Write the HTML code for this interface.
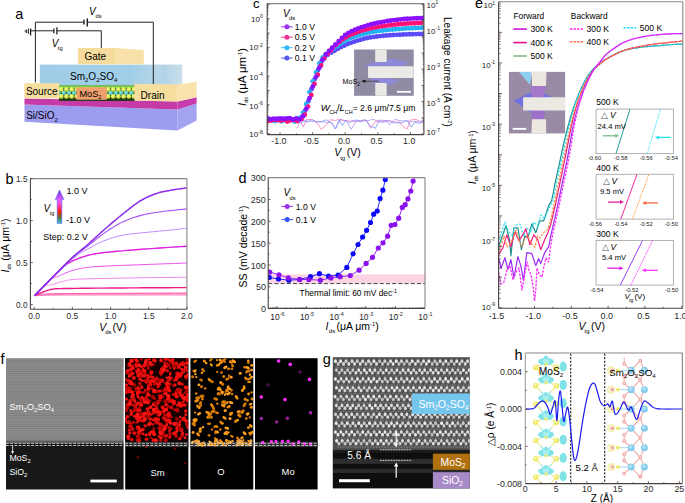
<!DOCTYPE html>
<html><head><meta charset="utf-8"><style>
html,body{margin:0;padding:0;background:#fff;}
svg{display:block;font-family:"Liberation Sans", sans-serif;}
</style></head><body>
<svg width="685" height="503" viewBox="0 0 685 503">
<rect width="685" height="503" fill="#fff"/>
<text x="15.20" y="19.20" font-size="14.5" text-anchor="start" fill="#000" >a</text>
<polyline points="35.40,82.50 35.40,22.20 83.60,22.20" fill="none" stroke="#222" stroke-width="1.0" stroke-linejoin="round" />
<line x1="84.00" y1="19.80" x2="84.00" y2="24.40" stroke="#222" stroke-width="1.5" />
<line x1="87.30" y1="18.40" x2="87.30" y2="26.60" stroke="#222" stroke-width="1.5" />
<text x="89.00" y="14.90" font-size="10" text-anchor="start" fill="#000" font-style="italic" >V</text>
<text x="95.60" y="17.80" font-size="5.8" text-anchor="start" fill="#000" >ds</text>
<polyline points="30.40,30.80 53.90,30.80" fill="none" stroke="#222" stroke-width="1.0" stroke-linejoin="round" />
<polyline points="56.90,30.80 101.30,30.80 101.30,48.30" fill="none" stroke="#222" stroke-width="1.0" stroke-linejoin="round" />
<line x1="53.90" y1="28.40" x2="53.90" y2="33.20" stroke="#222" stroke-width="1.3" />
<line x1="56.90" y1="27.30" x2="56.90" y2="34.40" stroke="#222" stroke-width="1.3" />
<line x1="30.60" y1="28.40" x2="30.60" y2="35.40" stroke="#222" stroke-width="1.3" />
<line x1="28.40" y1="28.60" x2="28.40" y2="34.00" stroke="#222" stroke-width="1.0" />
<line x1="26.60" y1="29.60" x2="26.60" y2="33.00" stroke="#222" stroke-width="1.0" /><line x1="25.20" y1="30.00" x2="25.20" y2="32.40" stroke="#222" stroke-width="0.8" />
<text x="51.80" y="46.50" font-size="10" text-anchor="start" fill="#000" font-style="italic" >V</text>
<text x="57.80" y="49.60" font-size="5.8" text-anchor="start" fill="#000" >tg</text>
<polygon points="24.50,104.60 177.60,109.50 177.60,130.40 24.50,121.80" fill="#9d9def" />
<polygon points="177.60,109.50 196.60,103.60 196.60,120.50 177.60,130.40" fill="#a3a3f2" />
<polygon points="24.50,98.40 177.60,101.60 177.60,109.50 24.50,104.60" fill="#c43aa6" />
<polygon points="177.60,101.60 196.60,97.20 196.60,103.60 177.60,109.50" fill="#c83cac" />
<defs><linearGradient id="smg" x1="0" x2="1"><stop offset="0" stop-color="#9fcde7"/><stop offset="0.75" stop-color="#a2cfe8"/><stop offset="1" stop-color="#b9d6e6"/></linearGradient><linearGradient id="smside" x1="0" x2="1"><stop offset="0" stop-color="#aed3e8"/><stop offset="1" stop-color="#cbdfea"/></linearGradient></defs>
<rect x="39.80" y="64.60" width="122.20" height="21.60" fill="url(#smg)" />
<rect x="162.00" y="64.60" width="20.30" height="21.60" fill="url(#smside)" />
<text x="70.00" y="79.50" font-size="10" text-anchor="start" fill="#000" >Sm<tspan font-size="6" dy="2.2">2</tspan><tspan font-size="10" dy="-2.2">O</tspan><tspan font-size="6" dy="2.2">2</tspan><tspan font-size="10" dy="-2.2">SO</tspan><tspan font-size="6" dy="2.2">4</tspan></text>
<polygon points="77.90,48.00 115.00,48.00 115.00,64.30 77.90,64.30" fill="#f6dc9c" />
<polygon points="115.00,48.00 143.80,50.00 143.80,64.30 115.00,64.30" fill="#f7e1a8" />
<text x="84.40" y="60.40" font-size="10" text-anchor="start" fill="#000" >Gate</text>
<rect x="59.00" y="85.60" width="76.00" height="15.40" fill="#2a3a20" />
<rect x="59.00" y="85.40" width="76.00" height="2.60" fill="#7ccc4a" />
<radialGradient id="by" cx="0.4" cy="0.35" r="0.6"><stop offset="0" stop-color="#f4ff90"/><stop offset="1" stop-color="#c8de30"/></radialGradient><radialGradient id="bt" cx="0.4" cy="0.35" r="0.6"><stop offset="0" stop-color="#90f0e0"/><stop offset="1" stop-color="#40b0a8"/></radialGradient>
<circle cx="58.60" cy="92.90" r="2.40" fill="url(#bt)" />
<circle cx="63.80" cy="92.90" r="2.40" fill="url(#bt)" />
<circle cx="69.00" cy="92.90" r="2.40" fill="url(#bt)" />
<circle cx="74.20" cy="92.90" r="2.40" fill="url(#bt)" />
<circle cx="79.40" cy="92.90" r="2.40" fill="url(#bt)" />
<circle cx="84.60" cy="92.90" r="2.40" fill="url(#bt)" />
<circle cx="89.80" cy="92.90" r="2.40" fill="url(#bt)" />
<circle cx="95.00" cy="92.90" r="2.40" fill="url(#bt)" />
<circle cx="100.20" cy="92.90" r="2.40" fill="url(#bt)" />
<circle cx="105.40" cy="92.90" r="2.40" fill="url(#bt)" />
<circle cx="110.60" cy="92.90" r="2.40" fill="url(#bt)" />
<circle cx="115.80" cy="92.90" r="2.40" fill="url(#bt)" />
<circle cx="121.00" cy="92.90" r="2.40" fill="url(#bt)" />
<circle cx="126.20" cy="92.90" r="2.40" fill="url(#bt)" />
<circle cx="131.40" cy="92.90" r="2.40" fill="url(#bt)" />
<circle cx="61.20" cy="89.30" r="2.40" fill="url(#by)" />
<circle cx="66.40" cy="89.30" r="2.40" fill="url(#by)" />
<circle cx="71.60" cy="89.30" r="2.40" fill="url(#by)" />
<circle cx="76.80" cy="89.30" r="2.40" fill="url(#by)" />
<circle cx="82.00" cy="89.30" r="2.40" fill="url(#by)" />
<circle cx="87.20" cy="89.30" r="2.40" fill="url(#by)" />
<circle cx="92.40" cy="89.30" r="2.40" fill="url(#by)" />
<circle cx="97.60" cy="89.30" r="2.40" fill="url(#by)" />
<circle cx="102.80" cy="89.30" r="2.40" fill="url(#by)" />
<circle cx="108.00" cy="89.30" r="2.40" fill="url(#by)" />
<circle cx="113.20" cy="89.30" r="2.40" fill="url(#by)" />
<circle cx="118.40" cy="89.30" r="2.40" fill="url(#by)" />
<circle cx="123.60" cy="89.30" r="2.40" fill="url(#by)" />
<circle cx="128.80" cy="89.30" r="2.40" fill="url(#by)" />
<circle cx="134.00" cy="89.30" r="2.40" fill="url(#by)" />
<circle cx="61.20" cy="96.40" r="2.40" fill="url(#by)" />
<circle cx="66.40" cy="96.40" r="2.40" fill="url(#by)" />
<circle cx="71.60" cy="96.40" r="2.40" fill="url(#by)" />
<circle cx="76.80" cy="96.40" r="2.40" fill="url(#by)" />
<circle cx="82.00" cy="96.40" r="2.40" fill="url(#by)" />
<circle cx="87.20" cy="96.40" r="2.40" fill="url(#by)" />
<circle cx="92.40" cy="96.40" r="2.40" fill="url(#by)" />
<circle cx="97.60" cy="96.40" r="2.40" fill="url(#by)" />
<circle cx="102.80" cy="96.40" r="2.40" fill="url(#by)" />
<circle cx="108.00" cy="96.40" r="2.40" fill="url(#by)" />
<circle cx="113.20" cy="96.40" r="2.40" fill="url(#by)" />
<circle cx="118.40" cy="96.40" r="2.40" fill="url(#by)" />
<circle cx="123.60" cy="96.40" r="2.40" fill="url(#by)" />
<circle cx="128.80" cy="96.40" r="2.40" fill="url(#by)" />
<circle cx="134.00" cy="96.40" r="2.40" fill="url(#by)" />
<rect x="76.40" y="87.30" width="30.40" height="12.40" fill="#efa06c" />
<text x="79.40" y="96.60" font-size="9.2" text-anchor="start" fill="#000" >MoS<tspan font-size="5.8" dy="2.2">2</tspan></text>
<rect x="24.30" y="83.20" width="34.80" height="15.20" fill="#f6de9e" />
<text x="25.90" y="94.70" font-size="10" text-anchor="start" fill="#000" >Source</text>
<polygon points="134.30,83.80 177.60,84.40 177.60,101.60 134.30,100.60" fill="#f6de9e" />
<polygon points="177.60,84.40 196.60,81.80 196.60,97.20 177.60,101.60" fill="#f8e3ad" />
<text x="140.60" y="98.80" font-size="10" text-anchor="start" fill="#000" >Drain</text>
<polyline points="87.30,22.20 153.30,22.20 153.30,84.00" fill="none" stroke="#222" stroke-width="1.0" stroke-linejoin="round" />
<text x="26.20" y="119.40" font-size="10" text-anchor="start" fill="#000" >Si/SiO<tspan font-size="6" dy="2.2">2</tspan></text>
<text x="5.40" y="183.80" font-size="14.5" text-anchor="start" fill="#000" >b</text>
<polyline points="34.60,295.60 36.05,295.59 37.82,295.57 39.89,295.55 42.23,295.53 44.80,295.51 47.57,295.48 50.51,295.46 53.58,295.44 56.75,295.42 60.00,295.40 63.20,295.39 66.32,295.37 69.45,295.36 72.70,295.35 76.16,295.34 79.92,295.33 84.09,295.32 88.76,295.31 94.03,295.31 100.00,295.30 107.18,295.30 115.77,295.29 125.36,295.29 135.55,295.29 145.95,295.29 156.15,295.30 165.74,295.30 174.33,295.30 181.52,295.30 186.90,295.30" fill="none" stroke="#ffb0d6" stroke-width="0.9" stroke-linejoin="round" />
<polyline points="34.60,295.60 36.05,295.56 37.82,295.50 39.89,295.43 42.23,295.35 44.80,295.26 47.57,295.18 50.51,295.10 53.58,295.02 56.75,294.95 60.00,294.90 63.20,294.86 66.32,294.83 69.45,294.80 72.70,294.78 76.16,294.76 79.92,294.75 84.09,294.74 88.76,294.73 94.03,294.71 100.00,294.70 107.18,294.69 115.77,294.67 125.36,294.66 135.55,294.65 145.95,294.64 156.15,294.63 165.74,294.62 174.33,294.61 181.52,294.61 186.90,294.60" fill="none" stroke="#ff9ccc" stroke-width="0.9" stroke-linejoin="round" />
<polyline points="34.60,295.60 35.70,295.52 36.98,295.42 38.45,295.30 40.11,295.17 41.99,295.02 44.09,294.88 46.43,294.74 49.02,294.61 51.87,294.49 55.00,294.40 58.32,294.33 61.76,294.27 65.37,294.21 69.22,294.17 73.34,294.14 77.80,294.11 82.65,294.08 87.92,294.05 93.69,294.03 100.00,294.00 107.38,293.97 116.09,293.94 125.73,293.92 135.91,293.90 146.26,293.88 156.39,293.86 165.90,293.84 174.41,293.82 181.54,293.81 186.90,293.80" fill="none" stroke="#ff78b8" stroke-width="1.0" stroke-linejoin="round" />
<polyline points="34.60,295.60 35.36,295.49 36.14,295.33 37.00,295.15 37.99,294.94 39.18,294.73 40.61,294.51 42.35,294.29 44.46,294.10 46.99,293.93 50.00,293.80 53.43,293.70 57.20,293.63 61.29,293.58 65.74,293.54 70.53,293.51 75.68,293.49 81.20,293.48 87.08,293.46 93.35,293.43 100.00,293.40 107.59,293.36 116.41,293.31 126.10,293.27 136.27,293.22 146.57,293.17 156.63,293.13 166.05,293.09 174.49,293.05 181.56,293.02 186.90,293.00" fill="none" stroke="#ff5aa8" stroke-width="1.0" stroke-linejoin="round" />
<polyline points="34.60,295.60 35.01,295.42 35.52,295.20 36.11,294.93 36.78,294.63 37.51,294.31 38.30,293.97 39.12,293.62 39.97,293.27 40.83,292.93 41.70,292.60 42.57,292.27 43.47,291.92 44.39,291.55 45.35,291.18 46.33,290.81 47.35,290.45 48.42,290.12 49.53,289.80 50.69,289.53 51.90,289.30 52.96,289.12 53.76,288.98 54.42,288.87 55.08,288.79 55.87,288.73 56.93,288.69 58.39,288.65 60.38,288.61 63.04,288.56 66.50,288.50 70.90,288.43 76.18,288.36 82.16,288.30 88.70,288.23 95.61,288.17 102.73,288.11 109.89,288.05 116.94,288.00 123.70,287.95 130.00,287.90 136.21,287.86 142.71,287.82 149.35,287.78 155.97,287.74 162.42,287.71 168.55,287.68 174.22,287.66 179.27,287.64 183.54,287.62 186.90,287.60" fill="none" stroke="#ee1a8a" stroke-width="1.4" stroke-linejoin="round" />
<polyline points="34.60,295.60 35.17,295.02 35.90,294.23 36.78,293.28 37.76,292.23 38.81,291.11 39.90,289.99 40.99,288.91 42.07,287.91 43.08,287.06 44.00,286.40 44.83,285.93 45.62,285.59 46.36,285.37 47.09,285.22 47.81,285.14 48.54,285.08 49.30,285.02 50.10,284.94 50.96,284.81 51.90,284.60 52.90,284.32 53.95,284.00 55.04,283.65 56.17,283.29 57.33,282.91 58.53,282.54 59.76,282.17 61.01,281.82 62.30,281.49 63.60,281.20 64.78,280.94 65.74,280.70 66.60,280.47 67.45,280.26 68.39,280.06 69.54,279.88 70.99,279.70 72.85,279.53 75.22,279.36 78.20,279.20 81.85,279.05 86.10,278.90 90.85,278.77 96.00,278.64 101.46,278.52 107.13,278.41 112.91,278.31 118.72,278.20 124.45,278.10 130.00,278.00 135.74,277.90 141.96,277.80 148.49,277.71 155.12,277.61 161.69,277.52 167.99,277.44 173.85,277.37 179.08,277.30 183.49,277.25 186.90,277.20" fill="none" stroke="#f38af0" stroke-width="1.0" stroke-linejoin="round" />
<polyline points="34.60,295.60 35.54,294.62 36.79,293.30 38.28,291.71 39.95,289.94 41.73,288.06 43.55,286.17 45.35,284.33 47.07,282.64 48.64,281.17 50.00,280.00 51.16,279.12 52.20,278.44 53.14,277.92 54.01,277.53 54.83,277.23 55.64,276.98 56.45,276.75 57.30,276.50 58.21,276.19 59.20,275.80 60.26,275.34 61.33,274.86 62.43,274.36 63.56,273.86 64.71,273.35 65.89,272.85 67.10,272.36 68.33,271.88 69.60,271.43 70.90,271.00 72.23,270.59 73.59,270.20 74.98,269.81 76.39,269.44 77.84,269.09 79.31,268.75 80.82,268.43 82.35,268.13 83.91,267.85 85.50,267.60 87.09,267.38 88.66,267.19 90.24,267.02 91.84,266.88 93.47,266.76 95.18,266.64 96.96,266.53 98.85,266.43 100.85,266.32 103.00,266.20 105.30,266.08 107.74,265.96 110.31,265.85 112.97,265.74 115.72,265.63 118.53,265.53 121.38,265.42 124.26,265.32 127.14,265.21 130.00,265.10 132.89,264.99 135.86,264.88 138.88,264.77 141.93,264.66 145.01,264.54 148.08,264.43 151.13,264.32 154.15,264.21 157.11,264.11 160.00,264.00 162.94,263.89 166.01,263.78 169.15,263.66 172.27,263.54 175.32,263.43 178.23,263.32 180.90,263.22 183.29,263.13 185.31,263.06 186.90,263.00" fill="none" stroke="#ee50ee" stroke-width="1.0" stroke-linejoin="round" />
<polyline points="34.60,295.60 36.19,293.99 38.33,291.81 40.90,289.20 43.77,286.29 46.80,283.21 49.87,280.09 52.86,277.08 55.63,274.31 58.05,271.90 60.00,270.00 61.49,268.57 62.68,267.45 63.61,266.60 64.35,265.95 64.95,265.46 65.48,265.07 65.99,264.73 66.54,264.39 67.19,264.00 68.00,263.50 68.92,262.94 69.85,262.40 70.81,261.88 71.78,261.38 72.78,260.89 73.81,260.42 74.86,259.95 75.94,259.50 77.05,259.05 78.20,258.60 79.39,258.16 80.61,257.71 81.87,257.28 83.16,256.85 84.48,256.43 85.81,256.03 87.17,255.64 88.54,255.27 89.92,254.92 91.30,254.60 92.66,254.31 93.97,254.04 95.27,253.81 96.58,253.59 97.91,253.39 99.30,253.19 100.77,253.00 102.35,252.81 104.05,252.61 105.90,252.40 107.90,252.18 110.02,251.96 112.25,251.74 114.57,251.52 116.99,251.30 119.48,251.08 122.04,250.86 124.65,250.64 127.31,250.42 130.00,250.20 132.78,249.98 135.67,249.75 138.66,249.53 141.72,249.30 144.83,249.07 147.94,248.85 151.04,248.63 154.10,248.41 157.10,248.20 160.00,248.00 162.94,247.80 166.01,247.59 169.15,247.37 172.27,247.16 175.32,246.96 178.23,246.77 180.90,246.60 183.29,246.44 185.31,246.31 186.90,246.20" fill="none" stroke="#e020e0" stroke-width="1.4" stroke-linejoin="round" />
<polyline points="34.60,295.60 36.79,293.44 39.70,290.53 43.18,287.04 47.07,283.16 51.21,279.04 55.43,274.86 59.58,270.79 63.50,267.01 67.03,263.69 70.00,261.00 72.47,258.88 74.65,257.13 76.57,255.69 78.29,254.49 79.87,253.49 81.36,252.61 82.81,251.80 84.29,251.00 85.83,250.16 87.50,249.20 89.25,248.18 91.00,247.19 92.75,246.23 94.50,245.29 96.24,244.39 97.99,243.52 99.74,242.68 101.49,241.88 103.25,241.12 105.00,240.40 106.76,239.72 108.52,239.08 110.28,238.48 112.04,237.92 113.80,237.39 115.56,236.89 117.32,236.43 119.08,235.99 120.84,235.58 122.60,235.20 124.35,234.86 126.11,234.56 127.86,234.30 129.61,234.08 131.36,233.88 133.10,233.70 134.85,233.53 136.60,233.36 138.35,233.19 140.10,233.00 141.85,232.81 143.60,232.63 145.35,232.45 147.10,232.28 148.85,232.12 150.60,231.96 152.35,231.79 154.10,231.63 155.85,231.47 157.60,231.30 159.38,231.13 161.19,230.96 163.03,230.78 164.87,230.61 166.71,230.43 168.51,230.26 170.27,230.09 171.96,229.92 173.58,229.76 175.10,229.60 176.56,229.44 178.01,229.28 179.43,229.11 180.80,228.95 182.09,228.79 183.30,228.64 184.41,228.51 185.39,228.39 186.22,228.28 186.90,228.20" fill="none" stroke="#bb88ff" stroke-width="1.0" stroke-linejoin="round" />
<polyline points="34.60,295.60 36.79,293.40 39.70,290.44 43.18,286.91 47.07,282.96 51.21,278.78 55.43,274.52 59.58,270.36 63.50,266.48 67.03,263.03 70.00,260.20 72.47,257.93 74.65,256.02 76.57,254.41 78.29,253.04 79.87,251.84 81.36,250.74 82.81,249.70 84.29,248.63 85.83,247.49 87.50,246.20 89.25,244.81 91.00,243.41 92.75,242.00 94.50,240.59 96.24,239.19 97.99,237.80 99.74,236.45 101.49,235.12 103.25,233.84 105.00,232.60 106.76,231.40 108.52,230.22 110.28,229.07 112.04,227.94 113.80,226.85 115.56,225.79 117.32,224.78 119.08,223.80 120.84,222.88 122.60,222.00 124.35,221.18 126.11,220.40 127.86,219.68 129.61,218.99 131.36,218.35 133.10,217.74 134.85,217.17 136.60,216.62 138.35,216.10 140.10,215.60 141.85,215.13 143.60,214.71 145.35,214.32 147.10,213.96 148.85,213.63 150.60,213.32 152.35,213.03 154.10,212.75 155.85,212.47 157.60,212.20 159.38,211.93 161.19,211.68 163.03,211.45 164.87,211.22 166.71,211.01 168.51,210.81 170.27,210.62 171.96,210.44 173.58,210.27 175.10,210.10 176.56,209.94 178.01,209.78 179.43,209.64 180.80,209.50 182.09,209.37 183.30,209.25 184.41,209.14 185.39,209.05 186.22,208.97 186.90,208.90" fill="none" stroke="#a050f5" stroke-width="1.1" stroke-linejoin="round" />
<polyline points="34.60,295.60 36.79,293.37 39.70,290.38 43.18,286.81 47.07,282.82 51.21,278.58 55.43,274.27 59.58,270.06 63.50,266.11 67.03,262.60 70.00,259.70 72.47,257.36 74.65,255.39 76.57,253.71 78.29,252.27 79.87,250.99 81.36,249.82 82.81,248.67 84.29,247.50 85.83,246.23 87.50,244.80 89.25,243.25 91.00,241.68 92.75,240.09 94.50,238.50 96.24,236.89 97.99,235.29 99.74,233.69 101.49,232.11 103.25,230.54 105.00,229.00 106.76,227.47 108.52,225.95 110.28,224.44 112.04,222.93 113.80,221.44 115.56,219.96 117.32,218.49 119.08,217.04 120.84,215.61 122.60,214.20 124.35,212.79 126.11,211.37 127.86,209.96 129.61,208.55 131.36,207.17 133.10,205.82 134.85,204.52 136.60,203.28 138.35,202.10 140.10,201.00 141.85,199.98 143.60,199.01 145.35,198.10 147.10,197.25 148.85,196.44 150.60,195.69 152.35,194.98 154.10,194.31 155.85,193.69 157.60,193.10 159.38,192.56 161.19,192.09 163.03,191.67 164.87,191.30 166.71,190.96 168.51,190.66 170.27,190.38 171.96,190.11 173.58,189.86 175.10,189.60 176.56,189.35 178.01,189.12 179.43,188.90 180.80,188.71 182.09,188.53 183.30,188.37 184.41,188.23 185.39,188.10 186.22,187.99 186.90,187.90" fill="none" stroke="#8a2be8" stroke-width="1.5" stroke-linejoin="round" />
<line x1="30.40" y1="178.60" x2="186.90" y2="178.60" stroke="#8a8484" stroke-width="1.1" /><line x1="186.90" y1="178.60" x2="186.90" y2="309.20" stroke="#8a8484" stroke-width="1.1" /><line x1="30.40" y1="178.60" x2="30.40" y2="309.20" stroke="#4b4040" stroke-width="1.1" /><line x1="30.40" y1="309.20" x2="186.90" y2="309.20" stroke="#4b4040" stroke-width="1.1" />
<line x1="34.20" y1="309.20" x2="34.20" y2="306.80" stroke="#4b4040" stroke-width="0.8" />
<line x1="53.29" y1="309.20" x2="53.29" y2="307.80" stroke="#4b4040" stroke-width="0.8" />
<line x1="72.38" y1="309.20" x2="72.38" y2="306.80" stroke="#4b4040" stroke-width="0.8" />
<line x1="91.46" y1="309.20" x2="91.46" y2="307.80" stroke="#4b4040" stroke-width="0.8" />
<line x1="110.55" y1="309.20" x2="110.55" y2="306.80" stroke="#4b4040" stroke-width="0.8" />
<line x1="129.64" y1="309.20" x2="129.64" y2="307.80" stroke="#4b4040" stroke-width="0.8" />
<line x1="148.72" y1="309.20" x2="148.72" y2="306.80" stroke="#4b4040" stroke-width="0.8" />
<line x1="167.81" y1="309.20" x2="167.81" y2="307.80" stroke="#4b4040" stroke-width="0.8" />
<line x1="186.90" y1="309.20" x2="186.90" y2="306.80" stroke="#4b4040" stroke-width="0.8" />
<line x1="30.40" y1="304.60" x2="32.80" y2="304.60" stroke="#4b4040" stroke-width="0.8" />
<line x1="30.40" y1="283.60" x2="31.80" y2="283.60" stroke="#4b4040" stroke-width="0.8" />
<line x1="30.40" y1="262.60" x2="32.80" y2="262.60" stroke="#4b4040" stroke-width="0.8" />
<line x1="30.40" y1="241.60" x2="31.80" y2="241.60" stroke="#4b4040" stroke-width="0.8" />
<line x1="30.40" y1="220.60" x2="32.80" y2="220.60" stroke="#4b4040" stroke-width="0.8" />
<line x1="30.40" y1="199.60" x2="31.80" y2="199.60" stroke="#4b4040" stroke-width="0.8" />
<line x1="30.40" y1="178.60" x2="32.80" y2="178.60" stroke="#4b4040" stroke-width="0.8" />
<text x="34.20" y="319.20" font-size="8.4" text-anchor="middle" fill="#2a2a2a" >0.0</text>
<text x="72.38" y="319.20" font-size="8.4" text-anchor="middle" fill="#2a2a2a" >0.5</text>
<text x="110.55" y="319.20" font-size="8.4" text-anchor="middle" fill="#2a2a2a" >1.0</text>
<text x="148.72" y="319.20" font-size="8.4" text-anchor="middle" fill="#2a2a2a" >1.5</text>
<text x="186.90" y="319.20" font-size="8.4" text-anchor="middle" fill="#2a2a2a" >2.0</text>
<text x="27.60" y="307.70" font-size="8.4" text-anchor="end" fill="#2a2a2a" >0.0</text>
<text x="27.60" y="265.70" font-size="8.4" text-anchor="end" fill="#2a2a2a" >0.5</text>
<text x="27.60" y="223.70" font-size="8.4" text-anchor="end" fill="#2a2a2a" >1.0</text>
<text x="27.60" y="181.70" font-size="8.4" text-anchor="end" fill="#2a2a2a" >1.5</text>
<text x="99.30" y="330.60" font-size="10.5" text-anchor="start" fill="#000" font-style="italic" >V</text>
<text x="105.20" y="333.80" font-size="6" text-anchor="start" fill="#000" >ds</text>
<text x="112.60" y="330.60" font-size="10.5" text-anchor="start" fill="#000" >(V)</text>
<g transform="translate(8.8,245.5) rotate(-90)"><text x="0" y="0" font-size="10.5" text-anchor="middle"><tspan font-style="italic">I</tspan><tspan font-size="5.6" dy="2">ds</tspan><tspan dy="-2"> (μA μm</tspan><tspan font-size="5.6" dy="-3.4">-1</tspan><tspan dy="3.4">)</tspan></text></g>
<defs><linearGradient id="vtg" x1="0" y1="1" x2="0" y2="0"><stop offset="0" stop-color="#30d0d0"/><stop offset="0.18" stop-color="#607030"/><stop offset="0.35" stop-color="#ff2000"/><stop offset="0.55" stop-color="#ff40c0"/><stop offset="0.7" stop-color="#e060ff"/><stop offset="1" stop-color="#6a30d8"/></linearGradient></defs>
<polygon points="57.20,223.40 57.20,199.60 55.30,199.60 59.50,190.00 63.90,199.60 61.80,199.60 61.80,223.40" fill="url(#vtg)" stroke="#5a5aff" stroke-width="0.6"/>
<text x="66.60" y="193.90" font-size="9" text-anchor="start" fill="#000" >1.0 V</text>
<text x="65.90" y="222.60" font-size="9" text-anchor="start" fill="#000" >-1.0 V</text>
<text x="43.20" y="239.50" font-size="9" text-anchor="start" fill="#000" >Step: 0.2 V</text>
<text x="43.60" y="211.50" font-size="10" text-anchor="start" fill="#000" font-style="italic" >V</text>
<text x="49.80" y="214.60" font-size="5.6" text-anchor="start" fill="#000" >tg</text>
<text x="253.00" y="8.10" font-size="13" text-anchor="start" fill="#000" >c</text>
<polyline points="297.00,128.25 300.22,121.14 303.39,127.17 306.60,119.36 312.08,119.50 316.96,122.79 321.15,129.29 325.02,126.54 330.47,119.72 335.39,120.49 338.58,119.24 343.62,120.71 348.37,120.81 353.76,121.80 358.48,121.10 363.67,120.15 367.02,120.67 370.48,128.34 375.77,121.29 379.71,121.78 384.45,120.82 390.29,120.90 393.47,121.81 399.45,122.29 403.61,127.31 407.11,128.84 410.50,119.99 416.11,119.32 420.76,122.53 423.50,121.00" fill="none" stroke="#ff66b0" stroke-width="0.7" stroke-linejoin="round" />
<polyline points="297.00,120.71 301.08,123.14 304.53,120.30 308.23,121.54 312.02,119.62 316.13,121.87 321.20,121.66 326.23,119.82 331.57,123.10 335.74,128.77 338.93,119.87 342.42,125.60 345.87,120.01 348.95,123.10 352.39,120.61 356.48,120.09 362.46,121.46 365.72,120.01 369.52,125.72 375.37,128.32 378.45,121.71 384.04,122.38 388.14,120.27 392.74,122.72 396.41,122.85 401.96,122.82 407.18,120.51 411.25,127.00 415.03,122.37 419.37,123.35 423.50,121.60" fill="none" stroke="#6688ff" stroke-width="0.7" stroke-linejoin="round" />
<polyline points="297.00,120.06 300.68,119.39 305.55,122.20 309.99,121.21 313.25,121.24 318.59,121.60 322.13,121.76 327.53,122.49 331.73,122.39 335.24,129.12 340.66,119.18 346.61,121.23 351.25,129.45 356.20,120.71 360.50,122.09 364.13,119.61 367.86,120.95 372.11,119.12 376.17,120.43 381.89,120.28 386.39,120.73 389.45,124.62 394.85,119.29 400.02,120.83 404.58,120.82 407.90,120.84 411.73,121.69 416.41,121.64 420.74,121.05 423.50,120.60" fill="none" stroke="#9a88f0" stroke-width="0.7" stroke-linejoin="round" />
<clipPath id="cpc"><rect x="267.2" y="3.6" width="156.7" height="131.0"/></clipPath><g clip-path="url(#cpc)">
<circle cx="269.40" cy="119.26" r="2.45" fill="#5a4cf8" />
<circle cx="272.66" cy="120.10" r="2.45" fill="#5a4cf8" />
<circle cx="275.93" cy="120.02" r="2.45" fill="#5a4cf8" />
<circle cx="279.19" cy="119.77" r="2.45" fill="#5a4cf8" />
<circle cx="282.44" cy="119.35" r="2.45" fill="#5a4cf8" />
<circle cx="285.71" cy="120.27" r="2.45" fill="#5a4cf8" />
<circle cx="288.97" cy="120.33" r="2.45" fill="#5a4cf8" />
<circle cx="292.23" cy="119.91" r="2.45" fill="#5a4cf8" />
<circle cx="295.49" cy="119.91" r="2.45" fill="#5a4cf8" />
<circle cx="298.75" cy="119.29" r="2.45" fill="#5a4cf8" />
<circle cx="301.70" cy="117.25" r="2.45" fill="#5a4cf8" />
<circle cx="304.97" cy="110.85" r="2.45" fill="#5a4cf8" />
<circle cx="308.23" cy="101.37" r="2.45" fill="#5a4cf8" />
<circle cx="311.49" cy="89.25" r="2.45" fill="#5a4cf8" />
<circle cx="314.75" cy="79.11" r="2.45" fill="#5a4cf8" />
<circle cx="318.00" cy="69.97" r="2.45" fill="#5a4cf8" />
<circle cx="321.27" cy="62.05" r="2.45" fill="#5a4cf8" />
<circle cx="324.53" cy="57.48" r="2.45" fill="#5a4cf8" />
<circle cx="327.79" cy="54.83" r="2.45" fill="#5a4cf8" />
<circle cx="331.35" cy="52.54" r="2.45" fill="#5a4cf8" />
<circle cx="334.61" cy="50.70" r="2.45" fill="#5a4cf8" />
<circle cx="337.87" cy="48.86" r="2.45" fill="#5a4cf8" />
<circle cx="341.13" cy="47.11" r="2.45" fill="#5a4cf8" />
<circle cx="344.39" cy="45.50" r="2.45" fill="#5a4cf8" />
<circle cx="347.65" cy="44.10" r="2.45" fill="#5a4cf8" />
<circle cx="350.91" cy="42.87" r="2.45" fill="#5a4cf8" />
<circle cx="354.17" cy="41.72" r="2.45" fill="#5a4cf8" />
<circle cx="357.43" cy="40.66" r="2.45" fill="#5a4cf8" />
<circle cx="360.69" cy="39.68" r="2.45" fill="#5a4cf8" />
<circle cx="363.95" cy="38.80" r="2.45" fill="#5a4cf8" />
<circle cx="367.21" cy="38.03" r="2.45" fill="#5a4cf8" />
<circle cx="370.47" cy="37.40" r="2.45" fill="#5a4cf8" />
<circle cx="373.73" cy="36.88" r="2.45" fill="#5a4cf8" />
<circle cx="376.99" cy="36.46" r="2.45" fill="#5a4cf8" />
<circle cx="380.25" cy="36.11" r="2.45" fill="#5a4cf8" />
<circle cx="383.51" cy="35.78" r="2.45" fill="#5a4cf8" />
<circle cx="386.77" cy="35.47" r="2.45" fill="#5a4cf8" />
<circle cx="390.03" cy="35.22" r="2.45" fill="#5a4cf8" />
<circle cx="393.29" cy="35.01" r="2.45" fill="#5a4cf8" />
<circle cx="396.55" cy="34.84" r="2.45" fill="#5a4cf8" />
<circle cx="399.81" cy="34.70" r="2.45" fill="#5a4cf8" />
<circle cx="403.07" cy="34.56" r="2.45" fill="#5a4cf8" />
<circle cx="406.33" cy="34.42" r="2.45" fill="#5a4cf8" />
<circle cx="409.59" cy="34.30" r="2.45" fill="#5a4cf8" />
<circle cx="412.85" cy="34.20" r="2.45" fill="#5a4cf8" />
<circle cx="416.11" cy="34.11" r="2.45" fill="#5a4cf8" />
<circle cx="419.37" cy="34.02" r="2.45" fill="#5a4cf8" />
<circle cx="422.63" cy="33.93" r="2.45" fill="#5a4cf8" />
<circle cx="268.59" cy="119.99" r="2.45" fill="#22b2f6" />
<circle cx="271.85" cy="120.65" r="2.45" fill="#22b2f6" />
<circle cx="275.11" cy="121.00" r="2.45" fill="#22b2f6" />
<circle cx="278.37" cy="119.89" r="2.45" fill="#22b2f6" />
<circle cx="281.63" cy="121.26" r="2.45" fill="#22b2f6" />
<circle cx="284.89" cy="120.07" r="2.45" fill="#22b2f6" />
<circle cx="288.15" cy="120.04" r="2.45" fill="#22b2f6" />
<circle cx="291.41" cy="119.68" r="2.45" fill="#22b2f6" />
<circle cx="294.67" cy="121.59" r="2.45" fill="#22b2f6" />
<circle cx="297.93" cy="120.89" r="2.45" fill="#22b2f6" />
<circle cx="299.79" cy="118.04" r="2.45" fill="#22b2f6" />
<circle cx="303.05" cy="112.85" r="2.45" fill="#22b2f6" />
<circle cx="306.31" cy="104.18" r="2.45" fill="#22b2f6" />
<circle cx="309.57" cy="92.09" r="2.45" fill="#22b2f6" />
<circle cx="312.83" cy="81.42" r="2.45" fill="#22b2f6" />
<circle cx="316.09" cy="72.38" r="2.45" fill="#22b2f6" />
<circle cx="319.35" cy="63.57" r="2.45" fill="#22b2f6" />
<circle cx="322.61" cy="57.45" r="2.45" fill="#22b2f6" />
<circle cx="325.87" cy="53.84" r="2.45" fill="#22b2f6" />
<circle cx="330.53" cy="50.92" r="2.45" fill="#22b2f6" />
<circle cx="333.79" cy="48.54" r="2.45" fill="#22b2f6" />
<circle cx="337.05" cy="46.15" r="2.45" fill="#22b2f6" />
<circle cx="340.31" cy="43.81" r="2.45" fill="#22b2f6" />
<circle cx="343.57" cy="41.68" r="2.45" fill="#22b2f6" />
<circle cx="346.83" cy="39.88" r="2.45" fill="#22b2f6" />
<circle cx="350.09" cy="38.42" r="2.45" fill="#22b2f6" />
<circle cx="353.35" cy="37.14" r="2.45" fill="#22b2f6" />
<circle cx="356.61" cy="36.01" r="2.45" fill="#22b2f6" />
<circle cx="359.87" cy="34.99" r="2.45" fill="#22b2f6" />
<circle cx="363.13" cy="34.05" r="2.45" fill="#22b2f6" />
<circle cx="366.39" cy="33.20" r="2.45" fill="#22b2f6" />
<circle cx="369.65" cy="32.47" r="2.45" fill="#22b2f6" />
<circle cx="372.91" cy="31.87" r="2.45" fill="#22b2f6" />
<circle cx="376.17" cy="31.36" r="2.45" fill="#22b2f6" />
<circle cx="379.43" cy="30.92" r="2.45" fill="#22b2f6" />
<circle cx="382.69" cy="30.52" r="2.45" fill="#22b2f6" />
<circle cx="385.95" cy="30.14" r="2.45" fill="#22b2f6" />
<circle cx="389.21" cy="29.78" r="2.45" fill="#22b2f6" />
<circle cx="392.47" cy="29.47" r="2.45" fill="#22b2f6" />
<circle cx="395.73" cy="29.20" r="2.45" fill="#22b2f6" />
<circle cx="398.99" cy="28.96" r="2.45" fill="#22b2f6" />
<circle cx="402.25" cy="28.74" r="2.45" fill="#22b2f6" />
<circle cx="405.51" cy="28.53" r="2.45" fill="#22b2f6" />
<circle cx="408.77" cy="28.35" r="2.45" fill="#22b2f6" />
<circle cx="412.03" cy="28.19" r="2.45" fill="#22b2f6" />
<circle cx="415.29" cy="28.05" r="2.45" fill="#22b2f6" />
<circle cx="418.55" cy="27.91" r="2.45" fill="#22b2f6" />
<circle cx="421.81" cy="27.78" r="2.45" fill="#22b2f6" />
<circle cx="267.77" cy="120.95" r="2.45" fill="#ff1177" />
<circle cx="271.03" cy="120.52" r="2.45" fill="#ff1177" />
<circle cx="274.29" cy="119.45" r="2.45" fill="#ff1177" />
<circle cx="277.56" cy="120.13" r="2.45" fill="#ff1177" />
<circle cx="280.81" cy="120.55" r="2.45" fill="#ff1177" />
<circle cx="284.07" cy="119.83" r="2.45" fill="#ff1177" />
<circle cx="287.33" cy="121.50" r="2.45" fill="#ff1177" />
<circle cx="290.60" cy="120.31" r="2.45" fill="#ff1177" />
<circle cx="293.86" cy="119.80" r="2.45" fill="#ff1177" />
<circle cx="297.12" cy="120.94" r="2.45" fill="#ff1177" />
<circle cx="301.48" cy="118.95" r="2.45" fill="#ff1177" />
<circle cx="304.74" cy="114.68" r="2.45" fill="#ff1177" />
<circle cx="308.00" cy="106.59" r="2.45" fill="#ff1177" />
<circle cx="311.26" cy="95.03" r="2.45" fill="#ff1177" />
<circle cx="314.52" cy="83.88" r="2.45" fill="#ff1177" />
<circle cx="317.78" cy="74.65" r="2.45" fill="#ff1177" />
<circle cx="321.04" cy="65.50" r="2.45" fill="#ff1177" />
<circle cx="324.30" cy="58.39" r="2.45" fill="#ff1177" />
<circle cx="327.56" cy="53.87" r="2.45" fill="#ff1177" />
<circle cx="330.82" cy="50.45" r="2.45" fill="#ff1177" />
<circle cx="332.98" cy="47.59" r="2.45" fill="#ff1177" />
<circle cx="336.24" cy="44.83" r="2.45" fill="#ff1177" />
<circle cx="339.50" cy="42.01" r="2.45" fill="#ff1177" />
<circle cx="342.75" cy="39.42" r="2.45" fill="#ff1177" />
<circle cx="346.02" cy="37.20" r="2.45" fill="#ff1177" />
<circle cx="349.28" cy="35.45" r="2.45" fill="#ff1177" />
<circle cx="352.54" cy="34.01" r="2.45" fill="#ff1177" />
<circle cx="355.80" cy="32.74" r="2.45" fill="#ff1177" />
<circle cx="359.06" cy="31.62" r="2.45" fill="#ff1177" />
<circle cx="362.31" cy="30.59" r="2.45" fill="#ff1177" />
<circle cx="365.58" cy="29.63" r="2.45" fill="#ff1177" />
<circle cx="368.84" cy="28.77" r="2.45" fill="#ff1177" />
<circle cx="372.10" cy="28.02" r="2.45" fill="#ff1177" />
<circle cx="375.36" cy="27.39" r="2.45" fill="#ff1177" />
<circle cx="378.62" cy="26.83" r="2.45" fill="#ff1177" />
<circle cx="381.88" cy="26.32" r="2.45" fill="#ff1177" />
<circle cx="385.14" cy="25.84" r="2.45" fill="#ff1177" />
<circle cx="388.40" cy="25.39" r="2.45" fill="#ff1177" />
<circle cx="391.66" cy="24.99" r="2.45" fill="#ff1177" />
<circle cx="394.92" cy="24.63" r="2.45" fill="#ff1177" />
<circle cx="398.18" cy="24.32" r="2.45" fill="#ff1177" />
<circle cx="401.44" cy="24.04" r="2.45" fill="#ff1177" />
<circle cx="404.70" cy="23.78" r="2.45" fill="#ff1177" />
<circle cx="407.96" cy="23.56" r="2.45" fill="#ff1177" />
<circle cx="411.22" cy="23.37" r="2.45" fill="#ff1177" />
<circle cx="414.48" cy="23.21" r="2.45" fill="#ff1177" />
<circle cx="417.74" cy="23.06" r="2.45" fill="#ff1177" />
<circle cx="421.00" cy="22.92" r="2.45" fill="#ff1177" />
<circle cx="266.96" cy="118.07" r="2.45" fill="#8a10ff" />
<circle cx="270.22" cy="119.23" r="2.45" fill="#8a10ff" />
<circle cx="273.48" cy="118.61" r="2.45" fill="#8a10ff" />
<circle cx="276.74" cy="118.79" r="2.45" fill="#8a10ff" />
<circle cx="280.00" cy="118.53" r="2.45" fill="#8a10ff" />
<circle cx="283.26" cy="118.76" r="2.45" fill="#8a10ff" />
<circle cx="286.52" cy="118.37" r="2.45" fill="#8a10ff" />
<circle cx="289.78" cy="118.18" r="2.45" fill="#8a10ff" />
<circle cx="293.04" cy="119.35" r="2.45" fill="#8a10ff" />
<circle cx="296.30" cy="118.46" r="2.45" fill="#8a10ff" />
<circle cx="299.56" cy="119.17" r="2.45" fill="#8a10ff" />
<circle cx="303.02" cy="116.13" r="2.45" fill="#8a10ff" />
<circle cx="306.28" cy="108.78" r="2.45" fill="#8a10ff" />
<circle cx="309.54" cy="98.21" r="2.45" fill="#8a10ff" />
<circle cx="312.80" cy="86.50" r="2.45" fill="#8a10ff" />
<circle cx="316.06" cy="76.87" r="2.45" fill="#8a10ff" />
<circle cx="319.32" cy="67.70" r="2.45" fill="#8a10ff" />
<circle cx="322.58" cy="59.83" r="2.45" fill="#8a10ff" />
<circle cx="325.84" cy="54.54" r="2.45" fill="#8a10ff" />
<circle cx="329.10" cy="50.86" r="2.45" fill="#8a10ff" />
<circle cx="332.16" cy="47.74" r="2.45" fill="#8a10ff" />
<circle cx="335.42" cy="44.57" r="2.45" fill="#8a10ff" />
<circle cx="338.68" cy="41.12" r="2.45" fill="#8a10ff" />
<circle cx="341.94" cy="37.87" r="2.45" fill="#8a10ff" />
<circle cx="345.20" cy="35.07" r="2.45" fill="#8a10ff" />
<circle cx="348.46" cy="32.86" r="2.45" fill="#8a10ff" />
<circle cx="351.72" cy="31.12" r="2.45" fill="#8a10ff" />
<circle cx="354.98" cy="29.66" r="2.45" fill="#8a10ff" />
<circle cx="358.24" cy="28.37" r="2.45" fill="#8a10ff" />
<circle cx="361.50" cy="27.21" r="2.45" fill="#8a10ff" />
<circle cx="364.76" cy="26.13" r="2.45" fill="#8a10ff" />
<circle cx="368.02" cy="25.10" r="2.45" fill="#8a10ff" />
<circle cx="371.28" cy="24.22" r="2.45" fill="#8a10ff" />
<circle cx="374.54" cy="23.45" r="2.45" fill="#8a10ff" />
<circle cx="377.80" cy="22.77" r="2.45" fill="#8a10ff" />
<circle cx="381.06" cy="22.16" r="2.45" fill="#8a10ff" />
<circle cx="384.32" cy="21.59" r="2.45" fill="#8a10ff" />
<circle cx="387.58" cy="21.04" r="2.45" fill="#8a10ff" />
<circle cx="390.84" cy="20.54" r="2.45" fill="#8a10ff" />
<circle cx="394.10" cy="20.10" r="2.45" fill="#8a10ff" />
<circle cx="397.36" cy="19.71" r="2.45" fill="#8a10ff" />
<circle cx="400.62" cy="19.36" r="2.45" fill="#8a10ff" />
<circle cx="403.88" cy="19.05" r="2.45" fill="#8a10ff" />
<circle cx="407.14" cy="18.79" r="2.45" fill="#8a10ff" />
<circle cx="410.40" cy="18.59" r="2.45" fill="#8a10ff" />
<circle cx="413.66" cy="18.42" r="2.45" fill="#8a10ff" />
<circle cx="416.92" cy="18.28" r="2.45" fill="#8a10ff" />
<circle cx="420.18" cy="18.15" r="2.45" fill="#8a10ff" />
<circle cx="423.44" cy="18.01" r="2.45" fill="#8a10ff" />
</g>
<line x1="267.20" y1="3.60" x2="423.90" y2="3.60" stroke="#8a8484" stroke-width="1.1" /><line x1="423.90" y1="3.60" x2="423.90" y2="134.60" stroke="#4b4040" stroke-width="1.1" /><line x1="267.20" y1="3.60" x2="267.20" y2="134.60" stroke="#4b4040" stroke-width="1.1" /><line x1="267.20" y1="134.60" x2="423.90" y2="134.60" stroke="#4b4040" stroke-width="1.1" />
<line x1="280.00" y1="134.60" x2="280.00" y2="132.20" stroke="#4b4040" stroke-width="0.8" />
<line x1="296.30" y1="134.60" x2="296.30" y2="133.20" stroke="#4b4040" stroke-width="0.8" />
<line x1="312.60" y1="134.60" x2="312.60" y2="132.20" stroke="#4b4040" stroke-width="0.8" />
<line x1="328.90" y1="134.60" x2="328.90" y2="133.20" stroke="#4b4040" stroke-width="0.8" />
<line x1="345.20" y1="134.60" x2="345.20" y2="132.20" stroke="#4b4040" stroke-width="0.8" />
<line x1="361.50" y1="134.60" x2="361.50" y2="133.20" stroke="#4b4040" stroke-width="0.8" />
<line x1="377.80" y1="134.60" x2="377.80" y2="132.20" stroke="#4b4040" stroke-width="0.8" />
<line x1="394.10" y1="134.60" x2="394.10" y2="133.20" stroke="#4b4040" stroke-width="0.8" />
<line x1="410.40" y1="134.60" x2="410.40" y2="132.20" stroke="#4b4040" stroke-width="0.8" />
<line x1="267.20" y1="133.50" x2="269.60" y2="133.50" stroke="#4b4040" stroke-width="0.8" />
<line x1="267.20" y1="129.18" x2="268.50" y2="129.18" stroke="#4b4040" stroke-width="0.6" />
<line x1="267.20" y1="126.65" x2="268.50" y2="126.65" stroke="#4b4040" stroke-width="0.6" />
<line x1="267.20" y1="124.86" x2="268.50" y2="124.86" stroke="#4b4040" stroke-width="0.6" />
<line x1="267.20" y1="123.47" x2="268.50" y2="123.47" stroke="#4b4040" stroke-width="0.6" />
<line x1="267.20" y1="122.33" x2="268.50" y2="122.33" stroke="#4b4040" stroke-width="0.6" />
<line x1="267.20" y1="121.37" x2="268.50" y2="121.37" stroke="#4b4040" stroke-width="0.6" />
<line x1="267.20" y1="120.54" x2="268.50" y2="120.54" stroke="#4b4040" stroke-width="0.6" />
<line x1="267.20" y1="119.81" x2="268.50" y2="119.81" stroke="#4b4040" stroke-width="0.6" />
<line x1="267.20" y1="119.15" x2="269.60" y2="119.15" stroke="#4b4040" stroke-width="0.8" />
<line x1="267.20" y1="114.83" x2="268.50" y2="114.83" stroke="#4b4040" stroke-width="0.6" />
<line x1="267.20" y1="112.30" x2="268.50" y2="112.30" stroke="#4b4040" stroke-width="0.6" />
<line x1="267.20" y1="110.51" x2="268.50" y2="110.51" stroke="#4b4040" stroke-width="0.6" />
<line x1="267.20" y1="109.12" x2="268.50" y2="109.12" stroke="#4b4040" stroke-width="0.6" />
<line x1="267.20" y1="107.98" x2="268.50" y2="107.98" stroke="#4b4040" stroke-width="0.6" />
<line x1="267.20" y1="107.02" x2="268.50" y2="107.02" stroke="#4b4040" stroke-width="0.6" />
<line x1="267.20" y1="106.19" x2="268.50" y2="106.19" stroke="#4b4040" stroke-width="0.6" />
<line x1="267.20" y1="105.46" x2="268.50" y2="105.46" stroke="#4b4040" stroke-width="0.6" />
<line x1="267.20" y1="104.80" x2="269.60" y2="104.80" stroke="#4b4040" stroke-width="0.8" />
<line x1="267.20" y1="100.48" x2="268.50" y2="100.48" stroke="#4b4040" stroke-width="0.6" />
<line x1="267.20" y1="97.95" x2="268.50" y2="97.95" stroke="#4b4040" stroke-width="0.6" />
<line x1="267.20" y1="96.16" x2="268.50" y2="96.16" stroke="#4b4040" stroke-width="0.6" />
<line x1="267.20" y1="94.77" x2="268.50" y2="94.77" stroke="#4b4040" stroke-width="0.6" />
<line x1="267.20" y1="93.63" x2="268.50" y2="93.63" stroke="#4b4040" stroke-width="0.6" />
<line x1="267.20" y1="92.67" x2="268.50" y2="92.67" stroke="#4b4040" stroke-width="0.6" />
<line x1="267.20" y1="91.84" x2="268.50" y2="91.84" stroke="#4b4040" stroke-width="0.6" />
<line x1="267.20" y1="91.11" x2="268.50" y2="91.11" stroke="#4b4040" stroke-width="0.6" />
<line x1="267.20" y1="90.45" x2="269.60" y2="90.45" stroke="#4b4040" stroke-width="0.8" />
<line x1="267.20" y1="86.13" x2="268.50" y2="86.13" stroke="#4b4040" stroke-width="0.6" />
<line x1="267.20" y1="83.60" x2="268.50" y2="83.60" stroke="#4b4040" stroke-width="0.6" />
<line x1="267.20" y1="81.81" x2="268.50" y2="81.81" stroke="#4b4040" stroke-width="0.6" />
<line x1="267.20" y1="80.42" x2="268.50" y2="80.42" stroke="#4b4040" stroke-width="0.6" />
<line x1="267.20" y1="79.28" x2="268.50" y2="79.28" stroke="#4b4040" stroke-width="0.6" />
<line x1="267.20" y1="78.32" x2="268.50" y2="78.32" stroke="#4b4040" stroke-width="0.6" />
<line x1="267.20" y1="77.49" x2="268.50" y2="77.49" stroke="#4b4040" stroke-width="0.6" />
<line x1="267.20" y1="76.76" x2="268.50" y2="76.76" stroke="#4b4040" stroke-width="0.6" />
<line x1="267.20" y1="76.10" x2="269.60" y2="76.10" stroke="#4b4040" stroke-width="0.8" />
<line x1="267.20" y1="71.78" x2="268.50" y2="71.78" stroke="#4b4040" stroke-width="0.6" />
<line x1="267.20" y1="69.25" x2="268.50" y2="69.25" stroke="#4b4040" stroke-width="0.6" />
<line x1="267.20" y1="67.46" x2="268.50" y2="67.46" stroke="#4b4040" stroke-width="0.6" />
<line x1="267.20" y1="66.07" x2="268.50" y2="66.07" stroke="#4b4040" stroke-width="0.6" />
<line x1="267.20" y1="64.93" x2="268.50" y2="64.93" stroke="#4b4040" stroke-width="0.6" />
<line x1="267.20" y1="63.97" x2="268.50" y2="63.97" stroke="#4b4040" stroke-width="0.6" />
<line x1="267.20" y1="63.14" x2="268.50" y2="63.14" stroke="#4b4040" stroke-width="0.6" />
<line x1="267.20" y1="62.41" x2="268.50" y2="62.41" stroke="#4b4040" stroke-width="0.6" />
<line x1="267.20" y1="61.75" x2="269.60" y2="61.75" stroke="#4b4040" stroke-width="0.8" />
<line x1="267.20" y1="57.43" x2="268.50" y2="57.43" stroke="#4b4040" stroke-width="0.6" />
<line x1="267.20" y1="54.90" x2="268.50" y2="54.90" stroke="#4b4040" stroke-width="0.6" />
<line x1="267.20" y1="53.11" x2="268.50" y2="53.11" stroke="#4b4040" stroke-width="0.6" />
<line x1="267.20" y1="51.72" x2="268.50" y2="51.72" stroke="#4b4040" stroke-width="0.6" />
<line x1="267.20" y1="50.58" x2="268.50" y2="50.58" stroke="#4b4040" stroke-width="0.6" />
<line x1="267.20" y1="49.62" x2="268.50" y2="49.62" stroke="#4b4040" stroke-width="0.6" />
<line x1="267.20" y1="48.79" x2="268.50" y2="48.79" stroke="#4b4040" stroke-width="0.6" />
<line x1="267.20" y1="48.06" x2="268.50" y2="48.06" stroke="#4b4040" stroke-width="0.6" />
<line x1="267.20" y1="47.40" x2="269.60" y2="47.40" stroke="#4b4040" stroke-width="0.8" />
<line x1="267.20" y1="43.08" x2="268.50" y2="43.08" stroke="#4b4040" stroke-width="0.6" />
<line x1="267.20" y1="40.55" x2="268.50" y2="40.55" stroke="#4b4040" stroke-width="0.6" />
<line x1="267.20" y1="38.76" x2="268.50" y2="38.76" stroke="#4b4040" stroke-width="0.6" />
<line x1="267.20" y1="37.37" x2="268.50" y2="37.37" stroke="#4b4040" stroke-width="0.6" />
<line x1="267.20" y1="36.23" x2="268.50" y2="36.23" stroke="#4b4040" stroke-width="0.6" />
<line x1="267.20" y1="35.27" x2="268.50" y2="35.27" stroke="#4b4040" stroke-width="0.6" />
<line x1="267.20" y1="34.44" x2="268.50" y2="34.44" stroke="#4b4040" stroke-width="0.6" />
<line x1="267.20" y1="33.71" x2="268.50" y2="33.71" stroke="#4b4040" stroke-width="0.6" />
<line x1="267.20" y1="33.05" x2="269.60" y2="33.05" stroke="#4b4040" stroke-width="0.8" />
<line x1="267.20" y1="28.73" x2="268.50" y2="28.73" stroke="#4b4040" stroke-width="0.6" />
<line x1="267.20" y1="26.20" x2="268.50" y2="26.20" stroke="#4b4040" stroke-width="0.6" />
<line x1="267.20" y1="24.41" x2="268.50" y2="24.41" stroke="#4b4040" stroke-width="0.6" />
<line x1="267.20" y1="23.02" x2="268.50" y2="23.02" stroke="#4b4040" stroke-width="0.6" />
<line x1="267.20" y1="21.88" x2="268.50" y2="21.88" stroke="#4b4040" stroke-width="0.6" />
<line x1="267.20" y1="20.92" x2="268.50" y2="20.92" stroke="#4b4040" stroke-width="0.6" />
<line x1="267.20" y1="20.09" x2="268.50" y2="20.09" stroke="#4b4040" stroke-width="0.6" />
<line x1="267.20" y1="19.36" x2="268.50" y2="19.36" stroke="#4b4040" stroke-width="0.6" />
<line x1="267.20" y1="18.70" x2="269.60" y2="18.70" stroke="#4b4040" stroke-width="0.8" />
<line x1="267.20" y1="14.38" x2="268.50" y2="14.38" stroke="#4b4040" stroke-width="0.6" />
<line x1="267.20" y1="11.85" x2="268.50" y2="11.85" stroke="#4b4040" stroke-width="0.6" />
<line x1="267.20" y1="10.06" x2="268.50" y2="10.06" stroke="#4b4040" stroke-width="0.6" />
<line x1="267.20" y1="8.67" x2="268.50" y2="8.67" stroke="#4b4040" stroke-width="0.6" />
<line x1="267.20" y1="7.53" x2="268.50" y2="7.53" stroke="#4b4040" stroke-width="0.6" />
<line x1="267.20" y1="6.57" x2="268.50" y2="6.57" stroke="#4b4040" stroke-width="0.6" />
<line x1="267.20" y1="5.74" x2="268.50" y2="5.74" stroke="#4b4040" stroke-width="0.6" />
<line x1="267.20" y1="5.01" x2="268.50" y2="5.01" stroke="#4b4040" stroke-width="0.6" />
<line x1="267.20" y1="4.35" x2="269.60" y2="4.35" stroke="#4b4040" stroke-width="0.8" />
<line x1="423.90" y1="134.00" x2="421.50" y2="134.00" stroke="#4b4040" stroke-width="0.8" />
<line x1="423.90" y1="129.12" x2="422.60" y2="129.12" stroke="#4b4040" stroke-width="0.6" />
<line x1="423.90" y1="126.27" x2="422.60" y2="126.27" stroke="#4b4040" stroke-width="0.6" />
<line x1="423.90" y1="124.25" x2="422.60" y2="124.25" stroke="#4b4040" stroke-width="0.6" />
<line x1="423.90" y1="122.68" x2="422.60" y2="122.68" stroke="#4b4040" stroke-width="0.6" />
<line x1="423.90" y1="121.39" x2="422.60" y2="121.39" stroke="#4b4040" stroke-width="0.6" />
<line x1="423.90" y1="120.31" x2="422.60" y2="120.31" stroke="#4b4040" stroke-width="0.6" />
<line x1="423.90" y1="119.37" x2="422.60" y2="119.37" stroke="#4b4040" stroke-width="0.6" />
<line x1="423.90" y1="118.54" x2="422.60" y2="118.54" stroke="#4b4040" stroke-width="0.6" />
<line x1="423.90" y1="117.80" x2="421.50" y2="117.80" stroke="#4b4040" stroke-width="0.8" />
<line x1="423.90" y1="112.92" x2="422.60" y2="112.92" stroke="#4b4040" stroke-width="0.6" />
<line x1="423.90" y1="110.07" x2="422.60" y2="110.07" stroke="#4b4040" stroke-width="0.6" />
<line x1="423.90" y1="108.05" x2="422.60" y2="108.05" stroke="#4b4040" stroke-width="0.6" />
<line x1="423.90" y1="106.48" x2="422.60" y2="106.48" stroke="#4b4040" stroke-width="0.6" />
<line x1="423.90" y1="105.19" x2="422.60" y2="105.19" stroke="#4b4040" stroke-width="0.6" />
<line x1="423.90" y1="104.11" x2="422.60" y2="104.11" stroke="#4b4040" stroke-width="0.6" />
<line x1="423.90" y1="103.17" x2="422.60" y2="103.17" stroke="#4b4040" stroke-width="0.6" />
<line x1="423.90" y1="102.34" x2="422.60" y2="102.34" stroke="#4b4040" stroke-width="0.6" />
<line x1="423.90" y1="101.60" x2="421.50" y2="101.60" stroke="#4b4040" stroke-width="0.8" />
<line x1="423.90" y1="96.72" x2="422.60" y2="96.72" stroke="#4b4040" stroke-width="0.6" />
<line x1="423.90" y1="93.87" x2="422.60" y2="93.87" stroke="#4b4040" stroke-width="0.6" />
<line x1="423.90" y1="91.85" x2="422.60" y2="91.85" stroke="#4b4040" stroke-width="0.6" />
<line x1="423.90" y1="90.28" x2="422.60" y2="90.28" stroke="#4b4040" stroke-width="0.6" />
<line x1="423.90" y1="88.99" x2="422.60" y2="88.99" stroke="#4b4040" stroke-width="0.6" />
<line x1="423.90" y1="87.91" x2="422.60" y2="87.91" stroke="#4b4040" stroke-width="0.6" />
<line x1="423.90" y1="86.97" x2="422.60" y2="86.97" stroke="#4b4040" stroke-width="0.6" />
<line x1="423.90" y1="86.14" x2="422.60" y2="86.14" stroke="#4b4040" stroke-width="0.6" />
<line x1="423.90" y1="85.40" x2="421.50" y2="85.40" stroke="#4b4040" stroke-width="0.8" />
<line x1="423.90" y1="80.52" x2="422.60" y2="80.52" stroke="#4b4040" stroke-width="0.6" />
<line x1="423.90" y1="77.67" x2="422.60" y2="77.67" stroke="#4b4040" stroke-width="0.6" />
<line x1="423.90" y1="75.65" x2="422.60" y2="75.65" stroke="#4b4040" stroke-width="0.6" />
<line x1="423.90" y1="74.08" x2="422.60" y2="74.08" stroke="#4b4040" stroke-width="0.6" />
<line x1="423.90" y1="72.79" x2="422.60" y2="72.79" stroke="#4b4040" stroke-width="0.6" />
<line x1="423.90" y1="71.71" x2="422.60" y2="71.71" stroke="#4b4040" stroke-width="0.6" />
<line x1="423.90" y1="70.77" x2="422.60" y2="70.77" stroke="#4b4040" stroke-width="0.6" />
<line x1="423.90" y1="69.94" x2="422.60" y2="69.94" stroke="#4b4040" stroke-width="0.6" />
<line x1="423.90" y1="69.20" x2="421.50" y2="69.20" stroke="#4b4040" stroke-width="0.8" />
<line x1="423.90" y1="64.32" x2="422.60" y2="64.32" stroke="#4b4040" stroke-width="0.6" />
<line x1="423.90" y1="61.47" x2="422.60" y2="61.47" stroke="#4b4040" stroke-width="0.6" />
<line x1="423.90" y1="59.45" x2="422.60" y2="59.45" stroke="#4b4040" stroke-width="0.6" />
<line x1="423.90" y1="57.88" x2="422.60" y2="57.88" stroke="#4b4040" stroke-width="0.6" />
<line x1="423.90" y1="56.59" x2="422.60" y2="56.59" stroke="#4b4040" stroke-width="0.6" />
<line x1="423.90" y1="55.51" x2="422.60" y2="55.51" stroke="#4b4040" stroke-width="0.6" />
<line x1="423.90" y1="54.57" x2="422.60" y2="54.57" stroke="#4b4040" stroke-width="0.6" />
<line x1="423.90" y1="53.74" x2="422.60" y2="53.74" stroke="#4b4040" stroke-width="0.6" />
<line x1="423.90" y1="53.00" x2="421.50" y2="53.00" stroke="#4b4040" stroke-width="0.8" />
<line x1="423.90" y1="48.12" x2="422.60" y2="48.12" stroke="#4b4040" stroke-width="0.6" />
<line x1="423.90" y1="45.27" x2="422.60" y2="45.27" stroke="#4b4040" stroke-width="0.6" />
<line x1="423.90" y1="43.25" x2="422.60" y2="43.25" stroke="#4b4040" stroke-width="0.6" />
<line x1="423.90" y1="41.68" x2="422.60" y2="41.68" stroke="#4b4040" stroke-width="0.6" />
<line x1="423.90" y1="40.39" x2="422.60" y2="40.39" stroke="#4b4040" stroke-width="0.6" />
<line x1="423.90" y1="39.31" x2="422.60" y2="39.31" stroke="#4b4040" stroke-width="0.6" />
<line x1="423.90" y1="38.37" x2="422.60" y2="38.37" stroke="#4b4040" stroke-width="0.6" />
<line x1="423.90" y1="37.54" x2="422.60" y2="37.54" stroke="#4b4040" stroke-width="0.6" />
<line x1="423.90" y1="36.80" x2="421.50" y2="36.80" stroke="#4b4040" stroke-width="0.8" />
<line x1="423.90" y1="31.92" x2="422.60" y2="31.92" stroke="#4b4040" stroke-width="0.6" />
<line x1="423.90" y1="29.07" x2="422.60" y2="29.07" stroke="#4b4040" stroke-width="0.6" />
<line x1="423.90" y1="27.05" x2="422.60" y2="27.05" stroke="#4b4040" stroke-width="0.6" />
<line x1="423.90" y1="25.48" x2="422.60" y2="25.48" stroke="#4b4040" stroke-width="0.6" />
<line x1="423.90" y1="24.19" x2="422.60" y2="24.19" stroke="#4b4040" stroke-width="0.6" />
<line x1="423.90" y1="23.11" x2="422.60" y2="23.11" stroke="#4b4040" stroke-width="0.6" />
<line x1="423.90" y1="22.17" x2="422.60" y2="22.17" stroke="#4b4040" stroke-width="0.6" />
<line x1="423.90" y1="21.34" x2="422.60" y2="21.34" stroke="#4b4040" stroke-width="0.6" />
<line x1="423.90" y1="20.60" x2="421.50" y2="20.60" stroke="#4b4040" stroke-width="0.8" />
<line x1="423.90" y1="15.72" x2="422.60" y2="15.72" stroke="#4b4040" stroke-width="0.6" />
<line x1="423.90" y1="12.87" x2="422.60" y2="12.87" stroke="#4b4040" stroke-width="0.6" />
<line x1="423.90" y1="10.85" x2="422.60" y2="10.85" stroke="#4b4040" stroke-width="0.6" />
<line x1="423.90" y1="9.28" x2="422.60" y2="9.28" stroke="#4b4040" stroke-width="0.6" />
<line x1="423.90" y1="7.99" x2="422.60" y2="7.99" stroke="#4b4040" stroke-width="0.6" />
<line x1="423.90" y1="6.91" x2="422.60" y2="6.91" stroke="#4b4040" stroke-width="0.6" />
<line x1="423.90" y1="5.97" x2="422.60" y2="5.97" stroke="#4b4040" stroke-width="0.6" />
<line x1="423.90" y1="5.14" x2="422.60" y2="5.14" stroke="#4b4040" stroke-width="0.6" />
<line x1="423.90" y1="4.40" x2="421.50" y2="4.40" stroke="#4b4040" stroke-width="0.8" />
<text x="278.80" y="144.20" font-size="8.8" text-anchor="middle" fill="#2a2a2a" >-1.0</text>
<text x="311.40" y="144.20" font-size="8.8" text-anchor="middle" fill="#2a2a2a" >-0.5</text>
<text x="344.00" y="144.20" font-size="8.8" text-anchor="middle" fill="#2a2a2a" >0.0</text>
<text x="376.60" y="144.20" font-size="8.8" text-anchor="middle" fill="#2a2a2a" >0.5</text>
<text x="409.20" y="144.20" font-size="8.8" text-anchor="middle" fill="#2a2a2a" >1.0</text>
<text x="262.80" y="21.50" font-size="8.0" text-anchor="end" fill="#222">10<tspan font-size="5.12" dy="-3.52">0</tspan></text>
<text x="262.80" y="50.40" font-size="8.0" text-anchor="end" fill="#222">10<tspan font-size="5.12" dy="-3.52">-2</tspan></text>
<text x="262.80" y="79.80" font-size="8.0" text-anchor="end" fill="#222">10<tspan font-size="5.12" dy="-3.52">-4</tspan></text>
<text x="262.80" y="108.80" font-size="8.0" text-anchor="end" fill="#222">10<tspan font-size="5.12" dy="-3.52">-6</tspan></text>
<text x="262.80" y="137.40" font-size="8.0" text-anchor="end" fill="#222">10<tspan font-size="5.12" dy="-3.52">-8</tspan></text>
<text x="426.60" y="7.90" font-size="8.0" text-anchor="start" fill="#222">10<tspan font-size="5.12" dy="-3.52">1</tspan></text>
<text x="426.60" y="33.70" font-size="8.0" text-anchor="start" fill="#222">10<tspan font-size="5.12" dy="-3.52">-1</tspan></text>
<text x="426.60" y="70.40" font-size="8.0" text-anchor="start" fill="#222">10<tspan font-size="5.12" dy="-3.52">-3</tspan></text>
<text x="426.60" y="105.50" font-size="8.0" text-anchor="start" fill="#222">10<tspan font-size="5.12" dy="-3.52">-5</tspan></text>
<text x="426.60" y="135.40" font-size="8.0" text-anchor="start" fill="#222">10<tspan font-size="5.12" dy="-3.52">-7</tspan></text>
<text x="334.30" y="156.40" font-size="10.5" text-anchor="start" fill="#000" font-style="italic" >V</text>
<text x="340.20" y="159.60" font-size="6" text-anchor="start" fill="#000" >tg</text>
<text x="346.80" y="156.40" font-size="10.5" text-anchor="start" fill="#000" >(V)</text>
<g transform="translate(245.8,77.0) rotate(-90)"><text x="0" y="0" font-size="11.5" text-anchor="middle"><tspan font-style="italic">I</tspan><tspan font-size="5.6" dy="2">ds</tspan><tspan dy="-2"> (μA μm</tspan><tspan font-size="5.6" dy="-3.4">-1</tspan><tspan dy="3.4">)</tspan></text></g>
<g transform="translate(444.2,71.9) rotate(90)"><text x="0" y="0" font-size="10.1" text-anchor="middle">Leakage current (A cm<tspan font-size="5.6" dy="-3.4">-2</tspan><tspan dy="3.4">)</tspan></text></g>
<text x="283.00" y="17.30" font-size="10" text-anchor="start" fill="#000" font-style="italic" >V</text>
<text x="289.00" y="20.40" font-size="5.8" text-anchor="start" fill="#000" >ds</text>
<line x1="281.00" y1="26.80" x2="292.70" y2="26.80" stroke="#9933ee" stroke-width="1" />
<circle cx="286.90" cy="26.80" r="2.50" fill="#9933ee" />
<text x="294.80" y="30.00" font-size="8.6" text-anchor="start" fill="#000" >1.0 V</text>
<line x1="281.00" y1="37.20" x2="292.70" y2="37.20" stroke="#ee3399" stroke-width="1" />
<circle cx="286.90" cy="37.20" r="2.50" fill="#ee3399" />
<text x="294.80" y="40.40" font-size="8.6" text-anchor="start" fill="#000" >0.5 V</text>
<line x1="281.00" y1="47.70" x2="292.70" y2="47.70" stroke="#33bbff" stroke-width="1" />
<circle cx="286.90" cy="47.70" r="2.50" fill="#33bbff" />
<text x="294.80" y="50.90" font-size="8.6" text-anchor="start" fill="#000" >0.2 V</text>
<line x1="281.00" y1="58.10" x2="292.70" y2="58.10" stroke="#5555ee" stroke-width="1" />
<circle cx="286.90" cy="58.10" r="2.50" fill="#5555ee" />
<text x="294.80" y="61.30" font-size="8.6" text-anchor="start" fill="#000" >0.1 V</text>
<text x="320.80" y="111.20" font-size="9.6" text-anchor="start" fill="#000" font-style="italic" >W</text><text x="329.40" y="113.80" font-size="5.4" text-anchor="start" fill="#000" >CH</text><text x="337.00" y="111.20" font-size="9.6" text-anchor="start" fill="#000" >/</text><text x="339.40" y="111.20" font-size="9.6" text-anchor="start" fill="#000" font-style="italic" >L</text><text x="344.80" y="113.80" font-size="5.4" text-anchor="start" fill="#000" >CH</text><text x="352.70" y="111.20" font-size="8.6" text-anchor="start" fill="#000" >= 2.6 μm/7.5 μm</text>
<rect x="354.10" y="49.50" width="59.60" height="46.30" fill="#918aa3" />
<polygon points="362.00,67.00 372.00,62.50 392.00,58.80 408.00,62.00 404.00,66.50 388.00,66.20 372.00,66.50" fill="#8f8ad8" />
<polygon points="372.00,78.00 386.00,78.20 400.00,80.00 392.00,84.50 378.00,84.50 368.00,81.50" fill="#8f8ad8" />
<rect x="375.20" y="49.50" width="11.50" height="12.60" fill="#e9e8e4" rx="1"/>
<rect x="375.20" y="82.90" width="11.50" height="12.90" fill="#e9e8e4" rx="1"/>
<rect x="368.00" y="66.20" width="45.70" height="11.70" fill="#eaeae6" rx="1.2"/>
<rect x="397.00" y="90.90" width="14.00" height="1.80" fill="#ffffff" />
<text x="342.60" y="84.20" font-size="7.2" text-anchor="start" fill="#000" >MoS</text><text x="357.20" y="86.40" font-size="4.6" text-anchor="start" fill="#000" >2</text>
<line x1="362.50" y1="81.20" x2="378.50" y2="81.20" stroke="#555" stroke-width="1.2" />
<polygon points="361.20,81.20 365.50,79.60 365.50,82.80" fill="#111" />
<text x="238.60" y="183.40" font-size="14.5" text-anchor="start" fill="#000" >d</text>
<rect x="268.20" y="274.40" width="156.80" height="9.00" fill="#fcd3e3" />
<line x1="268.20" y1="283.60" x2="425.00" y2="283.60" stroke="#444" stroke-width="1" stroke-dasharray="4,2.2"/>
<text x="299.60" y="296.00" font-size="8.4" text-anchor="start" fill="#000" >Thermal limit: 60 mV dec<tspan font-size="5.4" dy="-3.4">-1</tspan></text>
<clipPath id="cpd"><rect x="268.2" y="177.6" width="156.8" height="130.8"/></clipPath>
<g clip-path="url(#cpd)">
<polyline points="266.00,276.50 269.20,277.40 278.50,279.00 288.80,280.20 299.60,279.50 310.50,276.70 319.40,273.70 328.50,276.00 338.10,275.10 346.80,267.40 353.10,253.80 358.00,244.50 362.60,237.00 366.60,230.30 370.50,222.50 373.70,214.20 377.20,211.00 380.10,198.60 382.90,190.20 385.30,179.50 387.00,174.00" fill="none" stroke="#1010ff" stroke-width="0.9" stroke-linejoin="round" />
<polyline points="266.00,271.00 269.70,272.00 279.00,274.80 288.40,277.90 299.60,279.50 308.90,279.50 320.40,280.20 330.90,277.90 340.20,276.70 350.30,275.50 359.10,270.20 366.10,263.40 372.50,257.30 378.30,248.00 383.00,242.80 387.60,236.20 391.20,225.30 394.90,224.50 398.70,218.20 402.30,207.40 405.20,204.70 407.90,198.90 410.80,191.00 413.10,181.10 415.50,175.00" fill="none" stroke="#8c10f0" stroke-width="0.9" stroke-linejoin="round" />
<circle cx="269.20" cy="277.40" r="2.60" fill="#0a0af8" />
<circle cx="278.50" cy="279.00" r="2.60" fill="#0a0af8" />
<circle cx="288.80" cy="280.20" r="2.60" fill="#0a0af8" />
<circle cx="299.60" cy="279.50" r="2.60" fill="#0a0af8" />
<circle cx="310.50" cy="276.70" r="2.60" fill="#0a0af8" />
<circle cx="319.40" cy="273.70" r="2.60" fill="#0a0af8" />
<circle cx="328.50" cy="276.00" r="2.60" fill="#0a0af8" />
<circle cx="338.10" cy="275.10" r="2.60" fill="#0a0af8" />
<circle cx="346.80" cy="267.40" r="2.60" fill="#0a0af8" />
<circle cx="353.10" cy="253.80" r="2.60" fill="#0a0af8" />
<circle cx="358.00" cy="244.50" r="2.60" fill="#0a0af8" />
<circle cx="362.60" cy="237.00" r="2.60" fill="#0a0af8" />
<circle cx="366.60" cy="230.30" r="2.60" fill="#0a0af8" />
<circle cx="370.50" cy="222.50" r="2.60" fill="#0a0af8" />
<circle cx="373.70" cy="214.20" r="2.60" fill="#0a0af8" />
<circle cx="377.20" cy="211.00" r="2.60" fill="#0a0af8" />
<circle cx="380.10" cy="198.60" r="2.60" fill="#0a0af8" />
<circle cx="382.90" cy="190.20" r="2.60" fill="#0a0af8" />
<circle cx="385.30" cy="179.50" r="2.60" fill="#0a0af8" />
<circle cx="269.70" cy="272.00" r="2.60" fill="#8a12ee" />
<circle cx="279.00" cy="274.80" r="2.60" fill="#8a12ee" />
<circle cx="288.40" cy="277.90" r="2.60" fill="#8a12ee" />
<circle cx="299.60" cy="279.50" r="2.60" fill="#8a12ee" />
<circle cx="308.90" cy="279.50" r="2.60" fill="#8a12ee" />
<circle cx="320.40" cy="280.20" r="2.60" fill="#8a12ee" />
<circle cx="330.90" cy="277.90" r="2.60" fill="#8a12ee" />
<circle cx="340.20" cy="276.70" r="2.60" fill="#8a12ee" />
<circle cx="350.30" cy="275.50" r="2.60" fill="#8a12ee" />
<circle cx="359.10" cy="270.20" r="2.60" fill="#8a12ee" />
<circle cx="366.10" cy="263.40" r="2.60" fill="#8a12ee" />
<circle cx="372.50" cy="257.30" r="2.60" fill="#8a12ee" />
<circle cx="378.30" cy="248.00" r="2.60" fill="#8a12ee" />
<circle cx="383.00" cy="242.80" r="2.60" fill="#8a12ee" />
<circle cx="387.60" cy="236.20" r="2.60" fill="#8a12ee" />
<circle cx="391.20" cy="225.30" r="2.60" fill="#8a12ee" />
<circle cx="394.90" cy="224.50" r="2.60" fill="#8a12ee" />
<circle cx="398.70" cy="218.20" r="2.60" fill="#8a12ee" />
<circle cx="402.30" cy="207.40" r="2.60" fill="#8a12ee" />
<circle cx="405.20" cy="204.70" r="2.60" fill="#8a12ee" />
<circle cx="407.90" cy="198.90" r="2.60" fill="#8a12ee" />
<circle cx="410.80" cy="191.00" r="2.60" fill="#8a12ee" />
<circle cx="413.10" cy="181.10" r="2.60" fill="#8a12ee" />
</g>
<line x1="268.20" y1="177.60" x2="425.00" y2="177.60" stroke="#8a8484" stroke-width="1.1" /><line x1="425.00" y1="177.60" x2="425.00" y2="308.40" stroke="#8a8484" stroke-width="1.1" /><line x1="268.20" y1="177.60" x2="268.20" y2="308.40" stroke="#4b4040" stroke-width="1.1" /><line x1="268.20" y1="308.40" x2="425.00" y2="308.40" stroke="#4b4040" stroke-width="1.1" />
<line x1="268.20" y1="308.60" x2="270.60" y2="308.60" stroke="#4b4040" stroke-width="0.8" />
<line x1="268.20" y1="297.69" x2="269.60" y2="297.69" stroke="#4b4040" stroke-width="0.8" />
<line x1="268.20" y1="286.78" x2="270.60" y2="286.78" stroke="#4b4040" stroke-width="0.8" />
<line x1="268.20" y1="275.88" x2="269.60" y2="275.88" stroke="#4b4040" stroke-width="0.8" />
<line x1="268.20" y1="264.97" x2="270.60" y2="264.97" stroke="#4b4040" stroke-width="0.8" />
<line x1="268.20" y1="254.06" x2="269.60" y2="254.06" stroke="#4b4040" stroke-width="0.8" />
<line x1="268.20" y1="243.15" x2="270.60" y2="243.15" stroke="#4b4040" stroke-width="0.8" />
<line x1="268.20" y1="232.24" x2="269.60" y2="232.24" stroke="#4b4040" stroke-width="0.8" />
<line x1="268.20" y1="221.33" x2="270.60" y2="221.33" stroke="#4b4040" stroke-width="0.8" />
<line x1="268.20" y1="210.43" x2="269.60" y2="210.43" stroke="#4b4040" stroke-width="0.8" />
<line x1="268.20" y1="199.52" x2="270.60" y2="199.52" stroke="#4b4040" stroke-width="0.8" />
<line x1="268.20" y1="188.61" x2="269.60" y2="188.61" stroke="#4b4040" stroke-width="0.8" />
<line x1="270.43" y1="308.40" x2="270.43" y2="307.10" stroke="#4b4040" stroke-width="0.6" />
<line x1="272.41" y1="308.40" x2="272.41" y2="307.10" stroke="#4b4040" stroke-width="0.6" />
<line x1="274.13" y1="308.40" x2="274.13" y2="307.10" stroke="#4b4040" stroke-width="0.6" />
<line x1="275.65" y1="308.40" x2="275.65" y2="307.10" stroke="#4b4040" stroke-width="0.6" />
<line x1="277.00" y1="308.40" x2="277.00" y2="306.00" stroke="#4b4040" stroke-width="0.8" />
<line x1="285.91" y1="308.40" x2="285.91" y2="307.10" stroke="#4b4040" stroke-width="0.6" />
<line x1="291.12" y1="308.40" x2="291.12" y2="307.10" stroke="#4b4040" stroke-width="0.6" />
<line x1="294.82" y1="308.40" x2="294.82" y2="307.10" stroke="#4b4040" stroke-width="0.6" />
<line x1="297.69" y1="308.40" x2="297.69" y2="307.10" stroke="#4b4040" stroke-width="0.6" />
<line x1="300.03" y1="308.40" x2="300.03" y2="307.10" stroke="#4b4040" stroke-width="0.6" />
<line x1="302.01" y1="308.40" x2="302.01" y2="307.10" stroke="#4b4040" stroke-width="0.6" />
<line x1="303.73" y1="308.40" x2="303.73" y2="307.10" stroke="#4b4040" stroke-width="0.6" />
<line x1="305.25" y1="308.40" x2="305.25" y2="307.10" stroke="#4b4040" stroke-width="0.6" />
<line x1="306.60" y1="308.40" x2="306.60" y2="306.00" stroke="#4b4040" stroke-width="0.8" />
<line x1="315.51" y1="308.40" x2="315.51" y2="307.10" stroke="#4b4040" stroke-width="0.6" />
<line x1="320.72" y1="308.40" x2="320.72" y2="307.10" stroke="#4b4040" stroke-width="0.6" />
<line x1="324.42" y1="308.40" x2="324.42" y2="307.10" stroke="#4b4040" stroke-width="0.6" />
<line x1="327.29" y1="308.40" x2="327.29" y2="307.10" stroke="#4b4040" stroke-width="0.6" />
<line x1="329.63" y1="308.40" x2="329.63" y2="307.10" stroke="#4b4040" stroke-width="0.6" />
<line x1="331.61" y1="308.40" x2="331.61" y2="307.10" stroke="#4b4040" stroke-width="0.6" />
<line x1="333.33" y1="308.40" x2="333.33" y2="307.10" stroke="#4b4040" stroke-width="0.6" />
<line x1="334.85" y1="308.40" x2="334.85" y2="307.10" stroke="#4b4040" stroke-width="0.6" />
<line x1="336.20" y1="308.40" x2="336.20" y2="306.00" stroke="#4b4040" stroke-width="0.8" />
<line x1="345.11" y1="308.40" x2="345.11" y2="307.10" stroke="#4b4040" stroke-width="0.6" />
<line x1="350.32" y1="308.40" x2="350.32" y2="307.10" stroke="#4b4040" stroke-width="0.6" />
<line x1="354.02" y1="308.40" x2="354.02" y2="307.10" stroke="#4b4040" stroke-width="0.6" />
<line x1="356.89" y1="308.40" x2="356.89" y2="307.10" stroke="#4b4040" stroke-width="0.6" />
<line x1="359.23" y1="308.40" x2="359.23" y2="307.10" stroke="#4b4040" stroke-width="0.6" />
<line x1="361.21" y1="308.40" x2="361.21" y2="307.10" stroke="#4b4040" stroke-width="0.6" />
<line x1="362.93" y1="308.40" x2="362.93" y2="307.10" stroke="#4b4040" stroke-width="0.6" />
<line x1="364.45" y1="308.40" x2="364.45" y2="307.10" stroke="#4b4040" stroke-width="0.6" />
<line x1="365.80" y1="308.40" x2="365.80" y2="306.00" stroke="#4b4040" stroke-width="0.8" />
<line x1="374.71" y1="308.40" x2="374.71" y2="307.10" stroke="#4b4040" stroke-width="0.6" />
<line x1="379.92" y1="308.40" x2="379.92" y2="307.10" stroke="#4b4040" stroke-width="0.6" />
<line x1="383.62" y1="308.40" x2="383.62" y2="307.10" stroke="#4b4040" stroke-width="0.6" />
<line x1="386.49" y1="308.40" x2="386.49" y2="307.10" stroke="#4b4040" stroke-width="0.6" />
<line x1="388.83" y1="308.40" x2="388.83" y2="307.10" stroke="#4b4040" stroke-width="0.6" />
<line x1="390.81" y1="308.40" x2="390.81" y2="307.10" stroke="#4b4040" stroke-width="0.6" />
<line x1="392.53" y1="308.40" x2="392.53" y2="307.10" stroke="#4b4040" stroke-width="0.6" />
<line x1="394.05" y1="308.40" x2="394.05" y2="307.10" stroke="#4b4040" stroke-width="0.6" />
<line x1="395.40" y1="308.40" x2="395.40" y2="306.00" stroke="#4b4040" stroke-width="0.8" />
<line x1="404.31" y1="308.40" x2="404.31" y2="307.10" stroke="#4b4040" stroke-width="0.6" />
<line x1="409.52" y1="308.40" x2="409.52" y2="307.10" stroke="#4b4040" stroke-width="0.6" />
<line x1="413.22" y1="308.40" x2="413.22" y2="307.10" stroke="#4b4040" stroke-width="0.6" />
<line x1="416.09" y1="308.40" x2="416.09" y2="307.10" stroke="#4b4040" stroke-width="0.6" />
<line x1="418.43" y1="308.40" x2="418.43" y2="307.10" stroke="#4b4040" stroke-width="0.6" />
<line x1="420.41" y1="308.40" x2="420.41" y2="307.10" stroke="#4b4040" stroke-width="0.6" />
<line x1="422.13" y1="308.40" x2="422.13" y2="307.10" stroke="#4b4040" stroke-width="0.6" />
<line x1="423.65" y1="308.40" x2="423.65" y2="307.10" stroke="#4b4040" stroke-width="0.6" />
<text x="265.90" y="312.30" font-size="9.0" text-anchor="end" fill="#2a2a2a" >0</text>
<text x="265.90" y="290.48" font-size="9.0" text-anchor="end" fill="#2a2a2a" >50</text>
<text x="265.90" y="268.67" font-size="9.0" text-anchor="end" fill="#2a2a2a" >100</text>
<text x="265.90" y="246.85" font-size="9.0" text-anchor="end" fill="#2a2a2a" >150</text>
<text x="265.90" y="225.03" font-size="9.0" text-anchor="end" fill="#2a2a2a" >200</text>
<text x="265.90" y="203.22" font-size="9.0" text-anchor="end" fill="#2a2a2a" >250</text>
<text x="265.90" y="181.40" font-size="9.0" text-anchor="end" fill="#2a2a2a" >300</text>
<text x="277.40" y="319.60" font-size="8.4" text-anchor="middle" fill="#222">10<tspan font-size="5.38" dy="-3.70">-6</tspan></text>
<text x="307.00" y="319.60" font-size="8.4" text-anchor="middle" fill="#222">10<tspan font-size="5.38" dy="-3.70">-5</tspan></text>
<text x="336.60" y="319.60" font-size="8.4" text-anchor="middle" fill="#222">10<tspan font-size="5.38" dy="-3.70">-4</tspan></text>
<text x="366.20" y="319.60" font-size="8.4" text-anchor="middle" fill="#222">10<tspan font-size="5.38" dy="-3.70">-3</tspan></text>
<text x="395.80" y="319.60" font-size="8.4" text-anchor="middle" fill="#222">10<tspan font-size="5.38" dy="-3.70">-2</tspan></text>
<text x="425.40" y="319.60" font-size="8.4" text-anchor="middle" fill="#222">10<tspan font-size="5.38" dy="-3.70">-1</tspan></text>
<text x="325.40" y="330.00" font-size="10.5" text-anchor="start" fill="#000" font-style="italic" >I</text><text x="328.80" y="333.20" font-size="6" text-anchor="start" fill="#000" >ds</text><text x="336.40" y="330.00" font-size="10.5" text-anchor="start" fill="#000" >(μA μm<tspan font-size="5.8" dy="-3.6">-1</tspan><tspan font-size="10.5" dy="3.6">)</tspan></text>
<g transform="translate(246.6,246.4) rotate(-90)"><text x="0" y="0" font-size="10.5" text-anchor="middle">SS (mV decade<tspan font-size="5.6" dy="-3.4">-1</tspan><tspan dy="3.4">)</tspan></text></g>
<text x="283.60" y="196.40" font-size="10" text-anchor="start" fill="#000" font-style="italic" >V</text>
<text x="289.60" y="199.60" font-size="5.8" text-anchor="start" fill="#000" >ds</text>
<line x1="281.40" y1="206.40" x2="293.20" y2="206.40" stroke="#9933ee" stroke-width="1" />
<circle cx="287.20" cy="206.40" r="2.50" fill="#9933ee" />
<text x="295.80" y="209.60" font-size="8.6" text-anchor="start" fill="#000" >1.0 V</text>
<line x1="281.40" y1="219.60" x2="293.20" y2="219.60" stroke="#3355ff" stroke-width="1" />
<circle cx="287.20" cy="219.60" r="2.50" fill="#3355ff" />
<text x="295.80" y="222.80" font-size="8.6" text-anchor="start" fill="#000" >0.1 V</text>
<text x="475.00" y="7.90" font-size="14.5" text-anchor="start" fill="#000" >e</text>
<clipPath id="cpe"><rect x="498.6" y="1.8" width="184.2" height="306.4"/></clipPath>
<g clip-path="url(#cpe)">
<polyline points="498.60,246.70 501.00,239.70 506.00,225.80 509.50,239.70 510.90,255.60 513.90,227.80 517.90,227.80 521.40,249.70 524.80,235.80 527.80,237.80 531.80,223.80 535.80,232.80 539.70,220.90 543.70,220.90 544.11,219.65 544.67,217.91 545.33,215.84 546.06,213.58 546.82,211.26 547.55,209.05 548.23,207.08 548.80,205.50 549.27,204.39 549.67,203.66 550.03,203.17 550.37,202.78 550.69,202.35 551.03,201.75 551.39,200.85 551.80,199.50 552.25,197.67 552.73,195.48 553.23,193.00 553.74,190.34 554.26,187.59 554.78,184.84 555.29,182.18 555.80,179.70 556.30,177.37 556.81,175.08 557.31,172.83 557.82,170.61 558.32,168.40 558.82,166.20 559.31,164.01 559.80,161.80 560.27,159.61 560.72,157.44 561.16,155.29 561.59,153.14 562.04,150.98 562.50,148.80 562.98,146.58 563.50,144.30 564.05,141.96 564.63,139.55 565.23,137.10 565.84,134.63 566.47,132.15 567.11,129.69 567.76,127.27 568.40,124.90 569.04,122.58 569.69,120.28 570.35,118.00 571.01,115.75 571.69,113.52 572.37,111.32 573.08,109.15 573.80,107.00 574.54,104.87 575.31,102.74 576.10,100.64 576.89,98.56 577.70,96.53 578.50,94.55 579.31,92.64 580.10,90.80 580.89,89.03 581.68,87.32 582.47,85.67 583.26,84.07 584.04,82.53 584.83,81.06 585.62,79.65 586.40,78.30 587.17,77.03 587.93,75.84 588.69,74.72 589.44,73.66 590.21,72.64 590.98,71.67 591.78,70.73 592.60,69.80 593.45,68.91 594.33,68.06 595.22,67.26 596.13,66.49 597.05,65.75 597.97,65.03 598.89,64.31 599.80,63.60 600.65,62.92 601.41,62.29 602.14,61.69 602.89,61.09 603.71,60.49 604.65,59.85 605.77,59.16 607.10,58.40 608.69,57.53 610.51,56.55 612.50,55.50 614.61,54.42 616.78,53.37 618.98,52.37 621.13,51.46 623.20,50.70 625.20,50.07 627.20,49.55 629.20,49.10 631.20,48.72 633.20,48.39 635.20,48.08 637.20,47.79 639.20,47.50 641.21,47.22 643.22,46.98 645.23,46.77 647.24,46.58 649.26,46.41 651.27,46.24 653.29,46.07 655.30,45.90 657.34,45.72 659.42,45.54 661.51,45.36 663.60,45.19 665.66,45.02 667.66,44.87 669.58,44.73 671.40,44.60 673.19,44.49 674.99,44.39 676.76,44.30 678.46,44.22 680.02,44.15 681.42,44.09 682.59,44.04 683.50,44.00" fill="none" stroke="#1f8f8f" stroke-width="1.2" stroke-linejoin="round" />
<polyline points="498.60,240.00 502.00,231.00 505.00,222.00 508.00,231.00 512.00,235.00 516.00,225.00 520.00,224.00 523.50,236.00 527.00,228.00 530.50,233.00 534.00,222.00 537.50,226.00 541.00,215.00 544.50,219.00 544.97,217.91 545.61,216.40 546.37,214.60 547.21,212.62 548.08,210.61 548.91,208.66 549.67,206.92 550.30,205.50 550.80,204.49 551.22,203.80 551.59,203.31 551.91,202.89 552.22,202.43 552.55,201.79 552.90,200.86 553.30,199.50 553.75,197.67 554.23,195.48 554.73,193.00 555.24,190.34 555.76,187.59 556.28,184.84 556.79,182.18 557.30,179.70 557.80,177.37 558.31,175.08 558.82,172.83 559.33,170.61 559.83,168.40 560.33,166.20 560.82,164.01 561.30,161.80 561.76,159.61 562.20,157.44 562.63,155.29 563.06,153.14 563.49,150.98 563.93,148.80 564.39,146.58 564.88,144.30 565.39,141.96 565.92,139.55 566.47,137.10 567.03,134.63 567.60,132.15 568.18,129.69 568.77,127.27 569.36,124.90 569.96,122.58 570.56,120.28 571.16,118.00 571.78,115.75 572.41,113.52 573.05,111.32 573.70,109.15 574.38,107.00 575.08,104.87 575.80,102.74 576.54,100.64 577.29,98.56 578.05,96.53 578.81,94.55 579.58,92.64 580.33,90.80 581.08,89.03 581.84,87.32 582.59,85.67 583.35,84.07 584.11,82.53 584.87,81.06 585.63,79.65 586.40,78.30 587.16,77.03 587.92,75.84 588.67,74.72 589.43,73.66 590.20,72.64 590.98,71.67 591.78,70.73 592.60,69.80 593.45,68.91 594.33,68.06 595.22,67.26 596.13,66.49 597.05,65.75 597.97,65.03 598.89,64.31 599.80,63.60 600.65,62.92 601.41,62.29 602.14,61.69 602.89,61.09 603.71,60.49 604.65,59.85 605.77,59.16 607.10,58.40 608.69,57.53 610.51,56.55 612.50,55.50 614.61,54.42 616.78,53.37 618.98,52.37 621.13,51.46 623.20,50.70 625.20,50.07 627.20,49.55 629.20,49.10 631.20,48.72 633.20,48.39 635.20,48.08 637.20,47.79 639.20,47.50 641.21,47.22 643.22,46.98 645.23,46.77 647.24,46.58 649.26,46.41 651.27,46.24 653.29,46.07 655.30,45.90 657.34,45.72 659.42,45.54 661.51,45.36 663.60,45.19 665.66,45.02 667.66,44.87 669.58,44.73 671.40,44.60 673.19,44.49 674.99,44.39 676.76,44.30 678.46,44.22 680.02,44.15 681.42,44.09 682.59,44.04 683.50,44.00" fill="none" stroke="#33e0f0" stroke-width="1.2" stroke-linejoin="round" stroke-dasharray="2.4,1.3"/>
<polyline points="498.60,254.60 503.00,247.70 506.90,234.80 510.90,246.70 514.90,231.80 518.90,240.70 522.80,234.80 525.80,228.80 529.80,244.70 533.80,234.80 537.70,239.70 540.70,249.70 544.70,239.70 545.09,238.79 545.62,237.65 546.24,236.28 546.94,234.74 547.67,233.04 548.41,231.21 549.13,229.29 549.80,227.30 550.43,225.21 551.06,222.96 551.68,220.59 552.31,218.11 552.93,215.54 553.55,212.90 554.18,210.22 554.80,207.50 555.43,204.72 556.05,201.83 556.68,198.87 557.31,195.86 557.93,192.81 558.56,189.75 559.18,186.71 559.80,183.70 560.43,180.65 561.08,177.50 561.74,174.30 562.39,171.12 563.02,168.03 563.63,165.07 564.19,162.30 564.70,159.80 565.15,157.62 565.53,155.74 565.87,154.07 566.19,152.53 566.49,151.04 566.80,149.51 567.13,147.86 567.50,146.00 567.90,143.96 568.30,141.82 568.71,139.60 569.14,137.32 569.58,135.01 570.03,132.67 570.51,130.33 571.00,128.00 571.51,125.66 572.04,123.27 572.59,120.86 573.15,118.44 573.73,116.02 574.33,113.63 574.96,111.29 575.60,109.00 576.28,106.75 576.99,104.50 577.72,102.28 578.48,100.09 579.24,97.96 580.00,95.89 580.76,93.90 581.50,92.00 582.23,90.20 582.96,88.48 583.69,86.83 584.41,85.25 585.14,83.73 585.86,82.27 586.58,80.86 587.30,79.50 588.01,78.19 588.71,76.95 589.40,75.76 590.09,74.62 590.79,73.54 591.50,72.49 592.24,71.48 593.00,70.50 593.79,69.56 594.61,68.67 595.45,67.83 596.30,67.02 597.17,66.24 598.04,65.48 598.92,64.74 599.80,64.00 600.63,63.30 601.38,62.65 602.11,62.04 602.87,61.44 603.70,60.83 604.64,60.19 605.76,59.48 607.10,58.70 608.69,57.80 610.51,56.80 612.50,55.72 614.61,54.62 616.78,53.53 618.98,52.48 621.13,51.53 623.20,50.70 625.20,50.00 627.20,49.39 629.20,48.85 631.20,48.37 633.20,47.93 635.20,47.51 637.20,47.11 639.20,46.70 641.21,46.29 643.22,45.91 645.23,45.55 647.24,45.21 649.26,44.89 651.27,44.58 653.29,44.29 655.30,44.00 657.34,43.73 659.42,43.47 661.51,43.23 663.60,43.01 665.66,42.79 667.66,42.59 669.58,42.39 671.40,42.20 673.19,42.01 674.99,41.83 676.76,41.65 678.46,41.49 680.02,41.34 681.42,41.20 682.59,41.09 683.50,41.00" fill="none" stroke="#f01a80" stroke-width="1.2" stroke-linejoin="round" />
<polyline points="498.60,250.00 501.50,244.00 504.00,236.00 507.00,247.00 510.00,244.00 513.00,238.00 516.00,230.00 519.00,241.00 522.00,247.00 525.00,238.00 528.00,236.00 531.50,244.00 535.00,247.00 537.50,236.00 540.00,238.00 543.00,233.00 543.42,232.66 543.98,232.31 544.65,231.90 545.39,231.39 546.17,230.72 546.95,229.85 547.71,228.73 548.40,227.30 549.04,225.53 549.68,223.44 550.30,221.08 550.92,218.53 551.54,215.84 552.16,213.06 552.78,210.26 553.40,207.50 554.03,204.72 554.65,201.83 555.28,198.87 555.91,195.86 556.53,192.81 557.16,189.75 557.78,186.71 558.40,183.70 559.03,180.65 559.68,177.50 560.33,174.30 560.98,171.12 561.61,168.03 562.22,165.07 562.78,162.30 563.30,159.80 563.75,157.62 564.14,155.74 564.48,154.07 564.81,152.53 565.12,151.04 565.44,149.51 565.79,147.86 566.18,146.00 566.61,143.96 567.05,141.82 567.51,139.60 567.98,137.32 568.47,135.01 568.97,132.67 569.50,130.33 570.04,128.00 570.60,125.66 571.18,123.27 571.77,120.86 572.38,118.44 573.01,116.02 573.66,113.63 574.33,111.29 575.02,109.00 575.74,106.75 576.50,104.50 577.28,102.28 578.07,100.09 578.88,97.96 579.68,95.89 580.48,93.90 581.26,92.00 582.03,90.20 582.79,88.48 583.55,86.83 584.31,85.25 585.07,83.73 585.82,82.27 586.56,80.86 587.30,79.50 588.02,78.19 588.72,76.95 589.41,75.76 590.10,74.62 590.80,73.54 591.51,72.49 592.24,71.48 593.00,70.50 593.79,69.56 594.61,68.67 595.45,67.83 596.30,67.02 597.17,66.24 598.04,65.48 598.92,64.74 599.80,64.00 600.63,63.30 601.38,62.65 602.11,62.04 602.87,61.44 603.70,60.83 604.64,60.19 605.76,59.48 607.10,58.70 608.69,57.80 610.51,56.80 612.50,55.72 614.61,54.62 616.78,53.53 618.98,52.48 621.13,51.53 623.20,50.70 625.20,50.00 627.20,49.39 629.20,48.85 631.20,48.37 633.20,47.93 635.20,47.51 637.20,47.11 639.20,46.70 641.21,46.29 643.22,45.91 645.23,45.55 647.24,45.21 649.26,44.89 651.27,44.58 653.29,44.29 655.30,44.00 657.34,43.73 659.42,43.47 661.51,43.23 663.60,43.01 665.66,42.79 667.66,42.59 669.58,42.39 671.40,42.20 673.19,42.01 674.99,41.83 676.76,41.65 678.46,41.49 680.02,41.34 681.42,41.20 682.59,41.09 683.50,41.00" fill="none" stroke="#ff8a3a" stroke-width="1.2" stroke-linejoin="round" stroke-dasharray="2.4,1.3"/>
<polyline points="498.60,257.60 501.00,268.50 505.00,257.60 507.90,269.50 510.90,259.60 513.90,277.50 517.90,256.60 520.80,265.60 523.40,280.50 526.80,252.70 531.80,253.60 535.80,265.60 538.70,258.60 540.70,263.60 544.70,252.70 548.70,246.70 548.93,245.56 549.21,244.09 549.55,242.34 549.94,240.37 550.36,238.23 550.82,235.97 551.30,233.64 551.80,231.30 552.33,228.89 552.92,226.33 553.54,223.65 554.19,220.88 554.85,218.04 555.51,215.16 556.17,212.27 556.80,209.40 557.42,206.52 558.03,203.58 558.64,200.61 559.25,197.62 559.86,194.61 560.47,191.59 561.08,188.59 561.70,185.60 562.33,182.57 562.99,179.46 563.66,176.32 564.33,173.20 564.97,170.14 565.60,167.19 566.17,164.39 566.70,161.80 567.16,159.46 567.56,157.36 567.92,155.43 568.25,153.60 568.57,151.81 568.89,149.99 569.23,148.07 569.60,146.00 569.99,143.77 570.39,141.46 570.79,139.07 571.21,136.65 571.63,134.21 572.07,131.77 572.52,129.36 573.00,127.00 573.50,124.67 574.01,122.35 574.53,120.03 575.08,117.73 575.63,115.44 576.21,113.19 576.80,110.97 577.40,108.80 578.03,106.65 578.68,104.52 579.35,102.42 580.04,100.34 580.73,98.32 581.43,96.34 582.12,94.43 582.80,92.60 583.48,90.84 584.15,89.15 584.83,87.53 585.51,85.96 586.18,84.43 586.86,82.96 587.53,81.51 588.20,80.10 588.86,78.73 589.51,77.40 590.15,76.11 590.79,74.87 591.44,73.66 592.11,72.48 592.79,71.33 593.50,70.20 594.23,69.11 594.98,68.08 595.75,67.09 596.52,66.12 597.32,65.16 598.13,64.20 598.96,63.22 599.80,62.20 600.60,61.17 601.35,60.15 602.08,59.12 602.84,58.08 603.67,57.02 604.63,55.93 605.76,54.79 607.10,53.60 608.69,52.31 610.51,50.90 612.50,49.43 614.61,47.94 616.78,46.47 618.98,45.08 621.13,43.81 623.20,42.70 625.20,41.76 627.20,40.94 629.20,40.21 631.20,39.58 633.20,39.00 635.20,38.48 637.20,37.98 639.20,37.50 641.21,37.05 643.22,36.65 645.23,36.31 647.24,36.00 649.26,35.72 651.27,35.47 653.29,35.23 655.30,35.00 657.34,34.78 659.42,34.59 661.51,34.42 663.60,34.26 665.66,34.13 667.66,34.01 669.58,33.90 671.40,33.80 673.19,33.72 674.99,33.65 676.76,33.61 678.46,33.57 680.02,33.55 681.42,33.53 682.59,33.52 683.50,33.50" fill="none" stroke="#9a2af2" stroke-width="1.2" stroke-linejoin="round" />
<polyline points="498.60,272.00 501.00,284.00 504.00,282.00 507.00,270.00 510.00,266.00 513.00,280.00 516.00,272.00 519.00,268.00 522.00,290.00 524.50,276.00 527.00,262.00 529.00,270.00 531.00,275.00 533.30,288.00 534.50,301.00 535.80,290.00 537.00,268.00 539.50,275.00 542.00,277.00 544.00,266.00 546.00,258.00 548.50,262.00 551.00,244.00 551.16,243.08 551.35,241.93 551.58,240.57 551.84,239.02 552.14,237.29 552.48,235.42 552.87,233.41 553.30,231.30 553.80,229.02 554.36,226.52 554.98,223.84 555.64,221.04 556.31,218.16 556.99,215.22 557.66,212.29 558.30,209.40 558.92,206.52 559.53,203.58 560.14,200.61 560.75,197.62 561.36,194.61 561.97,191.59 562.58,188.59 563.20,185.60 563.84,182.57 564.49,179.46 565.16,176.32 565.83,173.20 566.48,170.14 567.10,167.19 567.68,164.39 568.20,161.80 568.66,159.46 569.05,157.36 569.41,155.43 569.73,153.60 570.04,151.81 570.35,149.99 570.67,148.07 571.01,146.00 571.37,143.77 571.73,141.46 572.08,139.07 572.44,136.65 572.80,134.21 573.18,131.77 573.58,129.36 574.01,127.00 574.45,124.67 574.91,122.35 575.39,120.03 575.88,117.73 576.39,115.44 576.92,113.19 577.46,110.97 578.02,108.80 578.60,106.65 579.21,104.52 579.83,102.42 580.47,100.34 581.12,98.32 581.78,96.34 582.43,94.43 583.07,92.60 583.71,90.84 584.34,89.15 584.98,87.53 585.62,85.96 586.26,84.43 586.91,82.96 587.55,81.51 588.20,80.10 588.85,78.73 589.49,77.40 590.13,76.11 590.78,74.87 591.43,73.66 592.10,72.48 592.79,71.33 593.50,70.20 594.23,69.11 594.98,68.08 595.75,67.09 596.52,66.12 597.32,65.16 598.13,64.20 598.96,63.22 599.80,62.20 600.60,61.17 601.35,60.15 602.08,59.12 602.84,58.08 603.67,57.02 604.63,55.93 605.76,54.79 607.10,53.60 608.69,52.31 610.51,50.90 612.50,49.43 614.61,47.94 616.78,46.47 618.98,45.08 621.13,43.81 623.20,42.70 625.20,41.76 627.20,40.94 629.20,40.21 631.20,39.58 633.20,39.00 635.20,38.48 637.20,37.98 639.20,37.50 641.21,37.05 643.22,36.65 645.23,36.31 647.24,36.00 649.26,35.72 651.27,35.47 653.29,35.23 655.30,35.00 657.34,34.78 659.42,34.59 661.51,34.42 663.60,34.26 665.66,34.13 667.66,34.01 669.58,33.90 671.40,33.80 673.19,33.72 674.99,33.65 676.76,33.61 678.46,33.57 680.02,33.55 681.42,33.53 682.59,33.52 683.50,33.50" fill="none" stroke="#ff2cff" stroke-width="1.3" stroke-linejoin="round" stroke-dasharray="2.4,1.3"/>
</g>
<line x1="498.60" y1="1.75" x2="682.80" y2="1.75" stroke="#8a8484" stroke-width="1.1" /><line x1="682.80" y1="1.75" x2="682.80" y2="308.20" stroke="#8a8484" stroke-width="1.1" /><line x1="498.60" y1="1.75" x2="498.60" y2="308.20" stroke="#4b4040" stroke-width="1.1" /><line x1="498.60" y1="308.20" x2="682.80" y2="308.20" stroke="#4b4040" stroke-width="1.1" />
<line x1="516.10" y1="308.20" x2="516.10" y2="306.80" stroke="#4b4040" stroke-width="0.8" />
<line x1="534.50" y1="308.20" x2="534.50" y2="305.80" stroke="#4b4040" stroke-width="0.8" />
<line x1="552.90" y1="308.20" x2="552.90" y2="306.80" stroke="#4b4040" stroke-width="0.8" />
<line x1="571.30" y1="308.20" x2="571.30" y2="305.80" stroke="#4b4040" stroke-width="0.8" />
<line x1="589.70" y1="308.20" x2="589.70" y2="306.80" stroke="#4b4040" stroke-width="0.8" />
<line x1="608.10" y1="308.20" x2="608.10" y2="305.80" stroke="#4b4040" stroke-width="0.8" />
<line x1="626.50" y1="308.20" x2="626.50" y2="306.80" stroke="#4b4040" stroke-width="0.8" />
<line x1="644.90" y1="308.20" x2="644.90" y2="305.80" stroke="#4b4040" stroke-width="0.8" />
<line x1="663.30" y1="308.20" x2="663.30" y2="306.80" stroke="#4b4040" stroke-width="0.8" />
<line x1="681.70" y1="308.20" x2="681.70" y2="305.80" stroke="#4b4040" stroke-width="0.8" />
<line x1="498.60" y1="307.75" x2="502.00" y2="307.75" stroke="#4b4040" stroke-width="0.8" />
<line x1="498.60" y1="298.54" x2="500.80" y2="298.54" stroke="#4b4040" stroke-width="0.6" />
<line x1="498.60" y1="293.15" x2="500.80" y2="293.15" stroke="#4b4040" stroke-width="0.6" />
<line x1="498.60" y1="289.33" x2="500.80" y2="289.33" stroke="#4b4040" stroke-width="0.6" />
<line x1="498.60" y1="286.36" x2="500.80" y2="286.36" stroke="#4b4040" stroke-width="0.6" />
<line x1="498.60" y1="283.94" x2="500.80" y2="283.94" stroke="#4b4040" stroke-width="0.6" />
<line x1="498.60" y1="281.89" x2="500.80" y2="281.89" stroke="#4b4040" stroke-width="0.6" />
<line x1="498.60" y1="280.12" x2="500.80" y2="280.12" stroke="#4b4040" stroke-width="0.6" />
<line x1="498.60" y1="278.55" x2="500.80" y2="278.55" stroke="#4b4040" stroke-width="0.6" />
<line x1="498.60" y1="277.15" x2="502.00" y2="277.15" stroke="#4b4040" stroke-width="0.8" />
<line x1="498.60" y1="267.94" x2="500.80" y2="267.94" stroke="#4b4040" stroke-width="0.6" />
<line x1="498.60" y1="262.55" x2="500.80" y2="262.55" stroke="#4b4040" stroke-width="0.6" />
<line x1="498.60" y1="258.73" x2="500.80" y2="258.73" stroke="#4b4040" stroke-width="0.6" />
<line x1="498.60" y1="255.76" x2="500.80" y2="255.76" stroke="#4b4040" stroke-width="0.6" />
<line x1="498.60" y1="253.34" x2="500.80" y2="253.34" stroke="#4b4040" stroke-width="0.6" />
<line x1="498.60" y1="251.29" x2="500.80" y2="251.29" stroke="#4b4040" stroke-width="0.6" />
<line x1="498.60" y1="249.52" x2="500.80" y2="249.52" stroke="#4b4040" stroke-width="0.6" />
<line x1="498.60" y1="247.95" x2="500.80" y2="247.95" stroke="#4b4040" stroke-width="0.6" />
<line x1="498.60" y1="246.55" x2="502.00" y2="246.55" stroke="#4b4040" stroke-width="0.8" />
<line x1="498.60" y1="237.34" x2="500.80" y2="237.34" stroke="#4b4040" stroke-width="0.6" />
<line x1="498.60" y1="231.95" x2="500.80" y2="231.95" stroke="#4b4040" stroke-width="0.6" />
<line x1="498.60" y1="228.13" x2="500.80" y2="228.13" stroke="#4b4040" stroke-width="0.6" />
<line x1="498.60" y1="225.16" x2="500.80" y2="225.16" stroke="#4b4040" stroke-width="0.6" />
<line x1="498.60" y1="222.74" x2="500.80" y2="222.74" stroke="#4b4040" stroke-width="0.6" />
<line x1="498.60" y1="220.69" x2="500.80" y2="220.69" stroke="#4b4040" stroke-width="0.6" />
<line x1="498.60" y1="218.92" x2="500.80" y2="218.92" stroke="#4b4040" stroke-width="0.6" />
<line x1="498.60" y1="217.35" x2="500.80" y2="217.35" stroke="#4b4040" stroke-width="0.6" />
<line x1="498.60" y1="215.95" x2="502.00" y2="215.95" stroke="#4b4040" stroke-width="0.8" />
<line x1="498.60" y1="206.74" x2="500.80" y2="206.74" stroke="#4b4040" stroke-width="0.6" />
<line x1="498.60" y1="201.35" x2="500.80" y2="201.35" stroke="#4b4040" stroke-width="0.6" />
<line x1="498.60" y1="197.53" x2="500.80" y2="197.53" stroke="#4b4040" stroke-width="0.6" />
<line x1="498.60" y1="194.56" x2="500.80" y2="194.56" stroke="#4b4040" stroke-width="0.6" />
<line x1="498.60" y1="192.14" x2="500.80" y2="192.14" stroke="#4b4040" stroke-width="0.6" />
<line x1="498.60" y1="190.09" x2="500.80" y2="190.09" stroke="#4b4040" stroke-width="0.6" />
<line x1="498.60" y1="188.32" x2="500.80" y2="188.32" stroke="#4b4040" stroke-width="0.6" />
<line x1="498.60" y1="186.75" x2="500.80" y2="186.75" stroke="#4b4040" stroke-width="0.6" />
<line x1="498.60" y1="185.35" x2="502.00" y2="185.35" stroke="#4b4040" stroke-width="0.8" />
<line x1="498.60" y1="176.14" x2="500.80" y2="176.14" stroke="#4b4040" stroke-width="0.6" />
<line x1="498.60" y1="170.75" x2="500.80" y2="170.75" stroke="#4b4040" stroke-width="0.6" />
<line x1="498.60" y1="166.93" x2="500.80" y2="166.93" stroke="#4b4040" stroke-width="0.6" />
<line x1="498.60" y1="163.96" x2="500.80" y2="163.96" stroke="#4b4040" stroke-width="0.6" />
<line x1="498.60" y1="161.54" x2="500.80" y2="161.54" stroke="#4b4040" stroke-width="0.6" />
<line x1="498.60" y1="159.49" x2="500.80" y2="159.49" stroke="#4b4040" stroke-width="0.6" />
<line x1="498.60" y1="157.72" x2="500.80" y2="157.72" stroke="#4b4040" stroke-width="0.6" />
<line x1="498.60" y1="156.15" x2="500.80" y2="156.15" stroke="#4b4040" stroke-width="0.6" />
<line x1="498.60" y1="154.75" x2="502.00" y2="154.75" stroke="#4b4040" stroke-width="0.8" />
<line x1="498.60" y1="145.54" x2="500.80" y2="145.54" stroke="#4b4040" stroke-width="0.6" />
<line x1="498.60" y1="140.15" x2="500.80" y2="140.15" stroke="#4b4040" stroke-width="0.6" />
<line x1="498.60" y1="136.33" x2="500.80" y2="136.33" stroke="#4b4040" stroke-width="0.6" />
<line x1="498.60" y1="133.36" x2="500.80" y2="133.36" stroke="#4b4040" stroke-width="0.6" />
<line x1="498.60" y1="130.94" x2="500.80" y2="130.94" stroke="#4b4040" stroke-width="0.6" />
<line x1="498.60" y1="128.89" x2="500.80" y2="128.89" stroke="#4b4040" stroke-width="0.6" />
<line x1="498.60" y1="127.12" x2="500.80" y2="127.12" stroke="#4b4040" stroke-width="0.6" />
<line x1="498.60" y1="125.55" x2="500.80" y2="125.55" stroke="#4b4040" stroke-width="0.6" />
<line x1="498.60" y1="124.15" x2="502.00" y2="124.15" stroke="#4b4040" stroke-width="0.8" />
<line x1="498.60" y1="114.94" x2="500.80" y2="114.94" stroke="#4b4040" stroke-width="0.6" />
<line x1="498.60" y1="109.55" x2="500.80" y2="109.55" stroke="#4b4040" stroke-width="0.6" />
<line x1="498.60" y1="105.73" x2="500.80" y2="105.73" stroke="#4b4040" stroke-width="0.6" />
<line x1="498.60" y1="102.76" x2="500.80" y2="102.76" stroke="#4b4040" stroke-width="0.6" />
<line x1="498.60" y1="100.34" x2="500.80" y2="100.34" stroke="#4b4040" stroke-width="0.6" />
<line x1="498.60" y1="98.29" x2="500.80" y2="98.29" stroke="#4b4040" stroke-width="0.6" />
<line x1="498.60" y1="96.52" x2="500.80" y2="96.52" stroke="#4b4040" stroke-width="0.6" />
<line x1="498.60" y1="94.95" x2="500.80" y2="94.95" stroke="#4b4040" stroke-width="0.6" />
<line x1="498.60" y1="93.55" x2="502.00" y2="93.55" stroke="#4b4040" stroke-width="0.8" />
<line x1="498.60" y1="84.34" x2="500.80" y2="84.34" stroke="#4b4040" stroke-width="0.6" />
<line x1="498.60" y1="78.95" x2="500.80" y2="78.95" stroke="#4b4040" stroke-width="0.6" />
<line x1="498.60" y1="75.13" x2="500.80" y2="75.13" stroke="#4b4040" stroke-width="0.6" />
<line x1="498.60" y1="72.16" x2="500.80" y2="72.16" stroke="#4b4040" stroke-width="0.6" />
<line x1="498.60" y1="69.74" x2="500.80" y2="69.74" stroke="#4b4040" stroke-width="0.6" />
<line x1="498.60" y1="67.69" x2="500.80" y2="67.69" stroke="#4b4040" stroke-width="0.6" />
<line x1="498.60" y1="65.92" x2="500.80" y2="65.92" stroke="#4b4040" stroke-width="0.6" />
<line x1="498.60" y1="64.35" x2="500.80" y2="64.35" stroke="#4b4040" stroke-width="0.6" />
<line x1="498.60" y1="62.95" x2="502.00" y2="62.95" stroke="#4b4040" stroke-width="0.8" />
<line x1="498.60" y1="53.74" x2="500.80" y2="53.74" stroke="#4b4040" stroke-width="0.6" />
<line x1="498.60" y1="48.35" x2="500.80" y2="48.35" stroke="#4b4040" stroke-width="0.6" />
<line x1="498.60" y1="44.53" x2="500.80" y2="44.53" stroke="#4b4040" stroke-width="0.6" />
<line x1="498.60" y1="41.56" x2="500.80" y2="41.56" stroke="#4b4040" stroke-width="0.6" />
<line x1="498.60" y1="39.14" x2="500.80" y2="39.14" stroke="#4b4040" stroke-width="0.6" />
<line x1="498.60" y1="37.09" x2="500.80" y2="37.09" stroke="#4b4040" stroke-width="0.6" />
<line x1="498.60" y1="35.32" x2="500.80" y2="35.32" stroke="#4b4040" stroke-width="0.6" />
<line x1="498.60" y1="33.75" x2="500.80" y2="33.75" stroke="#4b4040" stroke-width="0.6" />
<line x1="498.60" y1="32.35" x2="502.00" y2="32.35" stroke="#4b4040" stroke-width="0.8" />
<line x1="498.60" y1="23.14" x2="500.80" y2="23.14" stroke="#4b4040" stroke-width="0.6" />
<line x1="498.60" y1="17.75" x2="500.80" y2="17.75" stroke="#4b4040" stroke-width="0.6" />
<line x1="498.60" y1="13.93" x2="500.80" y2="13.93" stroke="#4b4040" stroke-width="0.6" />
<line x1="498.60" y1="10.96" x2="500.80" y2="10.96" stroke="#4b4040" stroke-width="0.6" />
<line x1="498.60" y1="8.54" x2="500.80" y2="8.54" stroke="#4b4040" stroke-width="0.6" />
<line x1="498.60" y1="6.49" x2="500.80" y2="6.49" stroke="#4b4040" stroke-width="0.6" />
<line x1="498.60" y1="4.72" x2="500.80" y2="4.72" stroke="#4b4040" stroke-width="0.6" />
<line x1="498.60" y1="3.15" x2="500.80" y2="3.15" stroke="#4b4040" stroke-width="0.6" />
<text x="496.40" y="319.00" font-size="9.0" text-anchor="middle" fill="#2a2a2a" >-1.5</text>
<text x="533.20" y="319.00" font-size="9.0" text-anchor="middle" fill="#2a2a2a" >-1.0</text>
<text x="570.00" y="319.00" font-size="9.0" text-anchor="middle" fill="#2a2a2a" >-0.5</text>
<text x="606.80" y="319.00" font-size="9.0" text-anchor="middle" fill="#2a2a2a" >0.0</text>
<text x="643.60" y="319.00" font-size="9.0" text-anchor="middle" fill="#2a2a2a" >0.5</text>
<text x="680.40" y="319.00" font-size="9.0" text-anchor="middle" fill="#2a2a2a" >1.0</text>
<text x="495.20" y="8.10" font-size="8.0" text-anchor="end" fill="#222">10<tspan font-size="5.12" dy="-3.52">1</tspan></text>
<text x="495.20" y="67.50" font-size="8.0" text-anchor="end" fill="#222">10<tspan font-size="5.12" dy="-3.52">-1</tspan></text>
<text x="495.20" y="129.50" font-size="8.0" text-anchor="end" fill="#222">10<tspan font-size="5.12" dy="-3.52">-3</tspan></text>
<text x="495.20" y="190.70" font-size="8.0" text-anchor="end" fill="#222">10<tspan font-size="5.12" dy="-3.52">-5</tspan></text>
<text x="495.20" y="244.40" font-size="8.0" text-anchor="end" fill="#222">10<tspan font-size="5.12" dy="-3.52">-7</tspan></text>
<text x="495.20" y="309.90" font-size="8.0" text-anchor="end" fill="#222">10<tspan font-size="5.12" dy="-3.52">-9</tspan></text>
<text x="578.60" y="330.00" font-size="10.5" text-anchor="start" fill="#000" font-style="italic" >V</text><text x="584.60" y="333.20" font-size="6" text-anchor="start" fill="#000" >tg</text><text x="591.00" y="330.00" font-size="10.5" text-anchor="start" fill="#000" >(V)</text>
<g transform="translate(476.4,157.2) rotate(-90)"><text x="0" y="0" font-size="10.5" text-anchor="middle"><tspan font-style="italic">I</tspan><tspan font-size="5.6" dy="2">ds</tspan><tspan dy="-2"> (μA μm</tspan><tspan font-size="5.6" dy="-3.4">-1</tspan><tspan dy="3.4">)</tspan></text></g>
<text x="513.40" y="18.60" font-size="8.4" text-anchor="start" fill="#000" >Forward</text>
<text x="570.80" y="18.60" font-size="8.4" text-anchor="start" fill="#000" >Backward</text>
<line x1="513.30" y1="29.10" x2="526.80" y2="29.10" stroke="#cc11dd" stroke-width="1.6" />
<text x="530.40" y="32.20" font-size="8.6" text-anchor="start" fill="#000" >300 K</text>
<line x1="513.30" y1="42.60" x2="526.80" y2="42.60" stroke="#dd1188" stroke-width="1.6" />
<text x="530.40" y="45.70" font-size="8.6" text-anchor="start" fill="#000" >400 K</text>
<line x1="513.30" y1="56.00" x2="526.80" y2="56.00" stroke="#77bb88" stroke-width="1.6" />
<text x="530.40" y="59.10" font-size="8.6" text-anchor="start" fill="#000" >500 K</text>
<line x1="569.90" y1="29.00" x2="583.20" y2="29.00" stroke="#ff22ff" stroke-width="1.4" stroke-dasharray="2.4,1.2"/>
<text x="586.60" y="32.10" font-size="8.6" text-anchor="start" fill="#000" >300 K</text>
<line x1="569.90" y1="41.80" x2="583.20" y2="41.80" stroke="#ff7744" stroke-width="1.4" stroke-dasharray="2.4,1.2"/>
<text x="586.60" y="44.90" font-size="8.6" text-anchor="start" fill="#000" >400 K</text>
<line x1="623.50" y1="27.80" x2="636.30" y2="27.80" stroke="#22ddff" stroke-width="1.4" stroke-dasharray="2.4,1.2"/>
<text x="639.80" y="30.90" font-size="8.6" text-anchor="start" fill="#000" >500 K</text>
<rect x="508.90" y="71.90" width="56.20" height="61.50" fill="#998aa5" />
<polygon points="513.40,100.70 537.70,88.90 553.00,97.90 537.70,116.70" fill="#7272e0" />
<polygon points="530.00,86.00 546.00,86.00 544.00,97.00 532.00,97.00" fill="#a478c8" />
<polygon points="531.00,110.00 545.00,110.00 544.00,119.50 532.00,119.50" fill="#9c70c8" />
<polygon points="518.90,71.90 532.10,71.90 530.00,84.70" fill="#8fd0f0" />
<polygon points="531.40,71.90 546.50,71.90 546.00,86.10 532.20,86.10" fill="#ece8e0" />
<rect x="523.10" y="97.20" width="42.00" height="13.20" fill="#ece9e2" rx="0.8"/>
<polygon points="532.00,119.20 546.10,119.20 546.10,133.40 531.40,133.40" fill="#ece8e0" />
<rect x="512.70" y="127.90" width="13.50" height="1.90" fill="#ffffff" />
<text x="596.20" y="105.00" font-size="8.6" text-anchor="start" fill="#000" >500 K</text>
<rect x="596.1" y="109.1" width="77.29999999999995" height="44.5" fill="#fff" stroke="#a8a8a8" stroke-width="0.9"/>
<line x1="616.00" y1="153.60" x2="630.00" y2="109.10" stroke="#1f9a9a" stroke-width="1.0" />
<line x1="647.30" y1="153.60" x2="660.50" y2="109.10" stroke="#33e6f6" stroke-width="1.0" stroke-dasharray="1.4,1"/>
<text x="601.20" y="118.20" font-size="8.6" text-anchor="start" fill="#555" >△</text><text x="610.00" y="118.20" font-size="8.6" text-anchor="start" fill="#000" font-style="italic" >V</text>
<text x="597.60" y="128.60" font-size="7.6" text-anchor="start" fill="#000" >24.4 mV</text>
<line x1="602.80" y1="135.80" x2="616.20" y2="135.80" stroke="#77c088" stroke-width="1.3" /><polygon points="619.20,135.80 615.20,133.80 615.20,137.80" fill="#77c088" />
<line x1="670.80" y1="137.40" x2="658.00" y2="137.40" stroke="#22e0f0" stroke-width="1.3" /><polygon points="655.00,137.40 659.00,135.40 659.00,139.40" fill="#22e0f0" />
<text x="594.50" y="160.20" font-size="5.8" text-anchor="middle" fill="#222" >-0.60</text>
<text x="620.80" y="160.20" font-size="5.8" text-anchor="middle" fill="#222" >-0.58</text>
<text x="646.20" y="160.20" font-size="5.8" text-anchor="middle" fill="#222" >-0.56</text>
<text x="671.30" y="160.20" font-size="5.8" text-anchor="middle" fill="#222" >-0.54</text>
<text x="596.20" y="170.80" font-size="8.6" text-anchor="start" fill="#000" >400 K</text>
<rect x="596.1" y="174.3" width="77.29999999999995" height="44.79999999999998" fill="#fff" stroke="#a8a8a8" stroke-width="0.9"/>
<line x1="620.80" y1="219.10" x2="637.00" y2="174.30" stroke="#f02a9a" stroke-width="1.0" />
<line x1="632.40" y1="219.10" x2="648.90" y2="174.30" stroke="#ff9a3a" stroke-width="1.0" stroke-dasharray="1.4,1"/>
<text x="602.60" y="183.60" font-size="8.6" text-anchor="start" fill="#555" >△</text><text x="611.40" y="183.60" font-size="8.6" text-anchor="start" fill="#000" font-style="italic" >V</text>
<text x="600.00" y="193.80" font-size="7.6" text-anchor="start" fill="#000" >9.5 mV</text>
<line x1="608.00" y1="202.10" x2="621.00" y2="202.10" stroke="#e0209a" stroke-width="1.3" /><polygon points="624.00,202.10 620.00,200.10 620.00,204.10" fill="#e0209a" />
<line x1="658.10" y1="202.90" x2="645.20" y2="202.90" stroke="#f06a40" stroke-width="1.3" /><polygon points="642.20,202.90 646.20,200.90 646.20,204.90" fill="#f06a40" />
<text x="595.30" y="225.80" font-size="5.8" text-anchor="middle" fill="#222" >-0.56</text>
<text x="620.80" y="225.80" font-size="5.8" text-anchor="middle" fill="#222" >-0.54</text>
<text x="646.20" y="225.80" font-size="5.8" text-anchor="middle" fill="#222" >-0.52</text>
<text x="671.30" y="225.80" font-size="5.8" text-anchor="middle" fill="#222" >-0.50</text>
<text x="596.20" y="236.80" font-size="8.6" text-anchor="start" fill="#000" >300 K</text>
<rect x="596.1" y="240.4" width="77.29999999999995" height="44.70000000000002" fill="#fff" stroke="#a8a8a8" stroke-width="0.9"/>
<line x1="620.30" y1="285.10" x2="642.60" y2="240.40" stroke="#9a44ff" stroke-width="1.0" />
<line x1="630.80" y1="285.10" x2="652.60" y2="240.40" stroke="#ff30ff" stroke-width="1.0" stroke-dasharray="1.4,1"/>
<text x="601.80" y="250.40" font-size="8.6" text-anchor="start" fill="#555" >△</text><text x="610.60" y="250.40" font-size="8.6" text-anchor="start" fill="#000" font-style="italic" >V</text>
<text x="602.00" y="259.60" font-size="7.6" text-anchor="start" fill="#000" >5.4 mV</text>
<line x1="607.30" y1="268.20" x2="620.50" y2="268.20" stroke="#e020e0" stroke-width="1.3" /><polygon points="623.50,268.20 619.50,266.20 619.50,270.20" fill="#e020e0" />
<line x1="657.80" y1="270.30" x2="644.90" y2="270.30" stroke="#ff30ff" stroke-width="1.3" /><polygon points="641.90,270.30 645.90,268.30 645.90,272.30" fill="#ff30ff" />
<text x="596.90" y="291.60" font-size="5.8" text-anchor="middle" fill="#222" >-0.54</text>
<text x="631.90" y="291.60" font-size="5.8" text-anchor="middle" fill="#222" >-0.52</text>
<text x="671.60" y="291.60" font-size="5.8" text-anchor="middle" fill="#222" >-0.50</text>
<text x="624.60" y="299.40" font-size="8.0" text-anchor="start" fill="#000" font-style="italic" >V</text><text x="629.20" y="301.80" font-size="4.8" text-anchor="start" fill="#000" >tg</text><text x="634.40" y="299.40" font-size="8.0" text-anchor="start" fill="#000" >(V)</text>
<text x="0.60" y="363.80" font-size="14.5" text-anchor="start" fill="#000" >f</text>
<defs><pattern id="temrows" x="0" y="0" width="4" height="2.2" patternUnits="userSpaceOnUse"><rect width="4" height="2.2" fill="#8a8a8a"/><rect y="1.4" width="4" height="0.8" fill="#7e7e7e"/><rect x="1" y="0.3" width="1.6" height="0.8" fill="#929292"/></pattern><filter id="bl6"><feGaussianBlur stdDeviation="0.7"/></filter><filter id="bl4"><feGaussianBlur stdDeviation="0.35"/></filter></defs>
<rect x="6.00" y="358.20" width="117.60" height="83.00" fill="url(#temrows)" />
<rect x="6.00" y="440.60" width="117.60" height="2.60" fill="#5a5a5a" />
<rect x="6.00" y="443.20" width="117.60" height="46.30" fill="#181818" />
<rect x="125.20" y="358.20" width="63.20" height="131.30" fill="#000" />
<rect x="125.20" y="441.80" width="63.20" height="5.40" fill="#2e2e2e" />
<clipPath id="cpf0"><rect x="125.2" y="358.2" width="63.2" height="131.3"/></clipPath>
<rect x="190.40" y="358.20" width="62.90" height="131.30" fill="#000" />
<rect x="190.40" y="441.80" width="62.90" height="5.40" fill="#2e2e2e" />
<clipPath id="cpf1"><rect x="190.4" y="358.2" width="62.900000000000006" height="131.3"/></clipPath>
<rect x="255.00" y="358.20" width="62.60" height="131.30" fill="#000" />
<rect x="255.00" y="441.80" width="62.60" height="5.40" fill="#2e2e2e" />
<clipPath id="cpf2"><rect x="255.0" y="358.2" width="62.60000000000002" height="131.3"/></clipPath>
<g clip-path="url(#cpf0)"><g filter="url(#bl6)">
<rect x="125.20" y="358.20" width="63.20" height="83.00" fill="#120000" />
<circle cx="153.79" cy="404.38" r="2.03" fill="#ff1818" />
<circle cx="153.76" cy="428.74" r="1.37" fill="#b00606" />
<circle cx="155.27" cy="408.85" r="1.37" fill="#ff1818" />
<circle cx="144.37" cy="365.68" r="1.93" fill="#ff0d0d" />
<circle cx="162.83" cy="390.88" r="1.61" fill="#b00606" />
<circle cx="166.28" cy="409.61" r="1.95" fill="#ff0d0d" />
<circle cx="128.96" cy="373.89" r="1.42" fill="#ff0d0d" />
<circle cx="174.38" cy="385.12" r="1.73" fill="#f00a0a" />
<circle cx="158.01" cy="411.02" r="1.65" fill="#ff0d0d" />
<circle cx="154.10" cy="381.15" r="2.10" fill="#ff0d0d" />
<circle cx="169.93" cy="384.21" r="1.41" fill="#d00808" />
<circle cx="127.08" cy="404.66" r="1.30" fill="#ff0d0d" />
<circle cx="178.70" cy="390.09" r="2.06" fill="#ff0d0d" />
<circle cx="138.69" cy="434.68" r="1.25" fill="#ff1818" />
<circle cx="187.16" cy="390.99" r="1.27" fill="#f00a0a" />
<circle cx="174.40" cy="380.46" r="1.28" fill="#d00808" />
<circle cx="126.16" cy="392.03" r="2.03" fill="#f00a0a" />
<circle cx="140.77" cy="366.54" r="1.25" fill="#ff1818" />
<circle cx="136.43" cy="404.34" r="1.60" fill="#f00a0a" />
<circle cx="187.47" cy="421.69" r="1.58" fill="#ff1818" />
<circle cx="132.56" cy="392.91" r="1.39" fill="#d00808" />
<circle cx="179.83" cy="438.63" r="1.73" fill="#ff0d0d" />
<circle cx="138.52" cy="390.73" r="1.97" fill="#b00606" />
<circle cx="131.54" cy="439.82" r="1.39" fill="#d00808" />
<circle cx="125.81" cy="408.55" r="1.95" fill="#ff1818" />
<circle cx="129.84" cy="365.63" r="1.72" fill="#f00a0a" />
<circle cx="126.18" cy="388.62" r="1.76" fill="#f00a0a" />
<circle cx="185.82" cy="398.11" r="1.72" fill="#ff1818" />
<circle cx="136.75" cy="370.92" r="2.02" fill="#b00606" />
<circle cx="140.97" cy="373.86" r="1.87" fill="#b00606" />
<circle cx="137.62" cy="436.59" r="1.99" fill="#b00606" />
<circle cx="130.16" cy="362.11" r="1.30" fill="#b00606" />
<circle cx="186.04" cy="377.87" r="1.83" fill="#d00808" />
<circle cx="151.80" cy="432.85" r="1.64" fill="#b00606" />
<circle cx="136.29" cy="417.63" r="1.26" fill="#f00a0a" />
<circle cx="155.49" cy="412.11" r="1.75" fill="#ff0d0d" />
<circle cx="142.91" cy="433.88" r="1.38" fill="#ff0d0d" />
<circle cx="129.57" cy="392.14" r="1.42" fill="#ff0d0d" />
<circle cx="136.34" cy="388.62" r="1.71" fill="#f00a0a" />
<circle cx="131.03" cy="369.62" r="1.61" fill="#d00808" />
<circle cx="166.72" cy="415.23" r="1.73" fill="#f00a0a" />
<circle cx="162.48" cy="434.40" r="1.63" fill="#d00808" />
<circle cx="169.50" cy="437.63" r="1.22" fill="#ff0d0d" />
<circle cx="155.68" cy="418.47" r="1.49" fill="#ff0d0d" />
<circle cx="129.96" cy="403.25" r="1.86" fill="#f00a0a" />
<circle cx="175.33" cy="433.69" r="1.52" fill="#ff1818" />
<circle cx="182.13" cy="430.07" r="1.58" fill="#ff0d0d" />
<circle cx="179.77" cy="405.46" r="1.76" fill="#ff1818" />
<circle cx="149.16" cy="359.23" r="1.27" fill="#ff0d0d" />
<circle cx="165.61" cy="440.15" r="1.99" fill="#d00808" />
<circle cx="149.75" cy="418.84" r="1.72" fill="#ff1818" />
<circle cx="154.44" cy="402.85" r="1.67" fill="#b00606" />
<circle cx="127.08" cy="407.81" r="1.63" fill="#f00a0a" />
<circle cx="185.71" cy="367.51" r="1.90" fill="#ff1818" />
<circle cx="141.37" cy="359.13" r="1.47" fill="#b00606" />
<circle cx="138.00" cy="372.19" r="2.02" fill="#ff1818" />
<circle cx="156.69" cy="378.12" r="1.56" fill="#d00808" />
<circle cx="137.75" cy="393.75" r="1.93" fill="#f00a0a" />
<circle cx="180.83" cy="389.91" r="1.72" fill="#d00808" />
<circle cx="138.47" cy="369.30" r="1.52" fill="#ff0d0d" />
<circle cx="170.15" cy="436.58" r="1.45" fill="#f00a0a" />
<circle cx="132.33" cy="397.09" r="2.03" fill="#ff1818" />
<circle cx="149.38" cy="401.10" r="1.80" fill="#b00606" />
<circle cx="153.80" cy="364.36" r="1.23" fill="#b00606" />
<circle cx="127.82" cy="416.66" r="1.71" fill="#d00808" />
<circle cx="166.23" cy="404.73" r="1.78" fill="#ff1818" />
<circle cx="153.95" cy="360.24" r="1.95" fill="#f00a0a" />
<circle cx="174.45" cy="423.94" r="2.09" fill="#ff0d0d" />
<circle cx="153.42" cy="410.17" r="1.79" fill="#d00808" />
<circle cx="185.77" cy="414.67" r="1.38" fill="#ff1818" />
<circle cx="141.38" cy="417.12" r="1.88" fill="#b00606" />
<circle cx="170.34" cy="372.98" r="1.45" fill="#d00808" />
<circle cx="159.31" cy="436.31" r="1.65" fill="#f00a0a" />
<circle cx="150.07" cy="423.53" r="2.02" fill="#ff0d0d" />
<circle cx="151.14" cy="431.84" r="1.55" fill="#ff1818" />
<circle cx="153.86" cy="409.81" r="2.02" fill="#ff1818" />
<circle cx="159.96" cy="412.05" r="1.65" fill="#d00808" />
<circle cx="154.51" cy="411.93" r="1.38" fill="#ff0d0d" />
<circle cx="138.68" cy="432.45" r="2.08" fill="#d00808" />
<circle cx="159.14" cy="423.44" r="1.49" fill="#ff0d0d" />
<circle cx="147.23" cy="365.03" r="1.60" fill="#b00606" />
<circle cx="151.83" cy="380.91" r="2.03" fill="#f00a0a" />
<circle cx="176.34" cy="363.48" r="1.92" fill="#f00a0a" />
<circle cx="158.89" cy="414.84" r="2.02" fill="#ff1818" />
<circle cx="134.60" cy="400.81" r="1.85" fill="#ff1818" />
<circle cx="184.97" cy="398.84" r="2.05" fill="#ff0d0d" />
<circle cx="173.10" cy="394.45" r="1.70" fill="#b00606" />
<circle cx="165.58" cy="401.33" r="1.96" fill="#b00606" />
<circle cx="141.41" cy="413.58" r="2.06" fill="#b00606" />
<circle cx="138.36" cy="428.39" r="2.07" fill="#b00606" />
<circle cx="142.45" cy="399.26" r="1.57" fill="#ff0d0d" />
<circle cx="157.00" cy="408.13" r="1.22" fill="#ff0d0d" />
<circle cx="157.81" cy="391.25" r="1.92" fill="#b00606" />
<circle cx="132.91" cy="365.89" r="1.35" fill="#b00606" />
<circle cx="154.20" cy="434.16" r="1.92" fill="#ff1818" />
<circle cx="142.21" cy="397.24" r="1.31" fill="#ff1818" />
<circle cx="182.14" cy="435.39" r="2.03" fill="#b00606" />
<circle cx="145.25" cy="373.99" r="1.76" fill="#d00808" />
<circle cx="133.38" cy="422.49" r="1.22" fill="#f00a0a" />
<circle cx="135.03" cy="359.18" r="1.46" fill="#d00808" />
<circle cx="140.65" cy="399.35" r="1.65" fill="#b00606" />
<circle cx="132.96" cy="400.31" r="1.43" fill="#f00a0a" />
<circle cx="169.53" cy="430.70" r="1.22" fill="#ff1818" />
<circle cx="177.35" cy="409.00" r="1.68" fill="#b00606" />
<circle cx="165.55" cy="401.89" r="1.97" fill="#b00606" />
<circle cx="162.28" cy="369.46" r="2.02" fill="#d00808" />
<circle cx="182.25" cy="384.26" r="1.48" fill="#f00a0a" />
<circle cx="138.99" cy="440.56" r="2.00" fill="#f00a0a" />
<circle cx="181.38" cy="369.13" r="1.28" fill="#ff1818" />
<circle cx="131.33" cy="426.85" r="1.58" fill="#f00a0a" />
<circle cx="137.88" cy="410.01" r="1.92" fill="#ff0d0d" />
<circle cx="137.90" cy="414.50" r="2.02" fill="#d00808" />
<circle cx="132.49" cy="399.92" r="1.88" fill="#b00606" />
<circle cx="188.31" cy="426.92" r="1.92" fill="#ff1818" />
<circle cx="131.91" cy="361.29" r="1.70" fill="#b00606" />
<circle cx="182.40" cy="397.91" r="1.37" fill="#ff0d0d" />
<circle cx="138.09" cy="427.52" r="2.09" fill="#ff0d0d" />
<circle cx="161.84" cy="369.29" r="1.81" fill="#ff0d0d" />
<circle cx="173.53" cy="385.16" r="1.62" fill="#b00606" />
<circle cx="147.61" cy="375.53" r="1.54" fill="#ff0d0d" />
<circle cx="178.56" cy="373.15" r="1.61" fill="#d00808" />
<circle cx="150.82" cy="374.30" r="1.35" fill="#b00606" />
<circle cx="175.28" cy="384.90" r="1.28" fill="#ff1818" />
<circle cx="161.20" cy="373.95" r="1.73" fill="#d00808" />
<circle cx="176.06" cy="379.51" r="2.02" fill="#f00a0a" />
<circle cx="176.69" cy="391.67" r="2.01" fill="#b00606" />
<circle cx="169.11" cy="421.50" r="1.89" fill="#ff1818" />
<circle cx="138.27" cy="373.45" r="1.92" fill="#d00808" />
<circle cx="154.83" cy="359.07" r="1.52" fill="#b00606" />
<circle cx="128.33" cy="380.72" r="2.07" fill="#d00808" />
<circle cx="146.55" cy="412.63" r="1.71" fill="#b00606" />
<circle cx="130.06" cy="400.66" r="1.65" fill="#f00a0a" />
<circle cx="169.52" cy="421.04" r="2.08" fill="#ff0d0d" />
<circle cx="132.45" cy="367.11" r="1.41" fill="#ff1818" />
<circle cx="150.58" cy="362.36" r="1.38" fill="#ff1818" />
<circle cx="125.88" cy="379.53" r="1.45" fill="#d00808" />
<circle cx="159.96" cy="400.10" r="2.07" fill="#b00606" />
<circle cx="178.69" cy="366.42" r="1.60" fill="#ff0d0d" />
<circle cx="159.92" cy="413.35" r="2.06" fill="#ff1818" />
<circle cx="183.99" cy="371.39" r="1.62" fill="#f00a0a" />
<circle cx="179.28" cy="402.91" r="1.74" fill="#ff1818" />
<circle cx="184.94" cy="392.91" r="1.67" fill="#b00606" />
<circle cx="144.94" cy="401.96" r="1.63" fill="#d00808" />
<circle cx="160.63" cy="381.59" r="1.84" fill="#d00808" />
<circle cx="126.90" cy="421.93" r="1.73" fill="#f00a0a" />
<circle cx="151.04" cy="414.66" r="1.25" fill="#d00808" />
<circle cx="172.50" cy="362.34" r="2.09" fill="#d00808" />
<circle cx="129.85" cy="432.91" r="1.59" fill="#ff1818" />
<circle cx="141.06" cy="420.53" r="1.24" fill="#ff0d0d" />
<circle cx="184.44" cy="417.83" r="1.62" fill="#f00a0a" />
<circle cx="163.35" cy="367.70" r="1.76" fill="#ff1818" />
<circle cx="132.66" cy="429.24" r="1.52" fill="#f00a0a" />
<circle cx="133.06" cy="394.74" r="1.80" fill="#ff1818" />
<circle cx="163.19" cy="410.97" r="1.81" fill="#d00808" />
<circle cx="174.37" cy="401.99" r="2.10" fill="#d00808" />
<circle cx="171.61" cy="377.87" r="1.30" fill="#d00808" />
<circle cx="174.77" cy="409.76" r="1.52" fill="#d00808" />
<circle cx="163.74" cy="418.02" r="1.83" fill="#f00a0a" />
<circle cx="165.21" cy="420.35" r="1.37" fill="#f00a0a" />
<circle cx="156.94" cy="412.07" r="1.38" fill="#ff0d0d" />
<circle cx="164.92" cy="358.98" r="1.43" fill="#ff0d0d" />
<circle cx="164.60" cy="366.65" r="1.69" fill="#ff0d0d" />
<circle cx="172.97" cy="433.51" r="1.34" fill="#f00a0a" />
<circle cx="165.09" cy="388.99" r="1.63" fill="#f00a0a" />
<circle cx="146.58" cy="398.99" r="1.32" fill="#ff0d0d" />
<circle cx="175.90" cy="395.10" r="1.94" fill="#f00a0a" />
<circle cx="153.28" cy="419.85" r="1.55" fill="#f00a0a" />
<circle cx="148.52" cy="412.13" r="2.09" fill="#d00808" />
<circle cx="143.58" cy="420.82" r="1.94" fill="#f00a0a" />
<circle cx="152.23" cy="388.66" r="1.29" fill="#d00808" />
<circle cx="130.16" cy="365.05" r="1.71" fill="#ff1818" />
<circle cx="176.73" cy="396.44" r="1.94" fill="#ff0d0d" />
<circle cx="130.01" cy="375.79" r="1.80" fill="#ff0d0d" />
<circle cx="169.13" cy="399.02" r="1.89" fill="#d00808" />
<circle cx="143.08" cy="369.99" r="1.52" fill="#d00808" />
<circle cx="148.36" cy="367.88" r="1.84" fill="#b00606" />
<circle cx="162.79" cy="432.65" r="1.82" fill="#d00808" />
<circle cx="152.88" cy="424.45" r="1.47" fill="#d00808" />
<circle cx="139.18" cy="438.04" r="1.86" fill="#b00606" />
<circle cx="140.89" cy="388.04" r="1.53" fill="#d00808" />
<circle cx="167.99" cy="406.45" r="1.92" fill="#b00606" />
<circle cx="148.47" cy="390.40" r="1.34" fill="#b00606" />
<circle cx="160.77" cy="372.77" r="1.88" fill="#d00808" />
<circle cx="176.51" cy="376.45" r="1.25" fill="#f00a0a" />
<circle cx="161.06" cy="437.93" r="1.79" fill="#ff1818" />
<circle cx="129.25" cy="403.31" r="1.91" fill="#ff0d0d" />
<circle cx="146.34" cy="380.78" r="1.29" fill="#d00808" />
<circle cx="130.55" cy="410.52" r="1.33" fill="#ff1818" />
<circle cx="140.71" cy="376.39" r="1.89" fill="#b00606" />
<circle cx="146.57" cy="396.07" r="1.52" fill="#d00808" />
<circle cx="167.69" cy="398.93" r="1.68" fill="#ff0d0d" />
<circle cx="169.95" cy="433.69" r="1.57" fill="#d00808" />
<circle cx="179.14" cy="424.69" r="1.95" fill="#ff1818" />
<circle cx="185.73" cy="411.02" r="1.67" fill="#ff0d0d" />
<circle cx="175.90" cy="392.98" r="1.58" fill="#f00a0a" />
<circle cx="140.73" cy="371.59" r="1.77" fill="#f00a0a" />
<circle cx="145.48" cy="390.32" r="1.68" fill="#d00808" />
<circle cx="186.49" cy="363.08" r="1.48" fill="#ff0d0d" />
<circle cx="144.38" cy="371.03" r="2.03" fill="#ff0d0d" />
<circle cx="172.80" cy="359.62" r="1.63" fill="#ff0d0d" />
<circle cx="144.95" cy="374.50" r="1.52" fill="#b00606" />
<circle cx="140.08" cy="417.37" r="1.74" fill="#f00a0a" />
<circle cx="153.13" cy="432.00" r="1.56" fill="#d00808" />
<circle cx="164.81" cy="435.91" r="1.70" fill="#d00808" />
<circle cx="155.84" cy="391.42" r="2.06" fill="#b00606" />
<circle cx="173.97" cy="365.82" r="1.98" fill="#ff1818" />
<circle cx="128.34" cy="436.37" r="1.92" fill="#ff1818" />
<circle cx="186.89" cy="423.76" r="1.90" fill="#ff0d0d" />
<circle cx="166.76" cy="377.80" r="1.21" fill="#ff1818" />
<circle cx="182.41" cy="395.33" r="1.42" fill="#ff1818" />
<circle cx="163.50" cy="371.18" r="1.34" fill="#d00808" />
<circle cx="134.35" cy="433.12" r="1.93" fill="#f00a0a" />
<circle cx="165.46" cy="440.13" r="1.44" fill="#b00606" />
<circle cx="128.55" cy="405.38" r="1.36" fill="#f00a0a" />
<circle cx="177.11" cy="428.01" r="1.94" fill="#ff0d0d" />
<circle cx="147.43" cy="408.93" r="1.68" fill="#ff1818" />
<circle cx="169.04" cy="365.04" r="1.87" fill="#b00606" />
<circle cx="179.38" cy="383.25" r="1.91" fill="#ff1818" />
<circle cx="137.40" cy="414.48" r="1.90" fill="#ff1818" />
<circle cx="138.37" cy="403.03" r="1.67" fill="#f00a0a" />
<circle cx="185.02" cy="437.72" r="1.48" fill="#ff1818" />
<circle cx="130.00" cy="383.42" r="1.62" fill="#ff0d0d" />
<circle cx="147.93" cy="414.89" r="1.30" fill="#ff1818" />
<circle cx="167.91" cy="419.80" r="1.91" fill="#ff0d0d" />
<circle cx="166.53" cy="359.22" r="1.54" fill="#ff1818" />
<circle cx="140.21" cy="404.74" r="1.61" fill="#ff0d0d" />
<circle cx="179.30" cy="427.87" r="1.85" fill="#b00606" />
<circle cx="134.81" cy="409.99" r="2.04" fill="#d00808" />
<circle cx="185.50" cy="420.48" r="1.70" fill="#ff0d0d" />
<circle cx="141.41" cy="374.70" r="1.86" fill="#d00808" />
<circle cx="144.77" cy="380.79" r="1.62" fill="#d00808" />
<circle cx="153.44" cy="389.75" r="1.29" fill="#b00606" />
<circle cx="131.17" cy="414.11" r="1.84" fill="#f00a0a" />
<circle cx="137.41" cy="361.21" r="1.62" fill="#ff0d0d" />
<circle cx="131.55" cy="360.87" r="2.09" fill="#ff1818" />
<circle cx="150.91" cy="364.20" r="2.03" fill="#ff1818" />
<circle cx="183.78" cy="369.67" r="1.38" fill="#f00a0a" />
<circle cx="177.09" cy="390.04" r="1.50" fill="#ff1818" />
<circle cx="164.58" cy="418.17" r="1.75" fill="#d00808" />
<circle cx="187.26" cy="423.35" r="1.79" fill="#b00606" />
<circle cx="158.69" cy="379.71" r="1.37" fill="#d00808" />
<circle cx="166.33" cy="366.97" r="1.54" fill="#b00606" />
<circle cx="146.23" cy="382.41" r="1.29" fill="#f00a0a" />
<circle cx="141.25" cy="402.65" r="1.47" fill="#f00a0a" />
<circle cx="147.48" cy="399.48" r="1.33" fill="#f00a0a" />
<circle cx="187.56" cy="400.77" r="1.84" fill="#f00a0a" />
<circle cx="161.06" cy="360.40" r="1.79" fill="#ff0d0d" />
<circle cx="133.81" cy="397.63" r="1.58" fill="#d00808" />
<circle cx="146.00" cy="434.85" r="1.53" fill="#ff1818" />
<circle cx="181.00" cy="395.51" r="1.86" fill="#f00a0a" />
<circle cx="182.34" cy="403.03" r="1.70" fill="#b00606" />
<circle cx="183.03" cy="372.10" r="1.87" fill="#d00808" />
<circle cx="163.22" cy="368.32" r="1.94" fill="#d00808" />
<circle cx="168.50" cy="388.20" r="1.88" fill="#d00808" />
<circle cx="177.70" cy="373.51" r="1.69" fill="#ff0d0d" />
<circle cx="153.91" cy="391.48" r="1.90" fill="#f00a0a" />
<circle cx="144.64" cy="413.58" r="1.86" fill="#ff1818" />
<circle cx="164.08" cy="411.03" r="1.89" fill="#f00a0a" />
<circle cx="137.81" cy="396.81" r="1.33" fill="#ff1818" />
<circle cx="132.68" cy="391.67" r="1.50" fill="#f00a0a" />
<circle cx="141.86" cy="405.06" r="1.50" fill="#ff0d0d" />
<circle cx="170.81" cy="423.17" r="1.56" fill="#ff1818" />
<circle cx="163.13" cy="396.97" r="1.57" fill="#b00606" />
<circle cx="182.91" cy="404.79" r="1.57" fill="#d00808" />
<circle cx="155.90" cy="440.26" r="1.95" fill="#ff1818" />
<circle cx="177.35" cy="367.88" r="1.30" fill="#b00606" />
<circle cx="146.08" cy="401.16" r="1.58" fill="#ff0d0d" />
<circle cx="145.47" cy="362.71" r="1.85" fill="#ff1818" />
<circle cx="171.46" cy="407.50" r="1.88" fill="#d00808" />
<circle cx="180.98" cy="430.56" r="1.42" fill="#ff1818" />
<circle cx="140.52" cy="430.23" r="2.08" fill="#ff1818" />
<circle cx="169.12" cy="401.61" r="1.42" fill="#d00808" />
<circle cx="166.71" cy="435.77" r="1.99" fill="#d00808" />
<circle cx="179.96" cy="392.97" r="1.92" fill="#f00a0a" />
<circle cx="166.25" cy="392.98" r="1.31" fill="#ff0d0d" />
<circle cx="131.43" cy="423.57" r="1.31" fill="#b00606" />
<circle cx="161.60" cy="395.59" r="1.47" fill="#d00808" />
<circle cx="126.71" cy="372.39" r="1.60" fill="#ff1818" />
<circle cx="176.74" cy="390.97" r="1.52" fill="#b00606" />
<circle cx="139.79" cy="383.46" r="1.61" fill="#d00808" />
<circle cx="144.66" cy="399.32" r="2.04" fill="#ff1818" />
<circle cx="180.74" cy="374.92" r="1.97" fill="#ff0d0d" />
<circle cx="137.56" cy="427.33" r="1.52" fill="#ff1818" />
<circle cx="126.21" cy="410.62" r="1.83" fill="#b00606" />
<circle cx="137.97" cy="410.37" r="1.37" fill="#ff0d0d" />
<circle cx="166.29" cy="383.45" r="1.94" fill="#d00808" />
<circle cx="180.16" cy="417.03" r="1.32" fill="#ff1818" />
<circle cx="151.44" cy="372.17" r="1.98" fill="#ff0d0d" />
<circle cx="170.11" cy="374.41" r="1.36" fill="#f00a0a" />
<circle cx="156.89" cy="382.58" r="1.45" fill="#b00606" />
<circle cx="181.10" cy="406.87" r="1.41" fill="#d00808" />
<circle cx="181.79" cy="373.10" r="1.40" fill="#f00a0a" />
<circle cx="165.64" cy="365.62" r="2.08" fill="#ff1818" />
<circle cx="183.16" cy="364.29" r="2.02" fill="#ff0d0d" />
<circle cx="163.10" cy="381.67" r="1.43" fill="#b00606" />
<circle cx="130.71" cy="381.73" r="1.88" fill="#f00a0a" />
<circle cx="136.53" cy="418.77" r="1.23" fill="#f00a0a" />
<circle cx="187.62" cy="360.97" r="1.62" fill="#b00606" />
<circle cx="149.51" cy="434.86" r="1.65" fill="#f00a0a" />
<circle cx="129.25" cy="422.28" r="2.02" fill="#d00808" />
<circle cx="166.80" cy="422.80" r="1.67" fill="#b00606" />
<circle cx="177.47" cy="410.57" r="2.09" fill="#b00606" />
<circle cx="136.19" cy="422.52" r="1.35" fill="#b00606" />
<circle cx="152.73" cy="413.35" r="1.69" fill="#d00808" />
<circle cx="174.91" cy="423.47" r="1.41" fill="#ff1818" />
<circle cx="159.59" cy="428.54" r="1.74" fill="#d00808" />
<circle cx="127.43" cy="407.44" r="1.84" fill="#b00606" />
<circle cx="153.54" cy="430.85" r="1.49" fill="#b00606" />
<circle cx="126.32" cy="399.13" r="1.59" fill="#ff1818" />
<circle cx="170.90" cy="428.88" r="1.23" fill="#ff0d0d" />
<circle cx="182.54" cy="405.13" r="1.69" fill="#f00a0a" />
<circle cx="164.59" cy="362.65" r="1.58" fill="#d00808" />
<circle cx="177.00" cy="419.12" r="1.90" fill="#b00606" />
<circle cx="156.70" cy="411.83" r="1.66" fill="#ff1818" />
<circle cx="141.31" cy="371.38" r="1.82" fill="#b00606" />
<circle cx="174.92" cy="363.24" r="1.57" fill="#d00808" />
<circle cx="169.35" cy="416.26" r="2.06" fill="#f00a0a" />
<circle cx="156.14" cy="421.00" r="2.09" fill="#f00a0a" />
<circle cx="172.26" cy="401.24" r="2.09" fill="#ff0d0d" />
<circle cx="140.41" cy="431.63" r="1.33" fill="#ff1818" />
<circle cx="160.34" cy="397.13" r="2.04" fill="#ff0d0d" />
<circle cx="168.17" cy="417.35" r="2.08" fill="#b00606" />
<circle cx="139.73" cy="379.09" r="1.70" fill="#f00a0a" />
<circle cx="151.64" cy="365.30" r="1.40" fill="#d00808" />
<circle cx="146.50" cy="439.15" r="1.75" fill="#ff0d0d" />
<circle cx="135.34" cy="406.48" r="2.10" fill="#d00808" />
<circle cx="161.06" cy="433.44" r="2.00" fill="#f00a0a" />
<circle cx="154.44" cy="390.62" r="1.96" fill="#ff1818" />
<circle cx="149.14" cy="362.26" r="1.58" fill="#f00a0a" />
<circle cx="136.80" cy="403.54" r="1.35" fill="#f00a0a" />
<circle cx="150.49" cy="407.20" r="1.88" fill="#ff1818" />
<circle cx="153.46" cy="440.15" r="1.81" fill="#ff1818" />
<circle cx="138.13" cy="389.79" r="1.27" fill="#d00808" />
<circle cx="148.13" cy="380.85" r="1.22" fill="#f00a0a" />
<circle cx="172.07" cy="400.45" r="1.71" fill="#f00a0a" />
<circle cx="142.18" cy="387.99" r="1.34" fill="#d00808" />
<circle cx="133.86" cy="378.07" r="1.96" fill="#ff0d0d" />
<circle cx="126.49" cy="384.77" r="1.55" fill="#ff0d0d" />
<circle cx="179.21" cy="389.66" r="1.43" fill="#b00606" />
<circle cx="167.49" cy="383.13" r="1.75" fill="#ff1818" />
<circle cx="127.78" cy="370.65" r="1.74" fill="#ff0d0d" />
<circle cx="138.38" cy="392.08" r="1.63" fill="#f00a0a" />
<circle cx="157.87" cy="403.42" r="1.48" fill="#ff1818" />
<circle cx="167.30" cy="370.34" r="1.38" fill="#d00808" />
<circle cx="159.01" cy="395.27" r="1.32" fill="#b00606" />
<circle cx="179.93" cy="376.85" r="1.46" fill="#d00808" />
<circle cx="163.83" cy="369.78" r="1.96" fill="#ff1818" />
<circle cx="160.97" cy="424.92" r="2.08" fill="#d00808" />
<circle cx="166.94" cy="363.72" r="1.97" fill="#b00606" />
<circle cx="168.76" cy="413.19" r="2.06" fill="#d00808" />
<circle cx="140.03" cy="410.38" r="1.28" fill="#ff1818" />
<circle cx="132.77" cy="398.87" r="1.64" fill="#d00808" />
<circle cx="143.18" cy="416.23" r="1.40" fill="#ff1818" />
<circle cx="137.96" cy="421.58" r="1.52" fill="#f00a0a" />
<circle cx="158.09" cy="419.48" r="2.02" fill="#f00a0a" />
<circle cx="155.43" cy="379.40" r="1.97" fill="#d00808" />
<circle cx="169.45" cy="360.10" r="1.55" fill="#d00808" />
<circle cx="182.69" cy="433.47" r="1.44" fill="#ff1818" />
<circle cx="156.52" cy="406.54" r="1.62" fill="#d00808" />
<circle cx="181.20" cy="364.16" r="1.23" fill="#d00808" />
<circle cx="181.56" cy="404.87" r="1.44" fill="#f00a0a" />
<circle cx="165.79" cy="389.91" r="1.51" fill="#d00808" />
<circle cx="127.16" cy="416.55" r="1.39" fill="#ff0d0d" />
<circle cx="164.85" cy="409.42" r="1.57" fill="#ff1818" />
<circle cx="129.22" cy="363.84" r="1.62" fill="#ff1818" />
<circle cx="149.33" cy="433.24" r="1.23" fill="#f00a0a" />
<circle cx="168.39" cy="380.71" r="1.65" fill="#ff1818" />
<circle cx="186.95" cy="370.56" r="1.37" fill="#f00a0a" />
<circle cx="141.52" cy="376.35" r="1.67" fill="#b00606" />
<circle cx="187.12" cy="358.49" r="1.69" fill="#b00606" />
<circle cx="130.20" cy="426.14" r="2.00" fill="#d00808" />
<circle cx="141.89" cy="366.77" r="1.22" fill="#f00a0a" />
<circle cx="169.15" cy="414.84" r="2.07" fill="#f00a0a" />
<circle cx="135.28" cy="409.48" r="1.64" fill="#b00606" />
<circle cx="143.76" cy="392.42" r="1.53" fill="#b00606" />
<circle cx="156.70" cy="411.52" r="1.53" fill="#f00a0a" />
<circle cx="183.18" cy="419.05" r="1.99" fill="#ff0d0d" />
<circle cx="176.89" cy="431.26" r="1.48" fill="#ff1818" />
<circle cx="157.58" cy="414.24" r="1.24" fill="#b00606" />
<circle cx="179.95" cy="429.96" r="1.25" fill="#d00808" />
<circle cx="150.31" cy="419.21" r="1.82" fill="#d00808" />
<circle cx="170.45" cy="378.97" r="1.84" fill="#d00808" />
<circle cx="136.80" cy="428.82" r="1.38" fill="#b00606" />
<circle cx="177.56" cy="405.02" r="1.58" fill="#f00a0a" />
<circle cx="164.57" cy="426.76" r="1.92" fill="#f00a0a" />
<circle cx="137.89" cy="409.45" r="1.46" fill="#f00a0a" />
<circle cx="186.74" cy="397.13" r="1.82" fill="#f00a0a" />
<circle cx="142.14" cy="380.57" r="1.43" fill="#ff1818" />
<circle cx="149.64" cy="414.24" r="1.32" fill="#f00a0a" />
<circle cx="170.28" cy="367.97" r="1.24" fill="#d00808" />
<circle cx="147.73" cy="402.62" r="1.92" fill="#ff1818" />
<circle cx="146.06" cy="360.39" r="1.69" fill="#ff1818" />
<circle cx="136.02" cy="363.76" r="1.59" fill="#d00808" />
<circle cx="139.34" cy="417.75" r="1.57" fill="#f00a0a" />
<circle cx="187.20" cy="390.32" r="1.82" fill="#b00606" />
<circle cx="143.07" cy="429.70" r="1.60" fill="#ff0d0d" />
<circle cx="160.35" cy="432.18" r="1.99" fill="#ff1818" />
<circle cx="132.81" cy="384.90" r="1.22" fill="#b00606" />
<circle cx="161.15" cy="380.79" r="1.56" fill="#d00808" />
<circle cx="139.58" cy="397.98" r="1.53" fill="#d00808" />
<circle cx="160.52" cy="370.71" r="1.21" fill="#d00808" />
<circle cx="167.56" cy="358.53" r="1.50" fill="#f00a0a" />
<circle cx="188.22" cy="374.88" r="1.98" fill="#ff1818" />
<circle cx="127.23" cy="387.19" r="1.70" fill="#b00606" />
<circle cx="128.84" cy="403.62" r="1.79" fill="#b00606" />
<circle cx="141.15" cy="373.76" r="1.46" fill="#f00a0a" />
<circle cx="188.04" cy="394.76" r="1.95" fill="#ff0d0d" />
<circle cx="136.31" cy="360.41" r="1.35" fill="#ff0d0d" />
<circle cx="167.85" cy="380.56" r="1.22" fill="#b00606" />
<circle cx="144.79" cy="400.63" r="1.21" fill="#f00a0a" />
<circle cx="129.23" cy="388.27" r="1.89" fill="#d00808" />
<circle cx="176.40" cy="423.56" r="1.86" fill="#ff1818" />
<circle cx="144.66" cy="402.04" r="1.80" fill="#ff0d0d" />
<circle cx="184.36" cy="397.97" r="1.96" fill="#ff1818" />
<circle cx="141.03" cy="433.25" r="1.22" fill="#b00606" />
<circle cx="134.10" cy="384.90" r="1.85" fill="#b00606" />
<circle cx="166.72" cy="425.09" r="1.53" fill="#ff1818" />
<circle cx="147.58" cy="381.24" r="2.01" fill="#d00808" />
<circle cx="162.75" cy="380.03" r="1.39" fill="#f00a0a" />
<circle cx="138.56" cy="419.51" r="1.69" fill="#f00a0a" />
<circle cx="136.40" cy="366.93" r="1.33" fill="#d00808" />
<circle cx="136.72" cy="360.01" r="1.56" fill="#ff0d0d" />
<circle cx="150.69" cy="384.72" r="1.68" fill="#f00a0a" />
<circle cx="126.52" cy="372.60" r="1.26" fill="#b00606" />
<circle cx="132.05" cy="439.67" r="1.59" fill="#f00a0a" />
<circle cx="156.76" cy="422.58" r="2.00" fill="#d00808" />
<circle cx="129.62" cy="390.38" r="2.03" fill="#f00a0a" />
<circle cx="174.35" cy="401.52" r="1.21" fill="#ff1818" />
<circle cx="182.78" cy="362.76" r="1.75" fill="#d00808" />
<circle cx="181.30" cy="428.85" r="1.77" fill="#b00606" />
<circle cx="186.46" cy="434.50" r="1.31" fill="#ff1818" />
<circle cx="152.77" cy="396.75" r="1.95" fill="#b00606" />
<circle cx="139.74" cy="407.75" r="1.72" fill="#b00606" />
<circle cx="183.34" cy="401.78" r="1.61" fill="#d00808" />
<circle cx="162.70" cy="407.25" r="2.04" fill="#f00a0a" />
<circle cx="159.14" cy="385.27" r="1.43" fill="#b00606" />
<circle cx="144.98" cy="418.98" r="2.09" fill="#ff1818" />
<circle cx="128.52" cy="438.07" r="1.88" fill="#ff1818" />
<circle cx="132.22" cy="373.62" r="2.03" fill="#f00a0a" />
<circle cx="177.61" cy="424.01" r="1.66" fill="#d00808" />
<circle cx="129.30" cy="429.98" r="1.84" fill="#d00808" />
<circle cx="157.92" cy="386.97" r="1.39" fill="#ff0d0d" />
<circle cx="179.90" cy="374.37" r="1.45" fill="#f00a0a" />
<circle cx="129.85" cy="403.99" r="1.91" fill="#ff1818" />
<circle cx="180.61" cy="364.15" r="1.65" fill="#ff0d0d" />
<circle cx="173.91" cy="403.52" r="2.02" fill="#f00a0a" />
<circle cx="176.50" cy="372.93" r="1.50" fill="#d00808" />
<circle cx="185.57" cy="376.32" r="1.46" fill="#ff1818" />
<circle cx="136.68" cy="390.26" r="1.96" fill="#b00606" />
<circle cx="154.63" cy="398.56" r="1.28" fill="#f00a0a" />
<circle cx="158.84" cy="384.30" r="2.06" fill="#f00a0a" />
<circle cx="160.59" cy="440.24" r="1.54" fill="#d00808" />
<circle cx="169.43" cy="427.88" r="2.05" fill="#b00606" />
<circle cx="138.38" cy="375.49" r="1.89" fill="#f00a0a" />
<circle cx="169.05" cy="396.68" r="1.32" fill="#ff0d0d" />
<circle cx="141.54" cy="386.58" r="1.76" fill="#d00808" />
<circle cx="137.60" cy="440.27" r="1.82" fill="#d00808" />
<circle cx="180.21" cy="421.71" r="1.38" fill="#ff0d0d" />
<circle cx="165.09" cy="393.24" r="1.94" fill="#ff1818" />
<circle cx="142.85" cy="369.24" r="1.31" fill="#ff0d0d" />
<circle cx="147.09" cy="416.25" r="1.41" fill="#b00606" />
<circle cx="132.63" cy="368.36" r="1.99" fill="#ff0d0d" />
<circle cx="167.97" cy="395.73" r="2.04" fill="#ff1818" />
<circle cx="137.76" cy="392.36" r="1.40" fill="#ff0d0d" />
<circle cx="148.40" cy="385.70" r="1.73" fill="#d00808" />
<circle cx="143.71" cy="415.53" r="1.80" fill="#f00a0a" />
<circle cx="126.16" cy="389.12" r="1.73" fill="#d00808" />
<circle cx="149.73" cy="381.16" r="1.29" fill="#b00606" />
<circle cx="131.80" cy="412.44" r="1.61" fill="#f00a0a" />
<circle cx="130.79" cy="388.20" r="1.54" fill="#b00606" />
<circle cx="167.49" cy="386.57" r="2.01" fill="#ff0d0d" />
<circle cx="167.42" cy="371.05" r="1.27" fill="#f00a0a" />
<circle cx="154.58" cy="384.27" r="1.80" fill="#b00606" />
<circle cx="129.05" cy="376.54" r="1.22" fill="#ff1818" />
<circle cx="152.59" cy="377.17" r="1.69" fill="#ff0d0d" />
<circle cx="188.25" cy="363.69" r="1.62" fill="#ff1818" />
<circle cx="175.14" cy="435.09" r="1.67" fill="#b00606" />
<circle cx="138.44" cy="388.72" r="1.33" fill="#ff1818" />
<circle cx="131.26" cy="423.76" r="1.20" fill="#b00606" />
<circle cx="174.90" cy="432.96" r="1.80" fill="#ff1818" />
<circle cx="174.24" cy="368.07" r="1.62" fill="#ff0d0d" />
<circle cx="148.64" cy="388.41" r="1.95" fill="#ff0d0d" />
<circle cx="132.08" cy="392.27" r="1.70" fill="#ff0d0d" />
<circle cx="174.26" cy="365.98" r="2.10" fill="#b00606" />
<circle cx="133.07" cy="405.05" r="1.32" fill="#ff0d0d" />
<circle cx="157.41" cy="383.65" r="1.52" fill="#f00a0a" />
<circle cx="140.80" cy="392.35" r="1.25" fill="#f00a0a" />
<circle cx="162.42" cy="372.24" r="1.29" fill="#f00a0a" />
<circle cx="178.97" cy="366.81" r="1.97" fill="#f00a0a" />
<circle cx="134.30" cy="404.76" r="1.36" fill="#b00606" />
<circle cx="163.89" cy="429.47" r="2.07" fill="#ff1818" />
<circle cx="177.17" cy="377.08" r="1.92" fill="#ff0d0d" />
<circle cx="171.62" cy="416.99" r="1.34" fill="#b00606" />
<circle cx="164.30" cy="391.61" r="1.64" fill="#b00606" />
<circle cx="165.84" cy="428.13" r="1.24" fill="#ff1818" />
<circle cx="144.13" cy="375.91" r="1.68" fill="#ff1818" />
<circle cx="145.98" cy="398.54" r="1.79" fill="#b00606" />
<circle cx="185.02" cy="405.05" r="1.65" fill="#ff0d0d" />
<circle cx="150.13" cy="382.90" r="1.87" fill="#d00808" />
<circle cx="139.11" cy="365.17" r="1.91" fill="#ff1818" />
<circle cx="147.86" cy="393.72" r="1.61" fill="#ff0d0d" />
<circle cx="144.87" cy="402.01" r="1.35" fill="#ff1818" />
<circle cx="159.80" cy="391.18" r="1.40" fill="#ff0d0d" />
<circle cx="170.27" cy="360.87" r="1.52" fill="#f00a0a" />
<circle cx="158.06" cy="401.67" r="1.86" fill="#d00808" />
<circle cx="150.90" cy="437.92" r="1.21" fill="#b00606" />
<circle cx="147.78" cy="378.52" r="2.07" fill="#d00808" />
<circle cx="178.29" cy="375.51" r="1.89" fill="#ff0d0d" />
<circle cx="145.12" cy="399.25" r="1.66" fill="#d00808" />
<circle cx="128.55" cy="365.86" r="1.43" fill="#d00808" />
<circle cx="176.25" cy="436.06" r="1.78" fill="#d00808" />
<circle cx="150.62" cy="381.78" r="1.81" fill="#ff0d0d" />
<circle cx="150.27" cy="376.79" r="1.43" fill="#ff0d0d" />
<circle cx="145.26" cy="425.80" r="1.91" fill="#d00808" />
<circle cx="128.79" cy="421.20" r="1.24" fill="#b00606" />
<circle cx="130.50" cy="369.63" r="1.51" fill="#ff0d0d" />
<circle cx="164.19" cy="414.54" r="1.39" fill="#b00606" />
<circle cx="125.55" cy="419.00" r="1.58" fill="#ff0d0d" />
<circle cx="136.10" cy="365.09" r="1.82" fill="#f00a0a" />
<circle cx="149.08" cy="395.13" r="1.59" fill="#ff0d0d" />
<circle cx="153.32" cy="432.23" r="1.85" fill="#ff0d0d" />
<circle cx="185.66" cy="387.56" r="1.95" fill="#ff0d0d" />
<circle cx="169.63" cy="390.97" r="1.82" fill="#b00606" />
<circle cx="132.40" cy="429.81" r="1.29" fill="#d00808" />
<circle cx="159.10" cy="427.44" r="1.31" fill="#d00808" />
<circle cx="155.06" cy="360.79" r="1.59" fill="#ff1818" />
<circle cx="137.86" cy="416.19" r="1.64" fill="#ff1818" />
<circle cx="168.78" cy="390.21" r="1.90" fill="#ff0d0d" />
<circle cx="159.93" cy="428.73" r="1.90" fill="#d00808" />
<circle cx="137.97" cy="386.77" r="1.35" fill="#d00808" />
<circle cx="149.03" cy="424.44" r="1.82" fill="#ff1818" />
<circle cx="161.49" cy="427.69" r="1.52" fill="#b00606" />
<circle cx="134.54" cy="416.27" r="1.56" fill="#ff0d0d" />
<circle cx="169.28" cy="377.47" r="1.44" fill="#ff1818" />
<circle cx="161.54" cy="379.41" r="1.26" fill="#d00808" />
<circle cx="149.06" cy="417.31" r="1.59" fill="#b00606" />
<circle cx="129.32" cy="373.03" r="1.57" fill="#b00606" />
<circle cx="154.01" cy="398.36" r="1.41" fill="#b00606" />
<circle cx="131.67" cy="383.49" r="1.96" fill="#ff0d0d" />
<circle cx="187.98" cy="387.24" r="1.34" fill="#ff1818" />
<circle cx="146.25" cy="447.19" r="0.90" fill="#aa0808" />
<circle cx="185.29" cy="463.31" r="0.90" fill="#aa0808" />
<circle cx="176.12" cy="445.77" r="0.90" fill="#aa0808" />
<circle cx="174.75" cy="448.95" r="0.90" fill="#aa0808" />
<circle cx="137.79" cy="457.27" r="0.90" fill="#aa0808" />
</g></g>
<g clip-path="url(#cpf1)"><g filter="url(#bl4)">
<circle cx="228.54" cy="368.86" r="1.48" fill="#e08008" />
<circle cx="247.67" cy="414.34" r="1.28" fill="#ffa020" />
<ellipse cx="242.0" cy="437.8" rx="1.96" ry="1.16" fill="#ffa020" transform="rotate(-30 242.0 437.8)"/>
<ellipse cx="209.2" cy="379.4" rx="1.98" ry="1.17" fill="#d07800" transform="rotate(35 209.2 379.4)"/>
<circle cx="248.85" cy="371.37" r="1.29" fill="#e08008" />
<ellipse cx="224.5" cy="417.9" rx="2.32" ry="1.37" fill="#ffa020" transform="rotate(34 224.5 417.9)"/>
<ellipse cx="231.1" cy="402.6" rx="2.28" ry="1.34" fill="#ffa020" transform="rotate(17 231.1 402.6)"/>
<circle cx="207.89" cy="417.33" r="1.54" fill="#f09010" />
<ellipse cx="198.1" cy="434.4" rx="2.43" ry="1.43" fill="#f09010" transform="rotate(52 198.1 434.4)"/>
<circle cx="249.93" cy="374.82" r="1.28" fill="#ffa020" />
<circle cx="195.14" cy="412.51" r="1.13" fill="#f09010" />
<circle cx="200.11" cy="431.36" r="1.59" fill="#f09010" />
<circle cx="232.78" cy="366.09" r="1.45" fill="#d07800" />
<ellipse cx="245.0" cy="367.3" rx="1.99" ry="1.17" fill="#e08008" transform="rotate(7 245.0 367.3)"/>
<ellipse cx="250.6" cy="404.1" rx="1.98" ry="1.17" fill="#ffa020" transform="rotate(-27 250.6 404.1)"/>
<circle cx="200.60" cy="402.50" r="1.54" fill="#e08008" />
<circle cx="248.34" cy="360.81" r="1.34" fill="#ffa020" />
<ellipse cx="196.7" cy="400.7" rx="2.69" ry="1.58" fill="#f09010" transform="rotate(-24 196.7 400.7)"/>
<circle cx="251.53" cy="392.34" r="1.17" fill="#e08008" />
<ellipse cx="223.1" cy="405.6" rx="2.51" ry="1.48" fill="#f09010" transform="rotate(35 223.1 405.6)"/>
<ellipse cx="250.8" cy="425.9" rx="2.22" ry="1.30" fill="#ffa020" transform="rotate(48 250.8 425.9)"/>
<circle cx="206.13" cy="363.03" r="1.28" fill="#ffa020" />
<ellipse cx="212.8" cy="411.3" rx="2.66" ry="1.57" fill="#d07800" transform="rotate(-30 212.8 411.3)"/>
<circle cx="220.57" cy="421.89" r="1.27" fill="#e08008" />
<ellipse cx="228.6" cy="406.8" rx="2.36" ry="1.39" fill="#f09010" transform="rotate(-24 228.6 406.8)"/>
<circle cx="211.47" cy="417.32" r="1.44" fill="#e08008" />
<ellipse cx="196.2" cy="420.3" rx="2.08" ry="1.22" fill="#e08008" transform="rotate(-43 196.2 420.3)"/>
<circle cx="232.19" cy="364.79" r="1.14" fill="#d07800" />
<ellipse cx="216.9" cy="412.8" rx="2.07" ry="1.22" fill="#e08008" transform="rotate(11 216.9 412.8)"/>
<ellipse cx="236.6" cy="397.3" rx="2.57" ry="1.51" fill="#f09010" transform="rotate(55 236.6 397.3)"/>
<circle cx="217.27" cy="371.88" r="1.13" fill="#e08008" />
<ellipse cx="249.9" cy="433.7" rx="2.16" ry="1.27" fill="#e08008" transform="rotate(53 249.9 433.7)"/>
<ellipse cx="203.1" cy="370.1" rx="2.45" ry="1.44" fill="#d07800" transform="rotate(51 203.1 370.1)"/>
<circle cx="200.32" cy="428.86" r="1.59" fill="#ffa020" />
<circle cx="198.90" cy="384.90" r="1.39" fill="#ffa020" />
<circle cx="224.31" cy="404.62" r="1.48" fill="#ffa020" />
<circle cx="196.36" cy="377.04" r="1.14" fill="#ffa020" />
<circle cx="248.29" cy="413.37" r="1.19" fill="#ffa020" />
<ellipse cx="197.8" cy="397.9" rx="2.63" ry="1.55" fill="#d07800" transform="rotate(-1 197.8 397.9)"/>
<circle cx="193.78" cy="370.99" r="1.33" fill="#f09010" />
<ellipse cx="227.0" cy="402.7" rx="2.11" ry="1.24" fill="#f09010" transform="rotate(-35 227.0 402.7)"/>
<circle cx="192.59" cy="376.78" r="1.50" fill="#d07800" />
<ellipse cx="195.2" cy="361.2" rx="2.16" ry="1.27" fill="#e08008" transform="rotate(-29 195.2 361.2)"/>
<ellipse cx="229.1" cy="388.7" rx="2.27" ry="1.34" fill="#ffa020" transform="rotate(10 229.1 388.7)"/>
<ellipse cx="228.7" cy="393.6" rx="2.37" ry="1.39" fill="#ffa020" transform="rotate(-32 228.7 393.6)"/>
<circle cx="248.39" cy="427.44" r="1.54" fill="#e08008" />
<ellipse cx="225.6" cy="432.8" rx="2.52" ry="1.48" fill="#ffa020" transform="rotate(-41 225.6 432.8)"/>
<ellipse cx="249.1" cy="381.9" rx="1.95" ry="1.15" fill="#f09010" transform="rotate(-0 249.1 381.9)"/>
<circle cx="247.58" cy="400.34" r="1.29" fill="#f09010" />
<ellipse cx="215.8" cy="399.0" rx="2.59" ry="1.52" fill="#d07800" transform="rotate(17 215.8 399.0)"/>
<ellipse cx="195.2" cy="370.6" rx="1.89" ry="1.11" fill="#d07800" transform="rotate(-54 195.2 370.6)"/>
<circle cx="226.92" cy="391.09" r="1.12" fill="#e08008" />
<circle cx="222.09" cy="393.30" r="1.38" fill="#f09010" />
<circle cx="220.77" cy="382.45" r="1.52" fill="#ffa020" />
<circle cx="230.78" cy="414.37" r="1.32" fill="#ffa020" />
<circle cx="247.25" cy="414.01" r="1.50" fill="#ffa020" />
<circle cx="240.20" cy="373.30" r="1.51" fill="#ffa020" />
<circle cx="194.09" cy="423.90" r="1.58" fill="#ffa020" />
<circle cx="230.63" cy="413.23" r="1.30" fill="#f09010" />
<ellipse cx="201.1" cy="380.0" rx="2.11" ry="1.24" fill="#d07800" transform="rotate(23 201.1 380.0)"/>
<circle cx="237.57" cy="438.00" r="1.41" fill="#e08008" />
<circle cx="232.15" cy="394.09" r="1.30" fill="#d07800" />
<ellipse cx="244.6" cy="404.7" rx="2.67" ry="1.57" fill="#d07800" transform="rotate(-55 244.6 404.7)"/>
<circle cx="245.21" cy="399.19" r="1.59" fill="#e08008" />
<circle cx="238.61" cy="414.76" r="1.36" fill="#ffa020" />
<ellipse cx="233.5" cy="361.4" rx="2.10" ry="1.23" fill="#f09010" transform="rotate(49 233.5 361.4)"/>
<circle cx="209.09" cy="435.36" r="1.41" fill="#d07800" />
<ellipse cx="211.7" cy="381.5" rx="2.31" ry="1.36" fill="#d07800" transform="rotate(25 211.7 381.5)"/>
<ellipse cx="194.5" cy="419.7" rx="2.32" ry="1.36" fill="#ffa020" transform="rotate(-31 194.5 419.7)"/>
<ellipse cx="211.3" cy="364.8" rx="1.91" ry="1.13" fill="#ffa020" transform="rotate(43 211.3 364.8)"/>
<circle cx="223.77" cy="376.44" r="1.56" fill="#d07800" />
<circle cx="196.21" cy="393.55" r="1.34" fill="#d07800" />
<circle cx="225.20" cy="410.49" r="1.57" fill="#ffa020" />
<circle cx="216.96" cy="360.18" r="1.14" fill="#e08008" />
<circle cx="194.87" cy="371.23" r="1.38" fill="#ffa020" />
<circle cx="227.01" cy="433.99" r="1.23" fill="#f09010" />
<ellipse cx="219.2" cy="393.8" rx="1.96" ry="1.15" fill="#d07800" transform="rotate(49 219.2 393.8)"/>
<circle cx="224.92" cy="359.37" r="1.33" fill="#d07800" />
<circle cx="252.01" cy="399.06" r="1.49" fill="#e08008" />
<ellipse cx="231.0" cy="413.7" rx="2.39" ry="1.41" fill="#f09010" transform="rotate(-31 231.0 413.7)"/>
<circle cx="226.13" cy="391.41" r="1.29" fill="#d07800" />
<circle cx="229.10" cy="375.84" r="1.22" fill="#d07800" />
<ellipse cx="244.6" cy="433.3" rx="2.41" ry="1.42" fill="#ffa020" transform="rotate(44 244.6 433.3)"/>
<ellipse cx="222.4" cy="392.0" rx="2.21" ry="1.30" fill="#e08008" transform="rotate(25 222.4 392.0)"/>
<circle cx="218.71" cy="388.46" r="1.32" fill="#d07800" />
<circle cx="204.26" cy="361.07" r="1.54" fill="#f09010" />
<circle cx="220.24" cy="429.56" r="1.33" fill="#d07800" />
<circle cx="222.13" cy="423.25" r="1.57" fill="#f09010" />
<circle cx="209.44" cy="417.12" r="1.57" fill="#d07800" />
<circle cx="231.19" cy="377.28" r="1.49" fill="#ffa020" />
<ellipse cx="215.2" cy="426.4" rx="2.16" ry="1.27" fill="#d07800" transform="rotate(-33 215.2 426.4)"/>
<ellipse cx="215.7" cy="438.7" rx="2.04" ry="1.20" fill="#d07800" transform="rotate(39 215.7 438.7)"/>
<circle cx="242.39" cy="390.50" r="1.40" fill="#ffa020" />
<circle cx="226.66" cy="379.33" r="1.45" fill="#d07800" />
<circle cx="251.51" cy="370.12" r="1.49" fill="#ffa020" />
<circle cx="222.40" cy="360.92" r="1.48" fill="#ffa020" />
<circle cx="221.56" cy="372.56" r="1.41" fill="#d07800" />
<ellipse cx="209.0" cy="423.7" rx="2.23" ry="1.31" fill="#e08008" transform="rotate(-4 209.0 423.7)"/>
<ellipse cx="225.3" cy="394.4" rx="1.89" ry="1.11" fill="#ffa020" transform="rotate(-51 225.3 394.4)"/>
<ellipse cx="209.7" cy="414.6" rx="2.46" ry="1.45" fill="#e08008" transform="rotate(-17 209.7 414.6)"/>
<ellipse cx="224.1" cy="361.1" rx="2.19" ry="1.29" fill="#d07800" transform="rotate(45 224.1 361.1)"/>
<circle cx="248.25" cy="379.18" r="1.19" fill="#f09010" />
<circle cx="230.19" cy="361.34" r="1.20" fill="#f09010" />
<ellipse cx="233.7" cy="361.4" rx="2.57" ry="1.51" fill="#ffa020" transform="rotate(24 233.7 361.4)"/>
<circle cx="211.93" cy="429.47" r="1.21" fill="#d07800" />
<circle cx="193.08" cy="432.59" r="1.49" fill="#ffa020" />
<ellipse cx="251.5" cy="377.1" rx="2.06" ry="1.21" fill="#ffa020" transform="rotate(-19 251.5 377.1)"/>
<circle cx="218.20" cy="393.69" r="1.51" fill="#e08008" />
<circle cx="228.22" cy="387.05" r="1.48" fill="#ffa020" />
<circle cx="205.19" cy="388.34" r="1.21" fill="#f09010" />
<ellipse cx="236.8" cy="420.5" rx="2.45" ry="1.44" fill="#f09010" transform="rotate(-18 236.8 420.5)"/>
<circle cx="251.37" cy="407.21" r="1.53" fill="#f09010" />
<ellipse cx="216.8" cy="431.9" rx="2.39" ry="1.41" fill="#ffa020" transform="rotate(21 216.8 431.9)"/>
<ellipse cx="194.7" cy="421.6" rx="2.06" ry="1.21" fill="#f09010" transform="rotate(-30 194.7 421.6)"/>
<circle cx="209.19" cy="380.08" r="1.11" fill="#ffa020" />
<circle cx="201.90" cy="373.05" r="1.18" fill="#f09010" />
<circle cx="222.57" cy="384.15" r="1.54" fill="#d07800" />
<circle cx="221.88" cy="392.25" r="1.30" fill="#ffa020" />
<ellipse cx="223.6" cy="401.8" rx="2.54" ry="1.49" fill="#e08008" transform="rotate(-13 223.6 401.8)"/>
<ellipse cx="230.9" cy="362.3" rx="2.26" ry="1.33" fill="#e08008" transform="rotate(7 230.9 362.3)"/>
<ellipse cx="219.6" cy="388.9" rx="2.67" ry="1.57" fill="#f09010" transform="rotate(46 219.6 388.9)"/>
<ellipse cx="251.8" cy="432.6" rx="2.58" ry="1.52" fill="#f09010" transform="rotate(-20 251.8 432.6)"/>
<circle cx="217.38" cy="403.69" r="1.12" fill="#ffa020" />
<circle cx="251.71" cy="365.24" r="1.60" fill="#f09010" />
<circle cx="240.03" cy="416.39" r="1.48" fill="#d07800" />
<circle cx="248.61" cy="394.04" r="1.48" fill="#f09010" />
<ellipse cx="201.9" cy="396.3" rx="2.64" ry="1.55" fill="#d07800" transform="rotate(5 201.9 396.3)"/>
<ellipse cx="211.9" cy="405.4" rx="2.41" ry="1.42" fill="#f09010" transform="rotate(51 211.9 405.4)"/>
<circle cx="228.18" cy="378.62" r="1.26" fill="#e08008" />
<ellipse cx="225.4" cy="367.3" rx="2.41" ry="1.42" fill="#ffa020" transform="rotate(-33 225.4 367.3)"/>
<circle cx="201.48" cy="386.71" r="1.46" fill="#e08008" />
<circle cx="230.03" cy="418.42" r="1.54" fill="#ffa020" />
<circle cx="246.29" cy="418.56" r="1.26" fill="#f09010" />
<circle cx="248.36" cy="362.70" r="1.38" fill="#d07800" />
<circle cx="231.38" cy="390.21" r="1.42" fill="#d07800" />
<circle cx="250.37" cy="378.39" r="1.24" fill="#e08008" />
<circle cx="195.41" cy="374.12" r="1.22" fill="#ffa020" />
<circle cx="231.92" cy="368.81" r="1.42" fill="#d07800" />
<ellipse cx="210.9" cy="359.8" rx="2.22" ry="1.31" fill="#d07800" transform="rotate(-46 210.9 359.8)"/>
<ellipse cx="213.3" cy="407.9" rx="2.34" ry="1.38" fill="#d07800" transform="rotate(50 213.3 407.9)"/>
<circle cx="202.38" cy="399.22" r="1.35" fill="#e08008" />
<ellipse cx="220.9" cy="362.6" rx="2.33" ry="1.37" fill="#f09010" transform="rotate(-33 220.9 362.6)"/>
<circle cx="217.94" cy="389.26" r="1.18" fill="#ffa020" />
<circle cx="194.54" cy="425.22" r="1.17" fill="#e08008" />
<ellipse cx="246.0" cy="378.5" rx="2.42" ry="1.42" fill="#e08008" transform="rotate(42 246.0 378.5)"/>
<ellipse cx="228.0" cy="432.5" rx="1.90" ry="1.12" fill="#f09010" transform="rotate(-6 228.0 432.5)"/>
<ellipse cx="218.0" cy="365.1" rx="2.31" ry="1.36" fill="#f09010" transform="rotate(-15 218.0 365.1)"/>
<ellipse cx="200.5" cy="404.7" rx="2.30" ry="1.35" fill="#d07800" transform="rotate(59 200.5 404.7)"/>
<circle cx="193.11" cy="423.72" r="1.57" fill="#d07800" />
<ellipse cx="227.2" cy="390.6" rx="2.33" ry="1.37" fill="#e08008" transform="rotate(46 227.2 390.6)"/>
<ellipse cx="247.7" cy="367.8" rx="2.43" ry="1.43" fill="#ffa020" transform="rotate(30 247.7 367.8)"/>
<circle cx="239.16" cy="415.16" r="1.56" fill="#e08008" />
<circle cx="244.09" cy="386.54" r="1.23" fill="#f09010" />
<circle cx="244.13" cy="388.17" r="1.40" fill="#ffa020" />
<ellipse cx="242.5" cy="411.7" rx="2.69" ry="1.58" fill="#e08008" transform="rotate(-49 242.5 411.7)"/>
<ellipse cx="238.7" cy="411.6" rx="2.24" ry="1.32" fill="#ffa020" transform="rotate(-13 238.7 411.6)"/>
<ellipse cx="207.7" cy="412.6" rx="2.60" ry="1.53" fill="#f09010" transform="rotate(23 207.7 412.6)"/>
<circle cx="202.96" cy="427.13" r="1.20" fill="#ffa020" />
<circle cx="198.41" cy="414.21" r="1.41" fill="#ffa020" />
<circle cx="222.28" cy="361.36" r="1.32" fill="#e08008" />
<ellipse cx="202.2" cy="396.2" rx="2.27" ry="1.34" fill="#d07800" transform="rotate(-31 202.2 396.2)"/>
<circle cx="235.46" cy="421.71" r="1.37" fill="#e08008" />
<circle cx="231.32" cy="435.88" r="1.16" fill="#e08008" />
<circle cx="217.09" cy="426.77" r="1.37" fill="#e08008" />
<circle cx="232.48" cy="436.64" r="1.13" fill="#f09010" />
<circle cx="199.87" cy="413.31" r="1.23" fill="#ffa020" />
<circle cx="243.54" cy="388.97" r="1.16" fill="#f09010" />
<circle cx="197.54" cy="406.10" r="1.53" fill="#e08008" />
<circle cx="199.20" cy="407.47" r="1.51" fill="#ffa020" />
<circle cx="214.11" cy="411.18" r="1.29" fill="#d07800" />
<ellipse cx="226.8" cy="428.2" rx="2.45" ry="1.44" fill="#ffa020" transform="rotate(16 226.8 428.2)"/>
<circle cx="219.93" cy="360.06" r="1.34" fill="#ffa020" />
<ellipse cx="246.8" cy="371.7" rx="2.10" ry="1.23" fill="#e08008" transform="rotate(-48 246.8 371.7)"/>
<circle cx="249.80" cy="417.51" r="1.14" fill="#d07800" />
<circle cx="215.43" cy="432.85" r="1.34" fill="#d07800" />
<circle cx="243.46" cy="440.18" r="1.07" fill="#e8a040" />
<circle cx="215.74" cy="440.18" r="1.41" fill="#ff9a10" />
<circle cx="218.44" cy="443.11" r="1.06" fill="#ff9a10" />
<circle cx="237.90" cy="442.37" r="1.18" fill="#f0b050" />
<circle cx="214.77" cy="445.17" r="1.44" fill="#ff9a10" />
<circle cx="245.35" cy="442.60" r="1.08" fill="#ff9a10" />
<circle cx="198.30" cy="444.96" r="1.44" fill="#e8a040" />
<circle cx="232.51" cy="440.98" r="1.27" fill="#e8a040" />
<circle cx="251.15" cy="441.39" r="1.03" fill="#e8a040" />
<circle cx="200.16" cy="444.38" r="1.07" fill="#ff9a10" />
<circle cx="250.83" cy="441.69" r="1.24" fill="#ff9a10" />
<circle cx="241.86" cy="445.17" r="1.11" fill="#f0b050" />
<circle cx="209.74" cy="445.20" r="1.13" fill="#e8a040" />
<circle cx="249.73" cy="442.22" r="1.09" fill="#f0b050" />
<circle cx="229.04" cy="441.62" r="1.43" fill="#ff9a10" />
<circle cx="241.13" cy="441.13" r="1.51" fill="#e8a040" />
<circle cx="249.26" cy="444.89" r="1.15" fill="#e8a040" />
<circle cx="222.88" cy="444.95" r="1.36" fill="#f0b050" />
<circle cx="237.64" cy="441.72" r="1.25" fill="#e8a040" />
<circle cx="248.46" cy="441.04" r="1.04" fill="#e8a040" />
<circle cx="197.22" cy="440.72" r="1.50" fill="#f0b050" />
<circle cx="242.94" cy="442.62" r="1.12" fill="#ff9a10" />
<circle cx="202.12" cy="445.55" r="1.36" fill="#ff9a10" />
<circle cx="196.87" cy="442.73" r="1.31" fill="#e8a040" />
<circle cx="239.71" cy="444.39" r="1.26" fill="#ff9a10" />
<circle cx="230.88" cy="441.95" r="1.25" fill="#f0b050" />
<circle cx="198.91" cy="441.20" r="1.28" fill="#e8a040" />
<circle cx="242.97" cy="444.50" r="1.41" fill="#f0b050" />
<circle cx="214.91" cy="443.56" r="1.15" fill="#f0b050" />
<circle cx="226.04" cy="445.52" r="1.10" fill="#f0b050" />
<circle cx="227.43" cy="443.52" r="1.42" fill="#e8a040" />
<circle cx="223.73" cy="443.48" r="1.32" fill="#f0b050" />
<circle cx="205.16" cy="444.97" r="1.21" fill="#f0b050" />
<circle cx="248.80" cy="444.50" r="1.56" fill="#f0b050" />
<circle cx="210.00" cy="442.58" r="1.13" fill="#e8a040" />
<circle cx="240.28" cy="441.66" r="1.11" fill="#ff9a10" />
<circle cx="216.94" cy="440.20" r="1.45" fill="#e8a040" />
<circle cx="192.32" cy="442.42" r="1.36" fill="#f0b050" />
<circle cx="210.80" cy="442.80" r="1.26" fill="#f0b050" />
<circle cx="250.61" cy="441.86" r="1.55" fill="#e8a040" />
<circle cx="226.38" cy="440.46" r="1.48" fill="#ff9a10" />
<circle cx="202.13" cy="443.64" r="1.30" fill="#ff9a10" />
<circle cx="216.40" cy="440.64" r="1.60" fill="#e8a040" />
<circle cx="209.43" cy="441.47" r="1.05" fill="#f0b050" />
<circle cx="230.73" cy="442.54" r="1.47" fill="#e8a040" />
<circle cx="198.68" cy="442.81" r="1.52" fill="#e8a040" />
<circle cx="236.77" cy="445.07" r="1.36" fill="#f0b050" />
<circle cx="197.03" cy="440.57" r="1.03" fill="#ff9a10" />
<circle cx="250.00" cy="444.37" r="1.07" fill="#ff9a10" />
<circle cx="219.74" cy="443.09" r="1.17" fill="#e8a040" />
<circle cx="211.60" cy="444.77" r="1.48" fill="#ff9a10" />
<circle cx="221.39" cy="441.97" r="1.54" fill="#ff9a10" />
<circle cx="195.62" cy="441.30" r="1.46" fill="#e8a040" />
<circle cx="237.60" cy="440.79" r="1.20" fill="#e8a040" />
<circle cx="203.78" cy="442.47" r="1.15" fill="#e8a040" />
<circle cx="219.77" cy="442.99" r="1.36" fill="#e8a040" />
<circle cx="223.85" cy="443.19" r="1.00" fill="#ff9a10" />
<circle cx="242.28" cy="441.98" r="1.10" fill="#e8a040" />
<circle cx="250.90" cy="440.77" r="1.45" fill="#f0b050" />
<circle cx="248.48" cy="440.95" r="1.07" fill="#ff9a10" />
<circle cx="217.44" cy="445.17" r="1.05" fill="#ff9a10" />
<circle cx="220.25" cy="440.46" r="1.21" fill="#ff9a10" />
<circle cx="208.74" cy="444.78" r="1.32" fill="#f0b050" />
<circle cx="218.02" cy="442.44" r="1.28" fill="#f0b050" />
<circle cx="239.74" cy="442.73" r="1.57" fill="#f0b050" />
<circle cx="250.57" cy="443.89" r="1.09" fill="#e8a040" />
<circle cx="214.97" cy="441.86" r="1.02" fill="#ff9a10" />
<circle cx="245.90" cy="443.71" r="1.13" fill="#f0b050" />
<circle cx="193.24" cy="441.60" r="1.22" fill="#f0b050" />
<circle cx="239.23" cy="440.05" r="1.41" fill="#e8a040" />
</g></g>
<g clip-path="url(#cpf2)"><g filter="url(#bl4)">
<circle cx="278.60" cy="361.00" r="1.80" fill="#ff33ff" />
<circle cx="290.20" cy="364.40" r="1.80" fill="#ff33ff" />
<circle cx="309.50" cy="379.40" r="1.80" fill="#ff33ff" />
<circle cx="261.30" cy="397.00" r="1.80" fill="#ff33ff" />
<circle cx="285.00" cy="399.60" r="1.80" fill="#ff33ff" />
<circle cx="310.60" cy="412.80" r="1.80" fill="#aa22aa" />
<circle cx="261.30" cy="418.60" r="1.80" fill="#992299" />
<circle cx="287.30" cy="418.30" r="1.80" fill="#992299" />
<circle cx="276.60" cy="422.00" r="1.80" fill="#882288" />
<circle cx="300.00" cy="372.00" r="1.80" fill="#551155" />
<circle cx="268.00" cy="385.00" r="1.80" fill="#441144" />
<circle cx="262.80" cy="442.54" r="1.70" fill="#ff33ff" />
<circle cx="271.40" cy="441.82" r="1.70" fill="#ff33ff" />
<circle cx="282.40" cy="441.57" r="1.70" fill="#ff33ff" />
<circle cx="288.10" cy="441.25" r="1.70" fill="#ff33ff" />
<circle cx="293.00" cy="443.88" r="1.70" fill="#ff33ff" />
<circle cx="298.80" cy="442.01" r="1.70" fill="#ff33ff" />
<circle cx="304.60" cy="443.73" r="1.70" fill="#ff33ff" />
<circle cx="310.50" cy="443.97" r="1.70" fill="#ff33ff" />
<circle cx="276.00" cy="441.49" r="1.70" fill="#ff33ff" />
</g></g>
<line x1="6.00" y1="443.30" x2="123.60" y2="443.30" stroke="#dcdcdc" stroke-width="0.8" stroke-dasharray="2.8,1.4"/>
<line x1="6.00" y1="445.50" x2="123.60" y2="445.50" stroke="#e8e8e8" stroke-width="0.8" stroke-dasharray="2.8,1.4"/>
<line x1="125.20" y1="443.30" x2="188.40" y2="443.30" stroke="#dcdcdc" stroke-width="0.8" stroke-dasharray="2.8,1.4"/>
<line x1="125.20" y1="445.50" x2="188.40" y2="445.50" stroke="#e8e8e8" stroke-width="0.8" stroke-dasharray="2.8,1.4"/>
<line x1="190.40" y1="443.30" x2="253.30" y2="443.30" stroke="#dcdcdc" stroke-width="0.8" stroke-dasharray="2.8,1.4"/>
<line x1="190.40" y1="445.50" x2="253.30" y2="445.50" stroke="#e8e8e8" stroke-width="0.8" stroke-dasharray="2.8,1.4"/>
<line x1="255.00" y1="443.30" x2="317.60" y2="443.30" stroke="#dcdcdc" stroke-width="0.8" stroke-dasharray="2.8,1.4"/>
<line x1="255.00" y1="445.50" x2="317.60" y2="445.50" stroke="#e8e8e8" stroke-width="0.8" stroke-dasharray="2.8,1.4"/>
<text x="9.40" y="409.80" font-size="9.4" text-anchor="start" fill="#ffffff" >Sm<tspan font-size="5.8" dy="2.2">2</tspan><tspan font-size="9.4" dy="-2.2">O</tspan><tspan font-size="5.8" dy="2.2">2</tspan><tspan font-size="9.4" dy="-2.2">SO</tspan><tspan font-size="5.8" dy="2.2">4</tspan></text>
<line x1="12.60" y1="445.60" x2="12.60" y2="452.00" stroke="#ffffff" stroke-width="0.8" /><polygon points="12.60,454.00 11.00,451.20 14.20,451.20" fill="#ffffff" />
<text x="9.40" y="460.60" font-size="8.8" text-anchor="start" fill="#ffffff" >MoS<tspan font-size="5.8" dy="2.2">2</tspan></text>
<text x="9.40" y="475.00" font-size="8.8" text-anchor="start" fill="#ffffff" >SiO<tspan font-size="5.8" dy="2.2">2</tspan></text>
<rect x="90.40" y="479.60" width="26.40" height="2.80" fill="#ffffff" />
<text x="157.60" y="475.60" font-size="9.4" text-anchor="middle" fill="#ffffff" >Sm</text>
<text x="221.00" y="475.00" font-size="9.4" text-anchor="middle" fill="#ffffff" >O</text>
<text x="288.10" y="475.00" font-size="9.4" text-anchor="middle" fill="#ffffff" >Mo</text>
<text x="322.80" y="364.20" font-size="14.5" text-anchor="start" fill="#000" >g</text>
<defs><filter id="blg"><feGaussianBlur stdDeviation="0.75"/></filter><clipPath id="cpg"><rect x="332.8" y="357.2" width="137.0" height="131.2"/></clipPath></defs>
<rect x="332.80" y="357.20" width="137.00" height="92.60" fill="#505050" />
<rect x="332.80" y="449.80" width="137.00" height="38.60" fill="#0e0e0e" />
<g clip-path="url(#cpg)">
<g filter="url(#blg)">
<ellipse cx="335.45" cy="361.20" rx="1.5" ry="1.85" fill="rgb(234,234,234)"/>
<ellipse cx="338.24" cy="363.90" rx="1.5" ry="1.85" fill="rgb(201,201,201)"/>
<circle cx="336.70" cy="367.00" r="1.00" fill="#747474" />
<circle cx="339.40" cy="367.70" r="1.00" fill="#727272" />
<ellipse cx="340.54" cy="361.20" rx="1.5" ry="1.85" fill="rgb(236,236,236)"/>
<ellipse cx="343.56" cy="363.90" rx="1.5" ry="1.85" fill="rgb(218,218,218)"/>
<circle cx="342.22" cy="367.00" r="1.00" fill="#747474" />
<circle cx="344.92" cy="367.70" r="1.00" fill="#727272" />
<ellipse cx="346.07" cy="361.20" rx="1.5" ry="1.85" fill="rgb(210,210,210)"/>
<ellipse cx="348.89" cy="363.90" rx="1.5" ry="1.85" fill="rgb(226,226,226)"/>
<circle cx="347.74" cy="367.00" r="1.00" fill="#747474" />
<circle cx="350.44" cy="367.70" r="1.00" fill="#727272" />
<ellipse cx="352.08" cy="361.20" rx="1.5" ry="1.85" fill="rgb(218,218,218)"/>
<ellipse cx="354.55" cy="363.90" rx="1.5" ry="1.85" fill="rgb(215,215,215)"/>
<circle cx="353.26" cy="367.00" r="1.00" fill="#747474" />
<circle cx="355.96" cy="367.70" r="1.00" fill="#727272" />
<ellipse cx="357.23" cy="361.20" rx="1.5" ry="1.85" fill="rgb(201,201,201)"/>
<ellipse cx="360.28" cy="363.90" rx="1.5" ry="1.85" fill="rgb(221,221,221)"/>
<circle cx="358.78" cy="367.00" r="1.00" fill="#747474" />
<circle cx="361.48" cy="367.70" r="1.00" fill="#727272" />
<ellipse cx="362.71" cy="361.20" rx="1.5" ry="1.85" fill="rgb(221,221,221)"/>
<ellipse cx="365.88" cy="363.90" rx="1.5" ry="1.85" fill="rgb(202,202,202)"/>
<circle cx="364.30" cy="367.00" r="1.00" fill="#747474" />
<circle cx="367.00" cy="367.70" r="1.00" fill="#727272" />
<ellipse cx="368.58" cy="361.20" rx="1.5" ry="1.85" fill="rgb(219,219,219)"/>
<ellipse cx="370.92" cy="363.90" rx="1.5" ry="1.85" fill="rgb(195,195,195)"/>
<circle cx="369.82" cy="367.00" r="1.00" fill="#747474" />
<circle cx="372.52" cy="367.70" r="1.00" fill="#727272" />
<ellipse cx="373.91" cy="361.20" rx="1.5" ry="1.85" fill="rgb(234,234,234)"/>
<ellipse cx="376.48" cy="363.90" rx="1.5" ry="1.85" fill="rgb(224,224,224)"/>
<circle cx="375.34" cy="367.00" r="1.00" fill="#747474" />
<circle cx="378.04" cy="367.70" r="1.00" fill="#727272" />
<ellipse cx="379.62" cy="361.20" rx="1.5" ry="1.85" fill="rgb(195,195,195)"/>
<ellipse cx="382.50" cy="363.90" rx="1.5" ry="1.85" fill="rgb(198,198,198)"/>
<circle cx="380.86" cy="367.00" r="1.00" fill="#747474" />
<circle cx="383.56" cy="367.70" r="1.00" fill="#727272" />
<ellipse cx="384.85" cy="361.20" rx="1.5" ry="1.85" fill="rgb(205,205,205)"/>
<ellipse cx="388.02" cy="363.90" rx="1.5" ry="1.85" fill="rgb(195,195,195)"/>
<circle cx="386.38" cy="367.00" r="1.00" fill="#747474" />
<circle cx="389.08" cy="367.70" r="1.00" fill="#727272" />
<ellipse cx="390.58" cy="361.20" rx="1.5" ry="1.85" fill="rgb(229,229,229)"/>
<ellipse cx="393.07" cy="363.90" rx="1.5" ry="1.85" fill="rgb(228,228,228)"/>
<circle cx="391.90" cy="367.00" r="1.00" fill="#747474" />
<circle cx="394.60" cy="367.70" r="1.00" fill="#727272" />
<ellipse cx="396.30" cy="361.20" rx="1.5" ry="1.85" fill="rgb(239,239,239)"/>
<ellipse cx="399.02" cy="363.90" rx="1.5" ry="1.85" fill="rgb(197,197,197)"/>
<circle cx="397.42" cy="367.00" r="1.00" fill="#747474" />
<circle cx="400.12" cy="367.70" r="1.00" fill="#727272" />
<ellipse cx="401.46" cy="361.20" rx="1.5" ry="1.85" fill="rgb(214,214,214)"/>
<ellipse cx="404.10" cy="363.90" rx="1.5" ry="1.85" fill="rgb(186,186,186)"/>
<circle cx="402.94" cy="367.00" r="1.00" fill="#747474" />
<circle cx="405.64" cy="367.70" r="1.00" fill="#727272" />
<ellipse cx="406.80" cy="361.20" rx="1.5" ry="1.85" fill="rgb(204,204,204)"/>
<ellipse cx="409.70" cy="363.90" rx="1.5" ry="1.85" fill="rgb(201,201,201)"/>
<circle cx="408.46" cy="367.00" r="1.00" fill="#747474" />
<circle cx="411.16" cy="367.70" r="1.00" fill="#727272" />
<ellipse cx="412.28" cy="361.20" rx="1.5" ry="1.85" fill="rgb(233,233,233)"/>
<ellipse cx="415.45" cy="363.90" rx="1.5" ry="1.85" fill="rgb(222,222,222)"/>
<circle cx="413.98" cy="367.00" r="1.00" fill="#747474" />
<circle cx="416.68" cy="367.70" r="1.00" fill="#727272" />
<ellipse cx="417.99" cy="361.20" rx="1.5" ry="1.85" fill="rgb(216,216,216)"/>
<ellipse cx="421.05" cy="363.90" rx="1.5" ry="1.85" fill="rgb(189,189,189)"/>
<circle cx="419.50" cy="367.00" r="1.00" fill="#747474" />
<circle cx="422.20" cy="367.70" r="1.00" fill="#727272" />
<ellipse cx="423.51" cy="361.20" rx="1.5" ry="1.85" fill="rgb(225,225,225)"/>
<ellipse cx="426.37" cy="363.90" rx="1.5" ry="1.85" fill="rgb(229,229,229)"/>
<circle cx="425.02" cy="367.00" r="1.00" fill="#747474" />
<circle cx="427.72" cy="367.70" r="1.00" fill="#727272" />
<ellipse cx="428.87" cy="361.20" rx="1.5" ry="1.85" fill="rgb(240,240,240)"/>
<ellipse cx="432.19" cy="363.90" rx="1.5" ry="1.85" fill="rgb(196,196,196)"/>
<circle cx="430.54" cy="367.00" r="1.00" fill="#747474" />
<circle cx="433.24" cy="367.70" r="1.00" fill="#727272" />
<ellipse cx="434.87" cy="361.20" rx="1.5" ry="1.85" fill="rgb(196,196,196)"/>
<ellipse cx="437.13" cy="363.90" rx="1.5" ry="1.85" fill="rgb(207,207,207)"/>
<circle cx="436.06" cy="367.00" r="1.00" fill="#747474" />
<circle cx="438.76" cy="367.70" r="1.00" fill="#727272" />
<ellipse cx="440.11" cy="361.20" rx="1.5" ry="1.85" fill="rgb(221,221,221)"/>
<ellipse cx="443.14" cy="363.90" rx="1.5" ry="1.85" fill="rgb(208,208,208)"/>
<circle cx="441.58" cy="367.00" r="1.00" fill="#747474" />
<circle cx="444.28" cy="367.70" r="1.00" fill="#727272" />
<ellipse cx="445.82" cy="361.20" rx="1.5" ry="1.85" fill="rgb(223,223,223)"/>
<ellipse cx="448.53" cy="363.90" rx="1.5" ry="1.85" fill="rgb(187,187,187)"/>
<circle cx="447.10" cy="367.00" r="1.00" fill="#747474" />
<circle cx="449.80" cy="367.70" r="1.00" fill="#727272" />
<ellipse cx="451.37" cy="361.20" rx="1.5" ry="1.85" fill="rgb(207,207,207)"/>
<ellipse cx="454.24" cy="363.90" rx="1.5" ry="1.85" fill="rgb(192,192,192)"/>
<circle cx="452.62" cy="367.00" r="1.00" fill="#747474" />
<circle cx="455.32" cy="367.70" r="1.00" fill="#727272" />
<ellipse cx="456.75" cy="361.20" rx="1.5" ry="1.85" fill="rgb(224,224,224)"/>
<ellipse cx="459.74" cy="363.90" rx="1.5" ry="1.85" fill="rgb(207,207,207)"/>
<circle cx="458.14" cy="367.00" r="1.00" fill="#747474" />
<circle cx="460.84" cy="367.70" r="1.00" fill="#727272" />
<ellipse cx="462.02" cy="361.20" rx="1.5" ry="1.85" fill="rgb(211,211,211)"/>
<ellipse cx="465.17" cy="363.90" rx="1.5" ry="1.85" fill="rgb(214,214,214)"/>
<circle cx="463.66" cy="367.00" r="1.00" fill="#747474" />
<circle cx="466.36" cy="367.70" r="1.00" fill="#727272" />
<ellipse cx="467.50" cy="361.20" rx="1.5" ry="1.85" fill="rgb(218,218,218)"/>
<ellipse cx="470.81" cy="363.90" rx="1.5" ry="1.85" fill="rgb(203,203,203)"/>
<circle cx="469.18" cy="367.00" r="1.00" fill="#747474" />
<circle cx="471.88" cy="367.70" r="1.00" fill="#727272" />
<ellipse cx="336.40" cy="370.05" rx="1.5" ry="1.85" fill="rgb(200,200,200)"/>
<ellipse cx="339.33" cy="372.75" rx="1.5" ry="1.85" fill="rgb(198,198,198)"/>
<circle cx="337.90" cy="375.85" r="1.00" fill="#747474" />
<circle cx="340.60" cy="376.55" r="1.00" fill="#727272" />
<ellipse cx="341.89" cy="370.05" rx="1.5" ry="1.85" fill="rgb(204,204,204)"/>
<ellipse cx="344.90" cy="372.75" rx="1.5" ry="1.85" fill="rgb(206,206,206)"/>
<circle cx="343.42" cy="375.85" r="1.00" fill="#747474" />
<circle cx="346.12" cy="376.55" r="1.00" fill="#727272" />
<ellipse cx="347.65" cy="370.05" rx="1.5" ry="1.85" fill="rgb(200,200,200)"/>
<ellipse cx="350.18" cy="372.75" rx="1.5" ry="1.85" fill="rgb(204,204,204)"/>
<circle cx="348.94" cy="375.85" r="1.00" fill="#747474" />
<circle cx="351.64" cy="376.55" r="1.00" fill="#727272" />
<ellipse cx="352.85" cy="370.05" rx="1.5" ry="1.85" fill="rgb(200,200,200)"/>
<ellipse cx="355.93" cy="372.75" rx="1.5" ry="1.85" fill="rgb(225,225,225)"/>
<circle cx="354.46" cy="375.85" r="1.00" fill="#747474" />
<circle cx="357.16" cy="376.55" r="1.00" fill="#727272" />
<ellipse cx="358.71" cy="370.05" rx="1.5" ry="1.85" fill="rgb(225,225,225)"/>
<ellipse cx="361.09" cy="372.75" rx="1.5" ry="1.85" fill="rgb(195,195,195)"/>
<circle cx="359.98" cy="375.85" r="1.00" fill="#747474" />
<circle cx="362.68" cy="376.55" r="1.00" fill="#727272" />
<ellipse cx="364.35" cy="370.05" rx="1.5" ry="1.85" fill="rgb(233,233,233)"/>
<ellipse cx="366.58" cy="372.75" rx="1.5" ry="1.85" fill="rgb(219,219,219)"/>
<circle cx="365.50" cy="375.85" r="1.00" fill="#747474" />
<circle cx="368.20" cy="376.55" r="1.00" fill="#727272" />
<ellipse cx="369.82" cy="370.05" rx="1.5" ry="1.85" fill="rgb(233,233,233)"/>
<ellipse cx="372.35" cy="372.75" rx="1.5" ry="1.85" fill="rgb(207,207,207)"/>
<circle cx="371.02" cy="375.85" r="1.00" fill="#747474" />
<circle cx="373.72" cy="376.55" r="1.00" fill="#727272" />
<ellipse cx="374.87" cy="370.05" rx="1.5" ry="1.85" fill="rgb(221,221,221)"/>
<ellipse cx="378.15" cy="372.75" rx="1.5" ry="1.85" fill="rgb(194,194,194)"/>
<circle cx="376.54" cy="375.85" r="1.00" fill="#747474" />
<circle cx="379.24" cy="376.55" r="1.00" fill="#727272" />
<ellipse cx="380.56" cy="370.05" rx="1.5" ry="1.85" fill="rgb(197,197,197)"/>
<ellipse cx="383.24" cy="372.75" rx="1.5" ry="1.85" fill="rgb(216,216,216)"/>
<circle cx="382.06" cy="375.85" r="1.00" fill="#747474" />
<circle cx="384.76" cy="376.55" r="1.00" fill="#727272" />
<ellipse cx="386.26" cy="370.05" rx="1.5" ry="1.85" fill="rgb(231,231,231)"/>
<ellipse cx="389.11" cy="372.75" rx="1.5" ry="1.85" fill="rgb(193,193,193)"/>
<circle cx="387.58" cy="375.85" r="1.00" fill="#747474" />
<circle cx="390.28" cy="376.55" r="1.00" fill="#727272" />
<ellipse cx="391.66" cy="370.05" rx="1.5" ry="1.85" fill="rgb(201,201,201)"/>
<ellipse cx="394.25" cy="372.75" rx="1.5" ry="1.85" fill="rgb(195,195,195)"/>
<circle cx="393.10" cy="375.85" r="1.00" fill="#747474" />
<circle cx="395.80" cy="376.55" r="1.00" fill="#727272" />
<ellipse cx="397.00" cy="370.05" rx="1.5" ry="1.85" fill="rgb(221,221,221)"/>
<ellipse cx="400.23" cy="372.75" rx="1.5" ry="1.85" fill="rgb(203,203,203)"/>
<circle cx="398.62" cy="375.85" r="1.00" fill="#747474" />
<circle cx="401.32" cy="376.55" r="1.00" fill="#727272" />
<ellipse cx="403.03" cy="370.05" rx="1.5" ry="1.85" fill="rgb(234,234,234)"/>
<ellipse cx="405.47" cy="372.75" rx="1.5" ry="1.85" fill="rgb(195,195,195)"/>
<circle cx="404.14" cy="375.85" r="1.00" fill="#747474" />
<circle cx="406.84" cy="376.55" r="1.00" fill="#727272" />
<ellipse cx="408.40" cy="370.05" rx="1.5" ry="1.85" fill="rgb(226,226,226)"/>
<ellipse cx="411.01" cy="372.75" rx="1.5" ry="1.85" fill="rgb(229,229,229)"/>
<circle cx="409.66" cy="375.85" r="1.00" fill="#747474" />
<circle cx="412.36" cy="376.55" r="1.00" fill="#727272" />
<ellipse cx="413.72" cy="370.05" rx="1.5" ry="1.85" fill="rgb(213,213,213)"/>
<ellipse cx="416.33" cy="372.75" rx="1.5" ry="1.85" fill="rgb(215,215,215)"/>
<circle cx="415.18" cy="375.85" r="1.00" fill="#747474" />
<circle cx="417.88" cy="376.55" r="1.00" fill="#727272" />
<ellipse cx="419.58" cy="370.05" rx="1.5" ry="1.85" fill="rgb(219,219,219)"/>
<ellipse cx="422.14" cy="372.75" rx="1.5" ry="1.85" fill="rgb(219,219,219)"/>
<circle cx="420.70" cy="375.85" r="1.00" fill="#747474" />
<circle cx="423.40" cy="376.55" r="1.00" fill="#727272" />
<ellipse cx="424.63" cy="370.05" rx="1.5" ry="1.85" fill="rgb(226,226,226)"/>
<ellipse cx="427.58" cy="372.75" rx="1.5" ry="1.85" fill="rgb(206,206,206)"/>
<circle cx="426.22" cy="375.85" r="1.00" fill="#747474" />
<circle cx="428.92" cy="376.55" r="1.00" fill="#727272" />
<ellipse cx="430.56" cy="370.05" rx="1.5" ry="1.85" fill="rgb(227,227,227)"/>
<ellipse cx="433.02" cy="372.75" rx="1.5" ry="1.85" fill="rgb(220,220,220)"/>
<circle cx="431.74" cy="375.85" r="1.00" fill="#747474" />
<circle cx="434.44" cy="376.55" r="1.00" fill="#727272" />
<ellipse cx="435.91" cy="370.05" rx="1.5" ry="1.85" fill="rgb(217,217,217)"/>
<ellipse cx="438.34" cy="372.75" rx="1.5" ry="1.85" fill="rgb(229,229,229)"/>
<circle cx="437.26" cy="375.85" r="1.00" fill="#747474" />
<circle cx="439.96" cy="376.55" r="1.00" fill="#727272" />
<ellipse cx="441.42" cy="370.05" rx="1.5" ry="1.85" fill="rgb(214,214,214)"/>
<ellipse cx="444.24" cy="372.75" rx="1.5" ry="1.85" fill="rgb(208,208,208)"/>
<circle cx="442.78" cy="375.85" r="1.00" fill="#747474" />
<circle cx="445.48" cy="376.55" r="1.00" fill="#727272" />
<ellipse cx="447.06" cy="370.05" rx="1.5" ry="1.85" fill="rgb(226,226,226)"/>
<ellipse cx="449.77" cy="372.75" rx="1.5" ry="1.85" fill="rgb(201,201,201)"/>
<circle cx="448.30" cy="375.85" r="1.00" fill="#747474" />
<circle cx="451.00" cy="376.55" r="1.00" fill="#727272" />
<ellipse cx="452.51" cy="370.05" rx="1.5" ry="1.85" fill="rgb(213,213,213)"/>
<ellipse cx="455.23" cy="372.75" rx="1.5" ry="1.85" fill="rgb(206,206,206)"/>
<circle cx="453.82" cy="375.85" r="1.00" fill="#747474" />
<circle cx="456.52" cy="376.55" r="1.00" fill="#727272" />
<ellipse cx="457.97" cy="370.05" rx="1.5" ry="1.85" fill="rgb(195,195,195)"/>
<ellipse cx="460.55" cy="372.75" rx="1.5" ry="1.85" fill="rgb(215,215,215)"/>
<circle cx="459.34" cy="375.85" r="1.00" fill="#747474" />
<circle cx="462.04" cy="376.55" r="1.00" fill="#727272" />
<ellipse cx="463.44" cy="370.05" rx="1.5" ry="1.85" fill="rgb(237,237,237)"/>
<ellipse cx="466.41" cy="372.75" rx="1.5" ry="1.85" fill="rgb(202,202,202)"/>
<circle cx="464.86" cy="375.85" r="1.00" fill="#747474" />
<circle cx="467.56" cy="376.55" r="1.00" fill="#727272" />
<ellipse cx="469.16" cy="370.05" rx="1.5" ry="1.85" fill="rgb(236,236,236)"/>
<ellipse cx="471.65" cy="372.75" rx="1.5" ry="1.85" fill="rgb(228,228,228)"/>
<circle cx="470.38" cy="375.85" r="1.00" fill="#747474" />
<circle cx="473.08" cy="376.55" r="1.00" fill="#727272" />
<ellipse cx="335.44" cy="378.90" rx="1.5" ry="1.85" fill="rgb(236,236,236)"/>
<ellipse cx="338.26" cy="381.60" rx="1.5" ry="1.85" fill="rgb(207,207,207)"/>
<circle cx="336.70" cy="384.70" r="1.00" fill="#747474" />
<circle cx="339.40" cy="385.40" r="1.00" fill="#727272" />
<ellipse cx="341.04" cy="378.90" rx="1.5" ry="1.85" fill="rgb(217,217,217)"/>
<ellipse cx="343.69" cy="381.60" rx="1.5" ry="1.85" fill="rgb(196,196,196)"/>
<circle cx="342.22" cy="384.70" r="1.00" fill="#747474" />
<circle cx="344.92" cy="385.40" r="1.00" fill="#727272" />
<ellipse cx="346.35" cy="378.90" rx="1.5" ry="1.85" fill="rgb(218,218,218)"/>
<ellipse cx="349.12" cy="381.60" rx="1.5" ry="1.85" fill="rgb(206,206,206)"/>
<circle cx="347.74" cy="384.70" r="1.00" fill="#747474" />
<circle cx="350.44" cy="385.40" r="1.00" fill="#727272" />
<ellipse cx="352.06" cy="378.90" rx="1.5" ry="1.85" fill="rgb(205,205,205)"/>
<ellipse cx="354.88" cy="381.60" rx="1.5" ry="1.85" fill="rgb(197,197,197)"/>
<circle cx="353.26" cy="384.70" r="1.00" fill="#747474" />
<circle cx="355.96" cy="385.40" r="1.00" fill="#727272" />
<ellipse cx="357.49" cy="378.90" rx="1.5" ry="1.85" fill="rgb(225,225,225)"/>
<ellipse cx="360.27" cy="381.60" rx="1.5" ry="1.85" fill="rgb(203,203,203)"/>
<circle cx="358.78" cy="384.70" r="1.00" fill="#747474" />
<circle cx="361.48" cy="385.40" r="1.00" fill="#727272" />
<ellipse cx="362.97" cy="378.90" rx="1.5" ry="1.85" fill="rgb(221,221,221)"/>
<ellipse cx="365.92" cy="381.60" rx="1.5" ry="1.85" fill="rgb(195,195,195)"/>
<circle cx="364.30" cy="384.70" r="1.00" fill="#747474" />
<circle cx="367.00" cy="385.40" r="1.00" fill="#727272" />
<ellipse cx="368.68" cy="378.90" rx="1.5" ry="1.85" fill="rgb(228,228,228)"/>
<ellipse cx="371.06" cy="381.60" rx="1.5" ry="1.85" fill="rgb(227,227,227)"/>
<circle cx="369.82" cy="384.70" r="1.00" fill="#747474" />
<circle cx="372.52" cy="385.40" r="1.00" fill="#727272" />
<ellipse cx="373.80" cy="378.90" rx="1.5" ry="1.85" fill="rgb(230,230,230)"/>
<ellipse cx="377.00" cy="381.60" rx="1.5" ry="1.85" fill="rgb(225,225,225)"/>
<circle cx="375.34" cy="384.70" r="1.00" fill="#747474" />
<circle cx="378.04" cy="385.40" r="1.00" fill="#727272" />
<ellipse cx="379.51" cy="378.90" rx="1.5" ry="1.85" fill="rgb(207,207,207)"/>
<ellipse cx="382.29" cy="381.60" rx="1.5" ry="1.85" fill="rgb(195,195,195)"/>
<circle cx="380.86" cy="384.70" r="1.00" fill="#747474" />
<circle cx="383.56" cy="385.40" r="1.00" fill="#727272" />
<ellipse cx="385.14" cy="378.90" rx="1.5" ry="1.85" fill="rgb(206,206,206)"/>
<ellipse cx="387.55" cy="381.60" rx="1.5" ry="1.85" fill="rgb(199,199,199)"/>
<circle cx="386.38" cy="384.70" r="1.00" fill="#747474" />
<circle cx="389.08" cy="385.40" r="1.00" fill="#727272" />
<ellipse cx="390.79" cy="378.90" rx="1.5" ry="1.85" fill="rgb(240,240,240)"/>
<ellipse cx="393.55" cy="381.60" rx="1.5" ry="1.85" fill="rgb(187,187,187)"/>
<circle cx="391.90" cy="384.70" r="1.00" fill="#747474" />
<circle cx="394.60" cy="385.40" r="1.00" fill="#727272" />
<ellipse cx="396.26" cy="378.90" rx="1.5" ry="1.85" fill="rgb(205,205,205)"/>
<ellipse cx="398.55" cy="381.60" rx="1.5" ry="1.85" fill="rgb(188,188,188)"/>
<circle cx="397.42" cy="384.70" r="1.00" fill="#747474" />
<circle cx="400.12" cy="385.40" r="1.00" fill="#727272" />
<ellipse cx="401.36" cy="378.90" rx="1.5" ry="1.85" fill="rgb(206,206,206)"/>
<ellipse cx="404.02" cy="381.60" rx="1.5" ry="1.85" fill="rgb(215,215,215)"/>
<circle cx="402.94" cy="384.70" r="1.00" fill="#747474" />
<circle cx="405.64" cy="385.40" r="1.00" fill="#727272" />
<ellipse cx="406.99" cy="378.90" rx="1.5" ry="1.85" fill="rgb(224,224,224)"/>
<ellipse cx="409.89" cy="381.60" rx="1.5" ry="1.85" fill="rgb(207,207,207)"/>
<circle cx="408.46" cy="384.70" r="1.00" fill="#747474" />
<circle cx="411.16" cy="385.40" r="1.00" fill="#727272" />
<ellipse cx="412.42" cy="378.90" rx="1.5" ry="1.85" fill="rgb(232,232,232)"/>
<ellipse cx="415.58" cy="381.60" rx="1.5" ry="1.85" fill="rgb(198,198,198)"/>
<circle cx="413.98" cy="384.70" r="1.00" fill="#747474" />
<circle cx="416.68" cy="385.40" r="1.00" fill="#727272" />
<ellipse cx="418.04" cy="378.90" rx="1.5" ry="1.85" fill="rgb(195,195,195)"/>
<ellipse cx="420.73" cy="381.60" rx="1.5" ry="1.85" fill="rgb(207,207,207)"/>
<circle cx="419.50" cy="384.70" r="1.00" fill="#747474" />
<circle cx="422.20" cy="385.40" r="1.00" fill="#727272" />
<ellipse cx="423.73" cy="378.90" rx="1.5" ry="1.85" fill="rgb(221,221,221)"/>
<ellipse cx="426.41" cy="381.60" rx="1.5" ry="1.85" fill="rgb(192,192,192)"/>
<circle cx="425.02" cy="384.70" r="1.00" fill="#747474" />
<circle cx="427.72" cy="385.40" r="1.00" fill="#727272" />
<ellipse cx="429.21" cy="378.90" rx="1.5" ry="1.85" fill="rgb(197,197,197)"/>
<ellipse cx="431.66" cy="381.60" rx="1.5" ry="1.85" fill="rgb(220,220,220)"/>
<circle cx="430.54" cy="384.70" r="1.00" fill="#747474" />
<circle cx="433.24" cy="385.40" r="1.00" fill="#727272" />
<ellipse cx="434.56" cy="378.90" rx="1.5" ry="1.85" fill="rgb(229,229,229)"/>
<ellipse cx="437.47" cy="381.60" rx="1.5" ry="1.85" fill="rgb(217,217,217)"/>
<circle cx="436.06" cy="384.70" r="1.00" fill="#747474" />
<circle cx="438.76" cy="385.40" r="1.00" fill="#727272" />
<ellipse cx="440.13" cy="378.90" rx="1.5" ry="1.85" fill="rgb(217,217,217)"/>
<ellipse cx="443.13" cy="381.60" rx="1.5" ry="1.85" fill="rgb(193,193,193)"/>
<circle cx="441.58" cy="384.70" r="1.00" fill="#747474" />
<circle cx="444.28" cy="385.40" r="1.00" fill="#727272" />
<ellipse cx="445.62" cy="378.90" rx="1.5" ry="1.85" fill="rgb(236,236,236)"/>
<ellipse cx="448.25" cy="381.60" rx="1.5" ry="1.85" fill="rgb(219,219,219)"/>
<circle cx="447.10" cy="384.70" r="1.00" fill="#747474" />
<circle cx="449.80" cy="385.40" r="1.00" fill="#727272" />
<ellipse cx="451.26" cy="378.90" rx="1.5" ry="1.85" fill="rgb(233,233,233)"/>
<ellipse cx="454.25" cy="381.60" rx="1.5" ry="1.85" fill="rgb(209,209,209)"/>
<circle cx="452.62" cy="384.70" r="1.00" fill="#747474" />
<circle cx="455.32" cy="385.40" r="1.00" fill="#727272" />
<ellipse cx="456.49" cy="378.90" rx="1.5" ry="1.85" fill="rgb(203,203,203)"/>
<ellipse cx="459.69" cy="381.60" rx="1.5" ry="1.85" fill="rgb(223,223,223)"/>
<circle cx="458.14" cy="384.70" r="1.00" fill="#747474" />
<circle cx="460.84" cy="385.40" r="1.00" fill="#727272" />
<ellipse cx="462.19" cy="378.90" rx="1.5" ry="1.85" fill="rgb(237,237,237)"/>
<ellipse cx="464.92" cy="381.60" rx="1.5" ry="1.85" fill="rgb(185,185,185)"/>
<circle cx="463.66" cy="384.70" r="1.00" fill="#747474" />
<circle cx="466.36" cy="385.40" r="1.00" fill="#727272" />
<ellipse cx="467.56" cy="378.90" rx="1.5" ry="1.85" fill="rgb(234,234,234)"/>
<ellipse cx="470.62" cy="381.60" rx="1.5" ry="1.85" fill="rgb(219,219,219)"/>
<circle cx="469.18" cy="384.70" r="1.00" fill="#747474" />
<circle cx="471.88" cy="385.40" r="1.00" fill="#727272" />
<ellipse cx="336.46" cy="387.75" rx="1.5" ry="1.85" fill="rgb(231,231,231)"/>
<ellipse cx="339.55" cy="390.45" rx="1.5" ry="1.85" fill="rgb(209,209,209)"/>
<circle cx="337.90" cy="393.55" r="1.00" fill="#747474" />
<circle cx="340.60" cy="394.25" r="1.00" fill="#727272" />
<ellipse cx="342.01" cy="387.75" rx="1.5" ry="1.85" fill="rgb(226,226,226)"/>
<ellipse cx="344.90" cy="390.45" rx="1.5" ry="1.85" fill="rgb(203,203,203)"/>
<circle cx="343.42" cy="393.55" r="1.00" fill="#747474" />
<circle cx="346.12" cy="394.25" r="1.00" fill="#727272" />
<ellipse cx="347.60" cy="387.75" rx="1.5" ry="1.85" fill="rgb(219,219,219)"/>
<ellipse cx="350.16" cy="390.45" rx="1.5" ry="1.85" fill="rgb(195,195,195)"/>
<circle cx="348.94" cy="393.55" r="1.00" fill="#747474" />
<circle cx="351.64" cy="394.25" r="1.00" fill="#727272" />
<ellipse cx="352.91" cy="387.75" rx="1.5" ry="1.85" fill="rgb(214,214,214)"/>
<ellipse cx="355.53" cy="390.45" rx="1.5" ry="1.85" fill="rgb(216,216,216)"/>
<circle cx="354.46" cy="393.55" r="1.00" fill="#747474" />
<circle cx="357.16" cy="394.25" r="1.00" fill="#727272" />
<ellipse cx="358.84" cy="387.75" rx="1.5" ry="1.85" fill="rgb(214,214,214)"/>
<ellipse cx="361.13" cy="390.45" rx="1.5" ry="1.85" fill="rgb(216,216,216)"/>
<circle cx="359.98" cy="393.55" r="1.00" fill="#747474" />
<circle cx="362.68" cy="394.25" r="1.00" fill="#727272" />
<ellipse cx="364.20" cy="387.75" rx="1.5" ry="1.85" fill="rgb(196,196,196)"/>
<ellipse cx="367.14" cy="390.45" rx="1.5" ry="1.85" fill="rgb(192,192,192)"/>
<circle cx="365.50" cy="393.55" r="1.00" fill="#747474" />
<circle cx="368.20" cy="394.25" r="1.00" fill="#727272" />
<ellipse cx="369.34" cy="387.75" rx="1.5" ry="1.85" fill="rgb(210,210,210)"/>
<ellipse cx="372.16" cy="390.45" rx="1.5" ry="1.85" fill="rgb(203,203,203)"/>
<circle cx="371.02" cy="393.55" r="1.00" fill="#747474" />
<circle cx="373.72" cy="394.25" r="1.00" fill="#727272" />
<ellipse cx="375.13" cy="387.75" rx="1.5" ry="1.85" fill="rgb(220,220,220)"/>
<ellipse cx="377.94" cy="390.45" rx="1.5" ry="1.85" fill="rgb(185,185,185)"/>
<circle cx="376.54" cy="393.55" r="1.00" fill="#747474" />
<circle cx="379.24" cy="394.25" r="1.00" fill="#727272" />
<ellipse cx="380.83" cy="387.75" rx="1.5" ry="1.85" fill="rgb(210,210,210)"/>
<ellipse cx="383.27" cy="390.45" rx="1.5" ry="1.85" fill="rgb(215,215,215)"/>
<circle cx="382.06" cy="393.55" r="1.00" fill="#747474" />
<circle cx="384.76" cy="394.25" r="1.00" fill="#727272" />
<ellipse cx="386.31" cy="387.75" rx="1.5" ry="1.85" fill="rgb(212,212,212)"/>
<ellipse cx="388.81" cy="390.45" rx="1.5" ry="1.85" fill="rgb(194,194,194)"/>
<circle cx="387.58" cy="393.55" r="1.00" fill="#747474" />
<circle cx="390.28" cy="394.25" r="1.00" fill="#727272" />
<ellipse cx="392.00" cy="387.75" rx="1.5" ry="1.85" fill="rgb(226,226,226)"/>
<ellipse cx="394.47" cy="390.45" rx="1.5" ry="1.85" fill="rgb(223,223,223)"/>
<circle cx="393.10" cy="393.55" r="1.00" fill="#747474" />
<circle cx="395.80" cy="394.25" r="1.00" fill="#727272" />
<ellipse cx="396.93" cy="387.75" rx="1.5" ry="1.85" fill="rgb(233,233,233)"/>
<ellipse cx="399.76" cy="390.45" rx="1.5" ry="1.85" fill="rgb(192,192,192)"/>
<circle cx="398.62" cy="393.55" r="1.00" fill="#747474" />
<circle cx="401.32" cy="394.25" r="1.00" fill="#727272" />
<ellipse cx="402.86" cy="387.75" rx="1.5" ry="1.85" fill="rgb(213,213,213)"/>
<ellipse cx="405.57" cy="390.45" rx="1.5" ry="1.85" fill="rgb(219,219,219)"/>
<circle cx="404.14" cy="393.55" r="1.00" fill="#747474" />
<circle cx="406.84" cy="394.25" r="1.00" fill="#727272" />
<ellipse cx="408.24" cy="387.75" rx="1.5" ry="1.85" fill="rgb(228,228,228)"/>
<ellipse cx="410.94" cy="390.45" rx="1.5" ry="1.85" fill="rgb(186,186,186)"/>
<circle cx="409.66" cy="393.55" r="1.00" fill="#747474" />
<circle cx="412.36" cy="394.25" r="1.00" fill="#727272" />
<ellipse cx="413.50" cy="387.75" rx="1.5" ry="1.85" fill="rgb(232,232,232)"/>
<ellipse cx="416.39" cy="390.45" rx="1.5" ry="1.85" fill="rgb(193,193,193)"/>
<circle cx="415.18" cy="393.55" r="1.00" fill="#747474" />
<circle cx="417.88" cy="394.25" r="1.00" fill="#727272" />
<ellipse cx="419.55" cy="387.75" rx="1.5" ry="1.85" fill="rgb(224,224,224)"/>
<ellipse cx="422.29" cy="390.45" rx="1.5" ry="1.85" fill="rgb(228,228,228)"/>
<circle cx="420.70" cy="393.55" r="1.00" fill="#747474" />
<circle cx="423.40" cy="394.25" r="1.00" fill="#727272" />
<ellipse cx="424.53" cy="387.75" rx="1.5" ry="1.85" fill="rgb(229,229,229)"/>
<ellipse cx="427.75" cy="390.45" rx="1.5" ry="1.85" fill="rgb(197,197,197)"/>
<circle cx="426.22" cy="393.55" r="1.00" fill="#747474" />
<circle cx="428.92" cy="394.25" r="1.00" fill="#727272" />
<ellipse cx="430.39" cy="387.75" rx="1.5" ry="1.85" fill="rgb(222,222,222)"/>
<ellipse cx="433.22" cy="390.45" rx="1.5" ry="1.85" fill="rgb(223,223,223)"/>
<circle cx="431.74" cy="393.55" r="1.00" fill="#747474" />
<circle cx="434.44" cy="394.25" r="1.00" fill="#727272" />
<ellipse cx="435.85" cy="387.75" rx="1.5" ry="1.85" fill="rgb(235,235,235)"/>
<ellipse cx="438.87" cy="390.45" rx="1.5" ry="1.85" fill="rgb(226,226,226)"/>
<circle cx="437.26" cy="393.55" r="1.00" fill="#747474" />
<circle cx="439.96" cy="394.25" r="1.00" fill="#727272" />
<ellipse cx="441.32" cy="387.75" rx="1.5" ry="1.85" fill="rgb(219,219,219)"/>
<ellipse cx="444.35" cy="390.45" rx="1.5" ry="1.85" fill="rgb(215,215,215)"/>
<circle cx="442.78" cy="393.55" r="1.00" fill="#747474" />
<circle cx="445.48" cy="394.25" r="1.00" fill="#727272" />
<ellipse cx="446.88" cy="387.75" rx="1.5" ry="1.85" fill="rgb(207,207,207)"/>
<ellipse cx="449.81" cy="390.45" rx="1.5" ry="1.85" fill="rgb(203,203,203)"/>
<circle cx="448.30" cy="393.55" r="1.00" fill="#747474" />
<circle cx="451.00" cy="394.25" r="1.00" fill="#727272" />
<ellipse cx="452.54" cy="387.75" rx="1.5" ry="1.85" fill="rgb(214,214,214)"/>
<ellipse cx="455.14" cy="390.45" rx="1.5" ry="1.85" fill="rgb(185,185,185)"/>
<circle cx="453.82" cy="393.55" r="1.00" fill="#747474" />
<circle cx="456.52" cy="394.25" r="1.00" fill="#727272" />
<ellipse cx="458.11" cy="387.75" rx="1.5" ry="1.85" fill="rgb(213,213,213)"/>
<ellipse cx="460.95" cy="390.45" rx="1.5" ry="1.85" fill="rgb(226,226,226)"/>
<circle cx="459.34" cy="393.55" r="1.00" fill="#747474" />
<circle cx="462.04" cy="394.25" r="1.00" fill="#727272" />
<ellipse cx="463.45" cy="387.75" rx="1.5" ry="1.85" fill="rgb(204,204,204)"/>
<ellipse cx="466.25" cy="390.45" rx="1.5" ry="1.85" fill="rgb(195,195,195)"/>
<circle cx="464.86" cy="393.55" r="1.00" fill="#747474" />
<circle cx="467.56" cy="394.25" r="1.00" fill="#727272" />
<ellipse cx="469.00" cy="387.75" rx="1.5" ry="1.85" fill="rgb(226,226,226)"/>
<ellipse cx="471.70" cy="390.45" rx="1.5" ry="1.85" fill="rgb(206,206,206)"/>
<circle cx="470.38" cy="393.55" r="1.00" fill="#747474" />
<circle cx="473.08" cy="394.25" r="1.00" fill="#727272" />
<ellipse cx="335.04" cy="396.60" rx="1.5" ry="1.85" fill="rgb(229,229,229)"/>
<ellipse cx="337.90" cy="399.30" rx="1.5" ry="1.85" fill="rgb(188,188,188)"/>
<circle cx="336.70" cy="402.40" r="1.00" fill="#747474" />
<circle cx="339.40" cy="403.10" r="1.00" fill="#727272" />
<ellipse cx="340.92" cy="396.60" rx="1.5" ry="1.85" fill="rgb(200,200,200)"/>
<ellipse cx="343.30" cy="399.30" rx="1.5" ry="1.85" fill="rgb(189,189,189)"/>
<circle cx="342.22" cy="402.40" r="1.00" fill="#747474" />
<circle cx="344.92" cy="403.10" r="1.00" fill="#727272" />
<ellipse cx="346.64" cy="396.60" rx="1.5" ry="1.85" fill="rgb(222,222,222)"/>
<ellipse cx="349.22" cy="399.30" rx="1.5" ry="1.85" fill="rgb(189,189,189)"/>
<circle cx="347.74" cy="402.40" r="1.00" fill="#747474" />
<circle cx="350.44" cy="403.10" r="1.00" fill="#727272" />
<ellipse cx="352.07" cy="396.60" rx="1.5" ry="1.85" fill="rgb(198,198,198)"/>
<ellipse cx="354.45" cy="399.30" rx="1.5" ry="1.85" fill="rgb(192,192,192)"/>
<circle cx="353.26" cy="402.40" r="1.00" fill="#747474" />
<circle cx="355.96" cy="403.10" r="1.00" fill="#727272" />
<ellipse cx="357.51" cy="396.60" rx="1.5" ry="1.85" fill="rgb(236,236,236)"/>
<ellipse cx="359.92" cy="399.30" rx="1.5" ry="1.85" fill="rgb(192,192,192)"/>
<circle cx="358.78" cy="402.40" r="1.00" fill="#747474" />
<circle cx="361.48" cy="403.10" r="1.00" fill="#727272" />
<ellipse cx="363.15" cy="396.60" rx="1.5" ry="1.85" fill="rgb(213,213,213)"/>
<ellipse cx="365.45" cy="399.30" rx="1.5" ry="1.85" fill="rgb(230,230,230)"/>
<circle cx="364.30" cy="402.40" r="1.00" fill="#747474" />
<circle cx="367.00" cy="403.10" r="1.00" fill="#727272" />
<ellipse cx="368.37" cy="396.60" rx="1.5" ry="1.85" fill="rgb(234,234,234)"/>
<ellipse cx="370.98" cy="399.30" rx="1.5" ry="1.85" fill="rgb(196,196,196)"/>
<circle cx="369.82" cy="402.40" r="1.00" fill="#747474" />
<circle cx="372.52" cy="403.10" r="1.00" fill="#727272" />
<ellipse cx="373.67" cy="396.60" rx="1.5" ry="1.85" fill="rgb(234,234,234)"/>
<ellipse cx="376.46" cy="399.30" rx="1.5" ry="1.85" fill="rgb(198,198,198)"/>
<circle cx="375.34" cy="402.40" r="1.00" fill="#747474" />
<circle cx="378.04" cy="403.10" r="1.00" fill="#727272" />
<ellipse cx="379.33" cy="396.60" rx="1.5" ry="1.85" fill="rgb(219,219,219)"/>
<ellipse cx="382.26" cy="399.30" rx="1.5" ry="1.85" fill="rgb(189,189,189)"/>
<circle cx="380.86" cy="402.40" r="1.00" fill="#747474" />
<circle cx="383.56" cy="403.10" r="1.00" fill="#727272" />
<ellipse cx="385.21" cy="396.60" rx="1.5" ry="1.85" fill="rgb(202,202,202)"/>
<ellipse cx="387.52" cy="399.30" rx="1.5" ry="1.85" fill="rgb(210,210,210)"/>
<circle cx="386.38" cy="402.40" r="1.00" fill="#747474" />
<circle cx="389.08" cy="403.10" r="1.00" fill="#727272" />
<ellipse cx="390.39" cy="396.60" rx="1.5" ry="1.85" fill="rgb(222,222,222)"/>
<ellipse cx="393.32" cy="399.30" rx="1.5" ry="1.85" fill="rgb(190,190,190)"/>
<circle cx="391.90" cy="402.40" r="1.00" fill="#747474" />
<circle cx="394.60" cy="403.10" r="1.00" fill="#727272" />
<ellipse cx="396.28" cy="396.60" rx="1.5" ry="1.85" fill="rgb(226,226,226)"/>
<ellipse cx="398.70" cy="399.30" rx="1.5" ry="1.85" fill="rgb(207,207,207)"/>
<circle cx="397.42" cy="402.40" r="1.00" fill="#747474" />
<circle cx="400.12" cy="403.10" r="1.00" fill="#727272" />
<ellipse cx="401.66" cy="396.60" rx="1.5" ry="1.85" fill="rgb(198,198,198)"/>
<ellipse cx="404.09" cy="399.30" rx="1.5" ry="1.85" fill="rgb(193,193,193)"/>
<circle cx="402.94" cy="402.40" r="1.00" fill="#747474" />
<circle cx="405.64" cy="403.10" r="1.00" fill="#727272" />
<ellipse cx="407.06" cy="396.60" rx="1.5" ry="1.85" fill="rgb(235,235,235)"/>
<ellipse cx="410.07" cy="399.30" rx="1.5" ry="1.85" fill="rgb(228,228,228)"/>
<circle cx="408.46" cy="402.40" r="1.00" fill="#747474" />
<circle cx="411.16" cy="403.10" r="1.00" fill="#727272" />
<ellipse cx="412.65" cy="396.60" rx="1.5" ry="1.85" fill="rgb(230,230,230)"/>
<ellipse cx="415.20" cy="399.30" rx="1.5" ry="1.85" fill="rgb(220,220,220)"/>
<circle cx="413.98" cy="402.40" r="1.00" fill="#747474" />
<circle cx="416.68" cy="403.10" r="1.00" fill="#727272" />
<ellipse cx="417.95" cy="396.60" rx="1.5" ry="1.85" fill="rgb(230,230,230)"/>
<ellipse cx="421.01" cy="399.30" rx="1.5" ry="1.85" fill="rgb(200,200,200)"/>
<circle cx="419.50" cy="402.40" r="1.00" fill="#747474" />
<circle cx="422.20" cy="403.10" r="1.00" fill="#727272" />
<ellipse cx="423.80" cy="396.60" rx="1.5" ry="1.85" fill="rgb(228,228,228)"/>
<ellipse cx="426.60" cy="399.30" rx="1.5" ry="1.85" fill="rgb(193,193,193)"/>
<circle cx="425.02" cy="402.40" r="1.00" fill="#747474" />
<circle cx="427.72" cy="403.10" r="1.00" fill="#727272" />
<ellipse cx="428.95" cy="396.60" rx="1.5" ry="1.85" fill="rgb(224,224,224)"/>
<ellipse cx="432.03" cy="399.30" rx="1.5" ry="1.85" fill="rgb(209,209,209)"/>
<circle cx="430.54" cy="402.40" r="1.00" fill="#747474" />
<circle cx="433.24" cy="403.10" r="1.00" fill="#727272" />
<ellipse cx="434.41" cy="396.60" rx="1.5" ry="1.85" fill="rgb(236,236,236)"/>
<ellipse cx="437.52" cy="399.30" rx="1.5" ry="1.85" fill="rgb(206,206,206)"/>
<circle cx="436.06" cy="402.40" r="1.00" fill="#747474" />
<circle cx="438.76" cy="403.10" r="1.00" fill="#727272" />
<ellipse cx="440.18" cy="396.60" rx="1.5" ry="1.85" fill="rgb(200,200,200)"/>
<ellipse cx="442.91" cy="399.30" rx="1.5" ry="1.85" fill="rgb(192,192,192)"/>
<circle cx="441.58" cy="402.40" r="1.00" fill="#747474" />
<circle cx="444.28" cy="403.10" r="1.00" fill="#727272" />
<ellipse cx="445.69" cy="396.60" rx="1.5" ry="1.85" fill="rgb(219,219,219)"/>
<ellipse cx="448.35" cy="399.30" rx="1.5" ry="1.85" fill="rgb(214,214,214)"/>
<circle cx="447.10" cy="402.40" r="1.00" fill="#747474" />
<circle cx="449.80" cy="403.10" r="1.00" fill="#727272" />
<ellipse cx="451.25" cy="396.60" rx="1.5" ry="1.85" fill="rgb(228,228,228)"/>
<ellipse cx="453.91" cy="399.30" rx="1.5" ry="1.85" fill="rgb(186,186,186)"/>
<circle cx="452.62" cy="402.40" r="1.00" fill="#747474" />
<circle cx="455.32" cy="403.10" r="1.00" fill="#727272" />
<ellipse cx="456.85" cy="396.60" rx="1.5" ry="1.85" fill="rgb(204,204,204)"/>
<ellipse cx="459.33" cy="399.30" rx="1.5" ry="1.85" fill="rgb(212,212,212)"/>
<circle cx="458.14" cy="402.40" r="1.00" fill="#747474" />
<circle cx="460.84" cy="403.10" r="1.00" fill="#727272" />
<ellipse cx="462.54" cy="396.60" rx="1.5" ry="1.85" fill="rgb(202,202,202)"/>
<ellipse cx="465.12" cy="399.30" rx="1.5" ry="1.85" fill="rgb(190,190,190)"/>
<circle cx="463.66" cy="402.40" r="1.00" fill="#747474" />
<circle cx="466.36" cy="403.10" r="1.00" fill="#727272" />
<ellipse cx="467.90" cy="396.60" rx="1.5" ry="1.85" fill="rgb(208,208,208)"/>
<ellipse cx="470.47" cy="399.30" rx="1.5" ry="1.85" fill="rgb(193,193,193)"/>
<circle cx="469.18" cy="402.40" r="1.00" fill="#747474" />
<circle cx="471.88" cy="403.10" r="1.00" fill="#727272" />
<ellipse cx="336.40" cy="405.45" rx="1.5" ry="1.85" fill="rgb(210,210,210)"/>
<ellipse cx="339.33" cy="408.15" rx="1.5" ry="1.85" fill="rgb(203,203,203)"/>
<circle cx="337.90" cy="411.25" r="1.00" fill="#747474" />
<circle cx="340.60" cy="411.95" r="1.00" fill="#727272" />
<ellipse cx="341.95" cy="405.45" rx="1.5" ry="1.85" fill="rgb(217,217,217)"/>
<ellipse cx="344.91" cy="408.15" rx="1.5" ry="1.85" fill="rgb(209,209,209)"/>
<circle cx="343.42" cy="411.25" r="1.00" fill="#747474" />
<circle cx="346.12" cy="411.95" r="1.00" fill="#727272" />
<ellipse cx="347.42" cy="405.45" rx="1.5" ry="1.85" fill="rgb(217,217,217)"/>
<ellipse cx="350.38" cy="408.15" rx="1.5" ry="1.85" fill="rgb(226,226,226)"/>
<circle cx="348.94" cy="411.25" r="1.00" fill="#747474" />
<circle cx="351.64" cy="411.95" r="1.00" fill="#727272" />
<ellipse cx="352.78" cy="405.45" rx="1.5" ry="1.85" fill="rgb(218,218,218)"/>
<ellipse cx="356.12" cy="408.15" rx="1.5" ry="1.85" fill="rgb(218,218,218)"/>
<circle cx="354.46" cy="411.25" r="1.00" fill="#747474" />
<circle cx="357.16" cy="411.95" r="1.00" fill="#727272" />
<ellipse cx="358.52" cy="405.45" rx="1.5" ry="1.85" fill="rgb(208,208,208)"/>
<ellipse cx="361.10" cy="408.15" rx="1.5" ry="1.85" fill="rgb(196,196,196)"/>
<circle cx="359.98" cy="411.25" r="1.00" fill="#747474" />
<circle cx="362.68" cy="411.95" r="1.00" fill="#727272" />
<ellipse cx="363.92" cy="405.45" rx="1.5" ry="1.85" fill="rgb(197,197,197)"/>
<ellipse cx="366.58" cy="408.15" rx="1.5" ry="1.85" fill="rgb(196,196,196)"/>
<circle cx="365.50" cy="411.25" r="1.00" fill="#747474" />
<circle cx="368.20" cy="411.95" r="1.00" fill="#727272" />
<ellipse cx="369.78" cy="405.45" rx="1.5" ry="1.85" fill="rgb(225,225,225)"/>
<ellipse cx="372.08" cy="408.15" rx="1.5" ry="1.85" fill="rgb(227,227,227)"/>
<circle cx="371.02" cy="411.25" r="1.00" fill="#747474" />
<circle cx="373.72" cy="411.95" r="1.00" fill="#727272" />
<ellipse cx="375.37" cy="405.45" rx="1.5" ry="1.85" fill="rgb(225,225,225)"/>
<ellipse cx="377.97" cy="408.15" rx="1.5" ry="1.85" fill="rgb(204,204,204)"/>
<circle cx="376.54" cy="411.25" r="1.00" fill="#747474" />
<circle cx="379.24" cy="411.95" r="1.00" fill="#727272" />
<ellipse cx="380.64" cy="405.45" rx="1.5" ry="1.85" fill="rgb(222,222,222)"/>
<ellipse cx="383.18" cy="408.15" rx="1.5" ry="1.85" fill="rgb(205,205,205)"/>
<circle cx="382.06" cy="411.25" r="1.00" fill="#747474" />
<circle cx="384.76" cy="411.95" r="1.00" fill="#727272" />
<ellipse cx="385.98" cy="405.45" rx="1.5" ry="1.85" fill="rgb(204,204,204)"/>
<ellipse cx="388.86" cy="408.15" rx="1.5" ry="1.85" fill="rgb(226,226,226)"/>
<circle cx="387.58" cy="411.25" r="1.00" fill="#747474" />
<circle cx="390.28" cy="411.95" r="1.00" fill="#727272" />
<ellipse cx="391.49" cy="405.45" rx="1.5" ry="1.85" fill="rgb(219,219,219)"/>
<ellipse cx="394.31" cy="408.15" rx="1.5" ry="1.85" fill="rgb(215,215,215)"/>
<circle cx="393.10" cy="411.25" r="1.00" fill="#747474" />
<circle cx="395.80" cy="411.95" r="1.00" fill="#727272" />
<ellipse cx="397.37" cy="405.45" rx="1.5" ry="1.85" fill="rgb(212,212,212)"/>
<ellipse cx="400.08" cy="408.15" rx="1.5" ry="1.85" fill="rgb(195,195,195)"/>
<circle cx="398.62" cy="411.25" r="1.00" fill="#747474" />
<circle cx="401.32" cy="411.95" r="1.00" fill="#727272" />
<ellipse cx="402.98" cy="405.45" rx="1.5" ry="1.85" fill="rgb(197,197,197)"/>
<ellipse cx="405.41" cy="408.15" rx="1.5" ry="1.85" fill="rgb(215,215,215)"/>
<circle cx="404.14" cy="411.25" r="1.00" fill="#747474" />
<circle cx="406.84" cy="411.95" r="1.00" fill="#727272" />
<ellipse cx="408.52" cy="405.45" rx="1.5" ry="1.85" fill="rgb(218,218,218)"/>
<ellipse cx="411.13" cy="408.15" rx="1.5" ry="1.85" fill="rgb(205,205,205)"/>
<circle cx="409.66" cy="411.25" r="1.00" fill="#747474" />
<circle cx="412.36" cy="411.95" r="1.00" fill="#727272" />
<ellipse cx="413.76" cy="405.45" rx="1.5" ry="1.85" fill="rgb(238,238,238)"/>
<ellipse cx="416.81" cy="408.15" rx="1.5" ry="1.85" fill="rgb(214,214,214)"/>
<circle cx="415.18" cy="411.25" r="1.00" fill="#747474" />
<circle cx="417.88" cy="411.95" r="1.00" fill="#727272" />
<ellipse cx="419.19" cy="405.45" rx="1.5" ry="1.85" fill="rgb(202,202,202)"/>
<ellipse cx="422.03" cy="408.15" rx="1.5" ry="1.85" fill="rgb(227,227,227)"/>
<circle cx="420.70" cy="411.25" r="1.00" fill="#747474" />
<circle cx="423.40" cy="411.95" r="1.00" fill="#727272" />
<ellipse cx="424.54" cy="405.45" rx="1.5" ry="1.85" fill="rgb(210,210,210)"/>
<ellipse cx="427.71" cy="408.15" rx="1.5" ry="1.85" fill="rgb(195,195,195)"/>
<circle cx="426.22" cy="411.25" r="1.00" fill="#747474" />
<circle cx="428.92" cy="411.95" r="1.00" fill="#727272" />
<ellipse cx="430.43" cy="405.45" rx="1.5" ry="1.85" fill="rgb(231,231,231)"/>
<ellipse cx="433.17" cy="408.15" rx="1.5" ry="1.85" fill="rgb(199,199,199)"/>
<circle cx="431.74" cy="411.25" r="1.00" fill="#747474" />
<circle cx="434.44" cy="411.95" r="1.00" fill="#727272" />
<ellipse cx="435.97" cy="405.45" rx="1.5" ry="1.85" fill="rgb(240,240,240)"/>
<ellipse cx="438.43" cy="408.15" rx="1.5" ry="1.85" fill="rgb(208,208,208)"/>
<circle cx="437.26" cy="411.25" r="1.00" fill="#747474" />
<circle cx="439.96" cy="411.95" r="1.00" fill="#727272" />
<ellipse cx="441.12" cy="405.45" rx="1.5" ry="1.85" fill="rgb(218,218,218)"/>
<ellipse cx="444.44" cy="408.15" rx="1.5" ry="1.85" fill="rgb(203,203,203)"/>
<circle cx="442.78" cy="411.25" r="1.00" fill="#747474" />
<circle cx="445.48" cy="411.95" r="1.00" fill="#727272" />
<ellipse cx="447.07" cy="405.45" rx="1.5" ry="1.85" fill="rgb(224,224,224)"/>
<ellipse cx="449.47" cy="408.15" rx="1.5" ry="1.85" fill="rgb(195,195,195)"/>
<circle cx="448.30" cy="411.25" r="1.00" fill="#747474" />
<circle cx="451.00" cy="411.95" r="1.00" fill="#727272" />
<ellipse cx="452.51" cy="405.45" rx="1.5" ry="1.85" fill="rgb(208,208,208)"/>
<ellipse cx="455.14" cy="408.15" rx="1.5" ry="1.85" fill="rgb(187,187,187)"/>
<circle cx="453.82" cy="411.25" r="1.00" fill="#747474" />
<circle cx="456.52" cy="411.95" r="1.00" fill="#727272" />
<ellipse cx="457.92" cy="405.45" rx="1.5" ry="1.85" fill="rgb(212,212,212)"/>
<ellipse cx="460.67" cy="408.15" rx="1.5" ry="1.85" fill="rgb(185,185,185)"/>
<circle cx="459.34" cy="411.25" r="1.00" fill="#747474" />
<circle cx="462.04" cy="411.95" r="1.00" fill="#727272" />
<ellipse cx="463.26" cy="405.45" rx="1.5" ry="1.85" fill="rgb(238,238,238)"/>
<ellipse cx="465.94" cy="408.15" rx="1.5" ry="1.85" fill="rgb(211,211,211)"/>
<circle cx="464.86" cy="411.25" r="1.00" fill="#747474" />
<circle cx="467.56" cy="411.95" r="1.00" fill="#727272" />
<ellipse cx="468.89" cy="405.45" rx="1.5" ry="1.85" fill="rgb(228,228,228)"/>
<ellipse cx="471.50" cy="408.15" rx="1.5" ry="1.85" fill="rgb(221,221,221)"/>
<circle cx="470.38" cy="411.25" r="1.00" fill="#747474" />
<circle cx="473.08" cy="411.95" r="1.00" fill="#727272" />
<ellipse cx="335.54" cy="414.30" rx="1.5" ry="1.85" fill="rgb(199,199,199)"/>
<ellipse cx="338.05" cy="417.00" rx="1.5" ry="1.85" fill="rgb(200,200,200)"/>
<circle cx="336.70" cy="420.10" r="1.00" fill="#747474" />
<circle cx="339.40" cy="420.80" r="1.00" fill="#727272" />
<ellipse cx="340.93" cy="414.30" rx="1.5" ry="1.85" fill="rgb(225,225,225)"/>
<ellipse cx="343.67" cy="417.00" rx="1.5" ry="1.85" fill="rgb(188,188,188)"/>
<circle cx="342.22" cy="420.10" r="1.00" fill="#747474" />
<circle cx="344.92" cy="420.80" r="1.00" fill="#727272" />
<ellipse cx="346.51" cy="414.30" rx="1.5" ry="1.85" fill="rgb(226,226,226)"/>
<ellipse cx="348.83" cy="417.00" rx="1.5" ry="1.85" fill="rgb(210,210,210)"/>
<circle cx="347.74" cy="420.10" r="1.00" fill="#747474" />
<circle cx="350.44" cy="420.80" r="1.00" fill="#727272" />
<ellipse cx="351.74" cy="414.30" rx="1.5" ry="1.85" fill="rgb(221,221,221)"/>
<ellipse cx="354.35" cy="417.00" rx="1.5" ry="1.85" fill="rgb(213,213,213)"/>
<circle cx="353.26" cy="420.10" r="1.00" fill="#747474" />
<circle cx="355.96" cy="420.80" r="1.00" fill="#727272" />
<ellipse cx="357.19" cy="414.30" rx="1.5" ry="1.85" fill="rgb(197,197,197)"/>
<ellipse cx="360.15" cy="417.00" rx="1.5" ry="1.85" fill="rgb(197,197,197)"/>
<circle cx="358.78" cy="420.10" r="1.00" fill="#747474" />
<circle cx="361.48" cy="420.80" r="1.00" fill="#727272" />
<ellipse cx="362.92" cy="414.30" rx="1.5" ry="1.85" fill="rgb(220,220,220)"/>
<ellipse cx="365.41" cy="417.00" rx="1.5" ry="1.85" fill="rgb(197,197,197)"/>
<circle cx="364.30" cy="420.10" r="1.00" fill="#747474" />
<circle cx="367.00" cy="420.80" r="1.00" fill="#727272" />
<ellipse cx="368.17" cy="414.30" rx="1.5" ry="1.85" fill="rgb(215,215,215)"/>
<ellipse cx="371.47" cy="417.00" rx="1.5" ry="1.85" fill="rgb(191,191,191)"/>
<circle cx="369.82" cy="420.10" r="1.00" fill="#747474" />
<circle cx="372.52" cy="420.80" r="1.00" fill="#727272" />
<ellipse cx="373.69" cy="414.30" rx="1.5" ry="1.85" fill="rgb(205,205,205)"/>
<ellipse cx="376.84" cy="417.00" rx="1.5" ry="1.85" fill="rgb(223,223,223)"/>
<circle cx="375.34" cy="420.10" r="1.00" fill="#747474" />
<circle cx="378.04" cy="420.80" r="1.00" fill="#727272" />
<ellipse cx="379.42" cy="414.30" rx="1.5" ry="1.85" fill="rgb(234,234,234)"/>
<ellipse cx="382.13" cy="417.00" rx="1.5" ry="1.85" fill="rgb(186,186,186)"/>
<circle cx="380.86" cy="420.10" r="1.00" fill="#747474" />
<circle cx="383.56" cy="420.80" r="1.00" fill="#727272" />
<ellipse cx="385.14" cy="414.30" rx="1.5" ry="1.85" fill="rgb(222,222,222)"/>
<ellipse cx="387.75" cy="417.00" rx="1.5" ry="1.85" fill="rgb(221,221,221)"/>
<circle cx="386.38" cy="420.10" r="1.00" fill="#747474" />
<circle cx="389.08" cy="420.80" r="1.00" fill="#727272" />
<ellipse cx="390.75" cy="414.30" rx="1.5" ry="1.85" fill="rgb(203,203,203)"/>
<ellipse cx="393.14" cy="417.00" rx="1.5" ry="1.85" fill="rgb(185,185,185)"/>
<circle cx="391.90" cy="420.10" r="1.00" fill="#747474" />
<circle cx="394.60" cy="420.80" r="1.00" fill="#727272" />
<ellipse cx="396.05" cy="414.30" rx="1.5" ry="1.85" fill="rgb(223,223,223)"/>
<ellipse cx="398.56" cy="417.00" rx="1.5" ry="1.85" fill="rgb(199,199,199)"/>
<circle cx="397.42" cy="420.10" r="1.00" fill="#747474" />
<circle cx="400.12" cy="420.80" r="1.00" fill="#727272" />
<ellipse cx="401.71" cy="414.30" rx="1.5" ry="1.85" fill="rgb(225,225,225)"/>
<ellipse cx="404.16" cy="417.00" rx="1.5" ry="1.85" fill="rgb(190,190,190)"/>
<circle cx="402.94" cy="420.10" r="1.00" fill="#747474" />
<circle cx="405.64" cy="420.80" r="1.00" fill="#727272" />
<ellipse cx="406.84" cy="414.30" rx="1.5" ry="1.85" fill="rgb(220,220,220)"/>
<ellipse cx="409.84" cy="417.00" rx="1.5" ry="1.85" fill="rgb(205,205,205)"/>
<circle cx="408.46" cy="420.10" r="1.00" fill="#747474" />
<circle cx="411.16" cy="420.80" r="1.00" fill="#727272" />
<ellipse cx="412.70" cy="414.30" rx="1.5" ry="1.85" fill="rgb(225,225,225)"/>
<ellipse cx="415.52" cy="417.00" rx="1.5" ry="1.85" fill="rgb(200,200,200)"/>
<circle cx="413.98" cy="420.10" r="1.00" fill="#747474" />
<circle cx="416.68" cy="420.80" r="1.00" fill="#727272" />
<ellipse cx="417.95" cy="414.30" rx="1.5" ry="1.85" fill="rgb(231,231,231)"/>
<ellipse cx="420.60" cy="417.00" rx="1.5" ry="1.85" fill="rgb(227,227,227)"/>
<circle cx="419.50" cy="420.10" r="1.00" fill="#747474" />
<circle cx="422.20" cy="420.80" r="1.00" fill="#727272" />
<ellipse cx="423.35" cy="414.30" rx="1.5" ry="1.85" fill="rgb(239,239,239)"/>
<ellipse cx="426.20" cy="417.00" rx="1.5" ry="1.85" fill="rgb(200,200,200)"/>
<circle cx="425.02" cy="420.10" r="1.00" fill="#747474" />
<circle cx="427.72" cy="420.80" r="1.00" fill="#727272" />
<ellipse cx="429.37" cy="414.30" rx="1.5" ry="1.85" fill="rgb(213,213,213)"/>
<ellipse cx="431.64" cy="417.00" rx="1.5" ry="1.85" fill="rgb(208,208,208)"/>
<circle cx="430.54" cy="420.10" r="1.00" fill="#747474" />
<circle cx="433.24" cy="420.80" r="1.00" fill="#727272" />
<ellipse cx="434.81" cy="414.30" rx="1.5" ry="1.85" fill="rgb(215,215,215)"/>
<ellipse cx="437.45" cy="417.00" rx="1.5" ry="1.85" fill="rgb(209,209,209)"/>
<circle cx="436.06" cy="420.10" r="1.00" fill="#747474" />
<circle cx="438.76" cy="420.80" r="1.00" fill="#727272" />
<ellipse cx="440.44" cy="414.30" rx="1.5" ry="1.85" fill="rgb(213,213,213)"/>
<ellipse cx="442.72" cy="417.00" rx="1.5" ry="1.85" fill="rgb(226,226,226)"/>
<circle cx="441.58" cy="420.10" r="1.00" fill="#747474" />
<circle cx="444.28" cy="420.80" r="1.00" fill="#727272" />
<ellipse cx="445.49" cy="414.30" rx="1.5" ry="1.85" fill="rgb(196,196,196)"/>
<ellipse cx="448.57" cy="417.00" rx="1.5" ry="1.85" fill="rgb(213,213,213)"/>
<circle cx="447.10" cy="420.10" r="1.00" fill="#747474" />
<circle cx="449.80" cy="420.80" r="1.00" fill="#727272" />
<ellipse cx="451.34" cy="414.30" rx="1.5" ry="1.85" fill="rgb(196,196,196)"/>
<ellipse cx="453.84" cy="417.00" rx="1.5" ry="1.85" fill="rgb(188,188,188)"/>
<circle cx="452.62" cy="420.10" r="1.00" fill="#747474" />
<circle cx="455.32" cy="420.80" r="1.00" fill="#727272" />
<ellipse cx="456.52" cy="414.30" rx="1.5" ry="1.85" fill="rgb(219,219,219)"/>
<ellipse cx="459.24" cy="417.00" rx="1.5" ry="1.85" fill="rgb(220,220,220)"/>
<circle cx="458.14" cy="420.10" r="1.00" fill="#747474" />
<circle cx="460.84" cy="420.80" r="1.00" fill="#727272" />
<ellipse cx="462.12" cy="414.30" rx="1.5" ry="1.85" fill="rgb(205,205,205)"/>
<ellipse cx="465.13" cy="417.00" rx="1.5" ry="1.85" fill="rgb(193,193,193)"/>
<circle cx="463.66" cy="420.10" r="1.00" fill="#747474" />
<circle cx="466.36" cy="420.80" r="1.00" fill="#727272" />
<ellipse cx="467.52" cy="414.30" rx="1.5" ry="1.85" fill="rgb(213,213,213)"/>
<ellipse cx="470.70" cy="417.00" rx="1.5" ry="1.85" fill="rgb(187,187,187)"/>
<circle cx="469.18" cy="420.10" r="1.00" fill="#747474" />
<circle cx="471.88" cy="420.80" r="1.00" fill="#727272" />
<ellipse cx="336.22" cy="423.15" rx="1.5" ry="1.85" fill="rgb(230,230,230)"/>
<ellipse cx="338.99" cy="425.85" rx="1.5" ry="1.85" fill="rgb(186,186,186)"/>
<circle cx="337.90" cy="428.95" r="1.00" fill="#747474" />
<circle cx="340.60" cy="429.65" r="1.00" fill="#727272" />
<ellipse cx="341.98" cy="423.15" rx="1.5" ry="1.85" fill="rgb(203,203,203)"/>
<ellipse cx="344.63" cy="425.85" rx="1.5" ry="1.85" fill="rgb(207,207,207)"/>
<circle cx="343.42" cy="428.95" r="1.00" fill="#747474" />
<circle cx="346.12" cy="429.65" r="1.00" fill="#727272" />
<ellipse cx="347.38" cy="423.15" rx="1.5" ry="1.85" fill="rgb(234,234,234)"/>
<ellipse cx="350.26" cy="425.85" rx="1.5" ry="1.85" fill="rgb(186,186,186)"/>
<circle cx="348.94" cy="428.95" r="1.00" fill="#747474" />
<circle cx="351.64" cy="429.65" r="1.00" fill="#727272" />
<ellipse cx="352.96" cy="423.15" rx="1.5" ry="1.85" fill="rgb(218,218,218)"/>
<ellipse cx="355.53" cy="425.85" rx="1.5" ry="1.85" fill="rgb(197,197,197)"/>
<circle cx="354.46" cy="428.95" r="1.00" fill="#747474" />
<circle cx="357.16" cy="429.65" r="1.00" fill="#727272" />
<ellipse cx="358.78" cy="423.15" rx="1.5" ry="1.85" fill="rgb(232,232,232)"/>
<ellipse cx="361.48" cy="425.85" rx="1.5" ry="1.85" fill="rgb(224,224,224)"/>
<circle cx="359.98" cy="428.95" r="1.00" fill="#747474" />
<circle cx="362.68" cy="429.65" r="1.00" fill="#727272" />
<ellipse cx="364.12" cy="423.15" rx="1.5" ry="1.85" fill="rgb(201,201,201)"/>
<ellipse cx="366.66" cy="425.85" rx="1.5" ry="1.85" fill="rgb(202,202,202)"/>
<circle cx="365.50" cy="428.95" r="1.00" fill="#747474" />
<circle cx="368.20" cy="429.65" r="1.00" fill="#727272" />
<ellipse cx="369.59" cy="423.15" rx="1.5" ry="1.85" fill="rgb(240,240,240)"/>
<ellipse cx="372.64" cy="425.85" rx="1.5" ry="1.85" fill="rgb(194,194,194)"/>
<circle cx="371.02" cy="428.95" r="1.00" fill="#747474" />
<circle cx="373.72" cy="429.65" r="1.00" fill="#727272" />
<ellipse cx="375.04" cy="423.15" rx="1.5" ry="1.85" fill="rgb(222,222,222)"/>
<ellipse cx="377.87" cy="425.85" rx="1.5" ry="1.85" fill="rgb(192,192,192)"/>
<circle cx="376.54" cy="428.95" r="1.00" fill="#747474" />
<circle cx="379.24" cy="429.65" r="1.00" fill="#727272" />
<ellipse cx="380.72" cy="423.15" rx="1.5" ry="1.85" fill="rgb(209,209,209)"/>
<ellipse cx="383.22" cy="425.85" rx="1.5" ry="1.85" fill="rgb(214,214,214)"/>
<circle cx="382.06" cy="428.95" r="1.00" fill="#747474" />
<circle cx="384.76" cy="429.65" r="1.00" fill="#727272" />
<ellipse cx="386.44" cy="423.15" rx="1.5" ry="1.85" fill="rgb(198,198,198)"/>
<ellipse cx="388.96" cy="425.85" rx="1.5" ry="1.85" fill="rgb(227,227,227)"/>
<circle cx="387.58" cy="428.95" r="1.00" fill="#747474" />
<circle cx="390.28" cy="429.65" r="1.00" fill="#727272" />
<ellipse cx="391.40" cy="423.15" rx="1.5" ry="1.85" fill="rgb(226,226,226)"/>
<ellipse cx="394.24" cy="425.85" rx="1.5" ry="1.85" fill="rgb(223,223,223)"/>
<circle cx="393.10" cy="428.95" r="1.00" fill="#747474" />
<circle cx="395.80" cy="429.65" r="1.00" fill="#727272" />
<ellipse cx="396.95" cy="423.15" rx="1.5" ry="1.85" fill="rgb(221,221,221)"/>
<ellipse cx="400.27" cy="425.85" rx="1.5" ry="1.85" fill="rgb(228,228,228)"/>
<circle cx="398.62" cy="428.95" r="1.00" fill="#747474" />
<circle cx="401.32" cy="429.65" r="1.00" fill="#727272" />
<ellipse cx="402.58" cy="423.15" rx="1.5" ry="1.85" fill="rgb(197,197,197)"/>
<ellipse cx="405.62" cy="425.85" rx="1.5" ry="1.85" fill="rgb(221,221,221)"/>
<circle cx="404.14" cy="428.95" r="1.00" fill="#747474" />
<circle cx="406.84" cy="429.65" r="1.00" fill="#727272" />
<ellipse cx="408.24" cy="423.15" rx="1.5" ry="1.85" fill="rgb(217,217,217)"/>
<ellipse cx="410.84" cy="425.85" rx="1.5" ry="1.85" fill="rgb(210,210,210)"/>
<circle cx="409.66" cy="428.95" r="1.00" fill="#747474" />
<circle cx="412.36" cy="429.65" r="1.00" fill="#727272" />
<ellipse cx="413.82" cy="423.15" rx="1.5" ry="1.85" fill="rgb(207,207,207)"/>
<ellipse cx="416.45" cy="425.85" rx="1.5" ry="1.85" fill="rgb(204,204,204)"/>
<circle cx="415.18" cy="428.95" r="1.00" fill="#747474" />
<circle cx="417.88" cy="429.65" r="1.00" fill="#727272" />
<ellipse cx="419.21" cy="423.15" rx="1.5" ry="1.85" fill="rgb(210,210,210)"/>
<ellipse cx="421.91" cy="425.85" rx="1.5" ry="1.85" fill="rgb(208,208,208)"/>
<circle cx="420.70" cy="428.95" r="1.00" fill="#747474" />
<circle cx="423.40" cy="429.65" r="1.00" fill="#727272" />
<ellipse cx="424.89" cy="423.15" rx="1.5" ry="1.85" fill="rgb(237,237,237)"/>
<ellipse cx="427.52" cy="425.85" rx="1.5" ry="1.85" fill="rgb(188,188,188)"/>
<circle cx="426.22" cy="428.95" r="1.00" fill="#747474" />
<circle cx="428.92" cy="429.65" r="1.00" fill="#727272" />
<ellipse cx="430.54" cy="423.15" rx="1.5" ry="1.85" fill="rgb(204,204,204)"/>
<ellipse cx="433.09" cy="425.85" rx="1.5" ry="1.85" fill="rgb(194,194,194)"/>
<circle cx="431.74" cy="428.95" r="1.00" fill="#747474" />
<circle cx="434.44" cy="429.65" r="1.00" fill="#727272" />
<ellipse cx="435.66" cy="423.15" rx="1.5" ry="1.85" fill="rgb(197,197,197)"/>
<ellipse cx="438.38" cy="425.85" rx="1.5" ry="1.85" fill="rgb(191,191,191)"/>
<circle cx="437.26" cy="428.95" r="1.00" fill="#747474" />
<circle cx="439.96" cy="429.65" r="1.00" fill="#727272" />
<ellipse cx="441.62" cy="423.15" rx="1.5" ry="1.85" fill="rgb(240,240,240)"/>
<ellipse cx="443.96" cy="425.85" rx="1.5" ry="1.85" fill="rgb(203,203,203)"/>
<circle cx="442.78" cy="428.95" r="1.00" fill="#747474" />
<circle cx="445.48" cy="429.65" r="1.00" fill="#727272" />
<ellipse cx="447.01" cy="423.15" rx="1.5" ry="1.85" fill="rgb(215,215,215)"/>
<ellipse cx="449.88" cy="425.85" rx="1.5" ry="1.85" fill="rgb(215,215,215)"/>
<circle cx="448.30" cy="428.95" r="1.00" fill="#747474" />
<circle cx="451.00" cy="429.65" r="1.00" fill="#727272" />
<ellipse cx="452.60" cy="423.15" rx="1.5" ry="1.85" fill="rgb(234,234,234)"/>
<ellipse cx="455.11" cy="425.85" rx="1.5" ry="1.85" fill="rgb(190,190,190)"/>
<circle cx="453.82" cy="428.95" r="1.00" fill="#747474" />
<circle cx="456.52" cy="429.65" r="1.00" fill="#727272" />
<ellipse cx="457.95" cy="423.15" rx="1.5" ry="1.85" fill="rgb(195,195,195)"/>
<ellipse cx="460.75" cy="425.85" rx="1.5" ry="1.85" fill="rgb(191,191,191)"/>
<circle cx="459.34" cy="428.95" r="1.00" fill="#747474" />
<circle cx="462.04" cy="429.65" r="1.00" fill="#727272" />
<ellipse cx="463.17" cy="423.15" rx="1.5" ry="1.85" fill="rgb(206,206,206)"/>
<ellipse cx="466.33" cy="425.85" rx="1.5" ry="1.85" fill="rgb(209,209,209)"/>
<circle cx="464.86" cy="428.95" r="1.00" fill="#747474" />
<circle cx="467.56" cy="429.65" r="1.00" fill="#727272" />
<ellipse cx="468.99" cy="423.15" rx="1.5" ry="1.85" fill="rgb(234,234,234)"/>
<ellipse cx="471.74" cy="425.85" rx="1.5" ry="1.85" fill="rgb(204,204,204)"/>
<circle cx="470.38" cy="428.95" r="1.00" fill="#747474" />
<circle cx="473.08" cy="429.65" r="1.00" fill="#727272" />
<ellipse cx="335.41" cy="432.00" rx="1.5" ry="1.85" fill="rgb(229,229,229)"/>
<ellipse cx="338.03" cy="434.70" rx="1.5" ry="1.85" fill="rgb(230,230,230)"/>
<circle cx="336.70" cy="437.80" r="1.00" fill="#747474" />
<circle cx="339.40" cy="438.50" r="1.00" fill="#727272" />
<ellipse cx="340.85" cy="432.00" rx="1.5" ry="1.85" fill="rgb(232,232,232)"/>
<ellipse cx="343.32" cy="434.70" rx="1.5" ry="1.85" fill="rgb(229,229,229)"/>
<circle cx="342.22" cy="437.80" r="1.00" fill="#747474" />
<circle cx="344.92" cy="438.50" r="1.00" fill="#727272" />
<ellipse cx="346.26" cy="432.00" rx="1.5" ry="1.85" fill="rgb(204,204,204)"/>
<ellipse cx="349.16" cy="434.70" rx="1.5" ry="1.85" fill="rgb(211,211,211)"/>
<circle cx="347.74" cy="437.80" r="1.00" fill="#747474" />
<circle cx="350.44" cy="438.50" r="1.00" fill="#727272" />
<ellipse cx="351.68" cy="432.00" rx="1.5" ry="1.85" fill="rgb(238,238,238)"/>
<ellipse cx="354.49" cy="434.70" rx="1.5" ry="1.85" fill="rgb(218,218,218)"/>
<circle cx="353.26" cy="437.80" r="1.00" fill="#747474" />
<circle cx="355.96" cy="438.50" r="1.00" fill="#727272" />
<ellipse cx="357.54" cy="432.00" rx="1.5" ry="1.85" fill="rgb(196,196,196)"/>
<ellipse cx="360.21" cy="434.70" rx="1.5" ry="1.85" fill="rgb(190,190,190)"/>
<circle cx="358.78" cy="437.80" r="1.00" fill="#747474" />
<circle cx="361.48" cy="438.50" r="1.00" fill="#727272" />
<ellipse cx="362.78" cy="432.00" rx="1.5" ry="1.85" fill="rgb(240,240,240)"/>
<ellipse cx="365.92" cy="434.70" rx="1.5" ry="1.85" fill="rgb(211,211,211)"/>
<circle cx="364.30" cy="437.80" r="1.00" fill="#747474" />
<circle cx="367.00" cy="438.50" r="1.00" fill="#727272" />
<ellipse cx="368.26" cy="432.00" rx="1.5" ry="1.85" fill="rgb(212,212,212)"/>
<ellipse cx="370.90" cy="434.70" rx="1.5" ry="1.85" fill="rgb(230,230,230)"/>
<circle cx="369.82" cy="437.80" r="1.00" fill="#747474" />
<circle cx="372.52" cy="438.50" r="1.00" fill="#727272" />
<ellipse cx="374.22" cy="432.00" rx="1.5" ry="1.85" fill="rgb(200,200,200)"/>
<ellipse cx="376.58" cy="434.70" rx="1.5" ry="1.85" fill="rgb(227,227,227)"/>
<circle cx="375.34" cy="437.80" r="1.00" fill="#747474" />
<circle cx="378.04" cy="438.50" r="1.00" fill="#727272" />
<ellipse cx="379.64" cy="432.00" rx="1.5" ry="1.85" fill="rgb(217,217,217)"/>
<ellipse cx="382.48" cy="434.70" rx="1.5" ry="1.85" fill="rgb(229,229,229)"/>
<circle cx="380.86" cy="437.80" r="1.00" fill="#747474" />
<circle cx="383.56" cy="438.50" r="1.00" fill="#727272" />
<ellipse cx="385.02" cy="432.00" rx="1.5" ry="1.85" fill="rgb(233,233,233)"/>
<ellipse cx="387.73" cy="434.70" rx="1.5" ry="1.85" fill="rgb(224,224,224)"/>
<circle cx="386.38" cy="437.80" r="1.00" fill="#747474" />
<circle cx="389.08" cy="438.50" r="1.00" fill="#727272" />
<ellipse cx="390.34" cy="432.00" rx="1.5" ry="1.85" fill="rgb(200,200,200)"/>
<ellipse cx="393.54" cy="434.70" rx="1.5" ry="1.85" fill="rgb(192,192,192)"/>
<circle cx="391.90" cy="437.80" r="1.00" fill="#747474" />
<circle cx="394.60" cy="438.50" r="1.00" fill="#727272" />
<ellipse cx="395.96" cy="432.00" rx="1.5" ry="1.85" fill="rgb(229,229,229)"/>
<ellipse cx="398.48" cy="434.70" rx="1.5" ry="1.85" fill="rgb(212,212,212)"/>
<circle cx="397.42" cy="437.80" r="1.00" fill="#747474" />
<circle cx="400.12" cy="438.50" r="1.00" fill="#727272" />
<ellipse cx="401.35" cy="432.00" rx="1.5" ry="1.85" fill="rgb(219,219,219)"/>
<ellipse cx="404.39" cy="434.70" rx="1.5" ry="1.85" fill="rgb(209,209,209)"/>
<circle cx="402.94" cy="437.80" r="1.00" fill="#747474" />
<circle cx="405.64" cy="438.50" r="1.00" fill="#727272" />
<ellipse cx="407.13" cy="432.00" rx="1.5" ry="1.85" fill="rgb(208,208,208)"/>
<ellipse cx="409.75" cy="434.70" rx="1.5" ry="1.85" fill="rgb(228,228,228)"/>
<circle cx="408.46" cy="437.80" r="1.00" fill="#747474" />
<circle cx="411.16" cy="438.50" r="1.00" fill="#727272" />
<ellipse cx="412.81" cy="432.00" rx="1.5" ry="1.85" fill="rgb(201,201,201)"/>
<ellipse cx="415.45" cy="434.70" rx="1.5" ry="1.85" fill="rgb(229,229,229)"/>
<circle cx="413.98" cy="437.80" r="1.00" fill="#747474" />
<circle cx="416.68" cy="438.50" r="1.00" fill="#727272" />
<ellipse cx="418.33" cy="432.00" rx="1.5" ry="1.85" fill="rgb(218,218,218)"/>
<ellipse cx="420.69" cy="434.70" rx="1.5" ry="1.85" fill="rgb(200,200,200)"/>
<circle cx="419.50" cy="437.80" r="1.00" fill="#747474" />
<circle cx="422.20" cy="438.50" r="1.00" fill="#727272" />
<ellipse cx="423.80" cy="432.00" rx="1.5" ry="1.85" fill="rgb(214,214,214)"/>
<ellipse cx="426.13" cy="434.70" rx="1.5" ry="1.85" fill="rgb(202,202,202)"/>
<circle cx="425.02" cy="437.80" r="1.00" fill="#747474" />
<circle cx="427.72" cy="438.50" r="1.00" fill="#727272" />
<ellipse cx="429.22" cy="432.00" rx="1.5" ry="1.85" fill="rgb(205,205,205)"/>
<ellipse cx="432.06" cy="434.70" rx="1.5" ry="1.85" fill="rgb(189,189,189)"/>
<circle cx="430.54" cy="437.80" r="1.00" fill="#747474" />
<circle cx="433.24" cy="438.50" r="1.00" fill="#727272" />
<ellipse cx="434.40" cy="432.00" rx="1.5" ry="1.85" fill="rgb(209,209,209)"/>
<ellipse cx="437.46" cy="434.70" rx="1.5" ry="1.85" fill="rgb(226,226,226)"/>
<circle cx="436.06" cy="437.80" r="1.00" fill="#747474" />
<circle cx="438.76" cy="438.50" r="1.00" fill="#727272" />
<ellipse cx="440.32" cy="432.00" rx="1.5" ry="1.85" fill="rgb(235,235,235)"/>
<ellipse cx="442.89" cy="434.70" rx="1.5" ry="1.85" fill="rgb(219,219,219)"/>
<circle cx="441.58" cy="437.80" r="1.00" fill="#747474" />
<circle cx="444.28" cy="438.50" r="1.00" fill="#727272" />
<ellipse cx="445.72" cy="432.00" rx="1.5" ry="1.85" fill="rgb(222,222,222)"/>
<ellipse cx="448.70" cy="434.70" rx="1.5" ry="1.85" fill="rgb(215,215,215)"/>
<circle cx="447.10" cy="437.80" r="1.00" fill="#747474" />
<circle cx="449.80" cy="438.50" r="1.00" fill="#727272" />
<ellipse cx="451.09" cy="432.00" rx="1.5" ry="1.85" fill="rgb(214,214,214)"/>
<ellipse cx="454.04" cy="434.70" rx="1.5" ry="1.85" fill="rgb(211,211,211)"/>
<circle cx="452.62" cy="437.80" r="1.00" fill="#747474" />
<circle cx="455.32" cy="438.50" r="1.00" fill="#727272" />
<ellipse cx="456.69" cy="432.00" rx="1.5" ry="1.85" fill="rgb(216,216,216)"/>
<ellipse cx="459.29" cy="434.70" rx="1.5" ry="1.85" fill="rgb(196,196,196)"/>
<circle cx="458.14" cy="437.80" r="1.00" fill="#747474" />
<circle cx="460.84" cy="438.50" r="1.00" fill="#727272" />
<ellipse cx="462.29" cy="432.00" rx="1.5" ry="1.85" fill="rgb(213,213,213)"/>
<ellipse cx="465.06" cy="434.70" rx="1.5" ry="1.85" fill="rgb(221,221,221)"/>
<circle cx="463.66" cy="437.80" r="1.00" fill="#747474" />
<circle cx="466.36" cy="438.50" r="1.00" fill="#727272" />
<ellipse cx="467.68" cy="432.00" rx="1.5" ry="1.85" fill="rgb(222,222,222)"/>
<ellipse cx="470.30" cy="434.70" rx="1.5" ry="1.85" fill="rgb(197,197,197)"/>
<circle cx="469.18" cy="437.80" r="1.00" fill="#747474" />
<circle cx="471.88" cy="438.50" r="1.00" fill="#727272" />
<ellipse cx="336.64" cy="440.85" rx="1.5" ry="1.85" fill="rgb(239,239,239)"/>
<ellipse cx="339.00" cy="443.55" rx="1.5" ry="1.85" fill="rgb(206,206,206)"/>
<circle cx="337.90" cy="446.65" r="1.00" fill="#747474" />
<circle cx="340.60" cy="447.35" r="1.00" fill="#727272" />
<ellipse cx="342.22" cy="440.85" rx="1.5" ry="1.85" fill="rgb(226,226,226)"/>
<ellipse cx="345.05" cy="443.55" rx="1.5" ry="1.85" fill="rgb(193,193,193)"/>
<circle cx="343.42" cy="446.65" r="1.00" fill="#747474" />
<circle cx="346.12" cy="447.35" r="1.00" fill="#727272" />
<ellipse cx="347.75" cy="440.85" rx="1.5" ry="1.85" fill="rgb(215,215,215)"/>
<ellipse cx="350.39" cy="443.55" rx="1.5" ry="1.85" fill="rgb(197,197,197)"/>
<circle cx="348.94" cy="446.65" r="1.00" fill="#747474" />
<circle cx="351.64" cy="447.35" r="1.00" fill="#727272" />
<ellipse cx="353.13" cy="440.85" rx="1.5" ry="1.85" fill="rgb(209,209,209)"/>
<ellipse cx="356.00" cy="443.55" rx="1.5" ry="1.85" fill="rgb(229,229,229)"/>
<circle cx="354.46" cy="446.65" r="1.00" fill="#747474" />
<circle cx="357.16" cy="447.35" r="1.00" fill="#727272" />
<ellipse cx="358.40" cy="440.85" rx="1.5" ry="1.85" fill="rgb(201,201,201)"/>
<ellipse cx="361.13" cy="443.55" rx="1.5" ry="1.85" fill="rgb(185,185,185)"/>
<circle cx="359.98" cy="446.65" r="1.00" fill="#747474" />
<circle cx="362.68" cy="447.35" r="1.00" fill="#727272" />
<ellipse cx="363.89" cy="440.85" rx="1.5" ry="1.85" fill="rgb(200,200,200)"/>
<ellipse cx="366.93" cy="443.55" rx="1.5" ry="1.85" fill="rgb(206,206,206)"/>
<circle cx="365.50" cy="446.65" r="1.00" fill="#747474" />
<circle cx="368.20" cy="447.35" r="1.00" fill="#727272" />
<ellipse cx="369.77" cy="440.85" rx="1.5" ry="1.85" fill="rgb(201,201,201)"/>
<ellipse cx="372.52" cy="443.55" rx="1.5" ry="1.85" fill="rgb(221,221,221)"/>
<circle cx="371.02" cy="446.65" r="1.00" fill="#747474" />
<circle cx="373.72" cy="447.35" r="1.00" fill="#727272" />
<ellipse cx="375.38" cy="440.85" rx="1.5" ry="1.85" fill="rgb(206,206,206)"/>
<ellipse cx="377.93" cy="443.55" rx="1.5" ry="1.85" fill="rgb(230,230,230)"/>
<circle cx="376.54" cy="446.65" r="1.00" fill="#747474" />
<circle cx="379.24" cy="447.35" r="1.00" fill="#727272" />
<ellipse cx="380.88" cy="440.85" rx="1.5" ry="1.85" fill="rgb(232,232,232)"/>
<ellipse cx="383.64" cy="443.55" rx="1.5" ry="1.85" fill="rgb(225,225,225)"/>
<circle cx="382.06" cy="446.65" r="1.00" fill="#747474" />
<circle cx="384.76" cy="447.35" r="1.00" fill="#727272" />
<ellipse cx="386.37" cy="440.85" rx="1.5" ry="1.85" fill="rgb(218,218,218)"/>
<ellipse cx="388.76" cy="443.55" rx="1.5" ry="1.85" fill="rgb(191,191,191)"/>
<circle cx="387.58" cy="446.65" r="1.00" fill="#747474" />
<circle cx="390.28" cy="447.35" r="1.00" fill="#727272" />
<ellipse cx="391.50" cy="440.85" rx="1.5" ry="1.85" fill="rgb(215,215,215)"/>
<ellipse cx="394.69" cy="443.55" rx="1.5" ry="1.85" fill="rgb(208,208,208)"/>
<circle cx="393.10" cy="446.65" r="1.00" fill="#747474" />
<circle cx="395.80" cy="447.35" r="1.00" fill="#727272" />
<ellipse cx="397.16" cy="440.85" rx="1.5" ry="1.85" fill="rgb(200,200,200)"/>
<ellipse cx="400.01" cy="443.55" rx="1.5" ry="1.85" fill="rgb(200,200,200)"/>
<circle cx="398.62" cy="446.65" r="1.00" fill="#747474" />
<circle cx="401.32" cy="447.35" r="1.00" fill="#727272" />
<ellipse cx="402.51" cy="440.85" rx="1.5" ry="1.85" fill="rgb(219,219,219)"/>
<ellipse cx="405.56" cy="443.55" rx="1.5" ry="1.85" fill="rgb(185,185,185)"/>
<circle cx="404.14" cy="446.65" r="1.00" fill="#747474" />
<circle cx="406.84" cy="447.35" r="1.00" fill="#727272" />
<ellipse cx="408.37" cy="440.85" rx="1.5" ry="1.85" fill="rgb(218,218,218)"/>
<ellipse cx="411.02" cy="443.55" rx="1.5" ry="1.85" fill="rgb(193,193,193)"/>
<circle cx="409.66" cy="446.65" r="1.00" fill="#747474" />
<circle cx="412.36" cy="447.35" r="1.00" fill="#727272" />
<ellipse cx="413.77" cy="440.85" rx="1.5" ry="1.85" fill="rgb(216,216,216)"/>
<ellipse cx="416.80" cy="443.55" rx="1.5" ry="1.85" fill="rgb(189,189,189)"/>
<circle cx="415.18" cy="446.65" r="1.00" fill="#747474" />
<circle cx="417.88" cy="447.35" r="1.00" fill="#727272" />
<ellipse cx="419.01" cy="440.85" rx="1.5" ry="1.85" fill="rgb(240,240,240)"/>
<ellipse cx="422.25" cy="443.55" rx="1.5" ry="1.85" fill="rgb(203,203,203)"/>
<circle cx="420.70" cy="446.65" r="1.00" fill="#747474" />
<circle cx="423.40" cy="447.35" r="1.00" fill="#727272" />
<ellipse cx="425.07" cy="440.85" rx="1.5" ry="1.85" fill="rgb(217,217,217)"/>
<ellipse cx="427.51" cy="443.55" rx="1.5" ry="1.85" fill="rgb(197,197,197)"/>
<circle cx="426.22" cy="446.65" r="1.00" fill="#747474" />
<circle cx="428.92" cy="447.35" r="1.00" fill="#727272" />
<ellipse cx="430.43" cy="440.85" rx="1.5" ry="1.85" fill="rgb(213,213,213)"/>
<ellipse cx="433.26" cy="443.55" rx="1.5" ry="1.85" fill="rgb(216,216,216)"/>
<circle cx="431.74" cy="446.65" r="1.00" fill="#747474" />
<circle cx="434.44" cy="447.35" r="1.00" fill="#727272" />
<ellipse cx="435.63" cy="440.85" rx="1.5" ry="1.85" fill="rgb(200,200,200)"/>
<ellipse cx="438.56" cy="443.55" rx="1.5" ry="1.85" fill="rgb(221,221,221)"/>
<circle cx="437.26" cy="446.65" r="1.00" fill="#747474" />
<circle cx="439.96" cy="447.35" r="1.00" fill="#727272" />
<ellipse cx="441.34" cy="440.85" rx="1.5" ry="1.85" fill="rgb(199,199,199)"/>
<ellipse cx="443.97" cy="443.55" rx="1.5" ry="1.85" fill="rgb(218,218,218)"/>
<circle cx="442.78" cy="446.65" r="1.00" fill="#747474" />
<circle cx="445.48" cy="447.35" r="1.00" fill="#727272" />
<ellipse cx="447.00" cy="440.85" rx="1.5" ry="1.85" fill="rgb(210,210,210)"/>
<ellipse cx="449.40" cy="443.55" rx="1.5" ry="1.85" fill="rgb(202,202,202)"/>
<circle cx="448.30" cy="446.65" r="1.00" fill="#747474" />
<circle cx="451.00" cy="447.35" r="1.00" fill="#727272" />
<ellipse cx="452.45" cy="440.85" rx="1.5" ry="1.85" fill="rgb(212,212,212)"/>
<ellipse cx="455.14" cy="443.55" rx="1.5" ry="1.85" fill="rgb(191,191,191)"/>
<circle cx="453.82" cy="446.65" r="1.00" fill="#747474" />
<circle cx="456.52" cy="447.35" r="1.00" fill="#727272" />
<ellipse cx="458.15" cy="440.85" rx="1.5" ry="1.85" fill="rgb(206,206,206)"/>
<ellipse cx="460.91" cy="443.55" rx="1.5" ry="1.85" fill="rgb(219,219,219)"/>
<circle cx="459.34" cy="446.65" r="1.00" fill="#747474" />
<circle cx="462.04" cy="447.35" r="1.00" fill="#727272" />
<ellipse cx="463.43" cy="440.85" rx="1.5" ry="1.85" fill="rgb(210,210,210)"/>
<ellipse cx="466.00" cy="443.55" rx="1.5" ry="1.85" fill="rgb(190,190,190)"/>
<circle cx="464.86" cy="446.65" r="1.00" fill="#747474" />
<circle cx="467.56" cy="447.35" r="1.00" fill="#727272" />
<ellipse cx="469.17" cy="440.85" rx="1.5" ry="1.85" fill="rgb(200,200,200)"/>
<ellipse cx="471.52" cy="443.55" rx="1.5" ry="1.85" fill="rgb(185,185,185)"/>
<circle cx="470.38" cy="446.65" r="1.00" fill="#747474" />
<circle cx="473.08" cy="447.35" r="1.00" fill="#727272" />
<rect x="332.80" y="449.80" width="137.00" height="3.00" fill="#1c1c1c" />
<rect x="332.80" y="458.80" width="137.00" height="5.00" fill="#2e2e2e" />
<rect x="332.80" y="468.60" width="137.00" height="4.40" fill="#2a2a2a" />
</g></g>
<rect x="411.80" y="393.50" width="58.00" height="20.50" fill="#74c6ec" />
<text x="418.40" y="408.00" font-size="10.6" text-anchor="start" fill="#fff" >Sm<tspan font-size="6.4" dy="2.4">2</tspan><tspan font-size="10.6" dy="-2.4">O</tspan><tspan font-size="6.4" dy="2.4">2</tspan><tspan font-size="10.6" dy="-2.4">SO</tspan><tspan font-size="6.4" dy="2.4">4</tspan></text>
<rect x="432.90" y="453.60" width="36.90" height="16.20" fill="#b0700e" />
<text x="440.60" y="465.80" font-size="10.4" text-anchor="start" fill="#fff" >MoS<tspan font-size="6.4" dy="2.4">2</tspan></text>
<rect x="432.90" y="472.20" width="36.90" height="16.20" fill="#a88bc6" />
<text x="442.00" y="484.00" font-size="10.4" text-anchor="start" fill="#fff" >SiO<tspan font-size="6.4" dy="2.4">2</tspan></text>
<text x="347.20" y="458.80" font-size="10.2" text-anchor="start" fill="#fff" >5.6 Å</text>
<line x1="380.00" y1="449.80" x2="411.80" y2="449.80" stroke="#fff" stroke-width="0.9" stroke-dasharray="0.9,0.7"/>
<line x1="380.00" y1="460.40" x2="411.80" y2="460.40" stroke="#fff" stroke-width="0.9" stroke-dasharray="0.9,0.7"/>
<line x1="396.20" y1="432.40" x2="396.20" y2="444.50" stroke="#fff" stroke-width="1.1" /><polygon points="396.20,447.40 394.20,443.40 398.20,443.40" fill="#fff" /><polygon points="396.20,431.80 394.20,435.60 398.20,435.60" fill="#fff" />
<line x1="396.20" y1="477.80" x2="396.20" y2="465.20" stroke="#fff" stroke-width="1.2" /><polygon points="396.20,462.40 394.00,466.60 398.40,466.60" fill="#fff" />
<rect x="339.00" y="479.20" width="30.80" height="3.00" fill="#fff" />
<text x="514.60" y="359.60" font-size="14.5" text-anchor="start" fill="#000" >h</text>
<clipPath id="cph"><rect x="525.3" y="353.0" width="157.1" height="130.6"/></clipPath>
<g clip-path="url(#cph)"><line x1="535.70" y1="367.40" x2="540.85" y2="364.85" stroke="#f2ef9a" stroke-width="1.3" /><line x1="540.85" y1="364.85" x2="546.00" y2="362.30" stroke="#8ee6e6" stroke-width="1.3" /><line x1="535.70" y1="367.40" x2="540.85" y2="373.25" stroke="#f2ef9a" stroke-width="1.3" /><line x1="540.85" y1="373.25" x2="546.00" y2="379.10" stroke="#8ee6e6" stroke-width="1.3" /><line x1="556.40" y1="367.40" x2="551.20" y2="364.85" stroke="#f2ef9a" stroke-width="1.3" /><line x1="551.20" y1="364.85" x2="546.00" y2="362.30" stroke="#8ee6e6" stroke-width="1.3" /><line x1="556.40" y1="367.40" x2="551.20" y2="373.25" stroke="#f2ef9a" stroke-width="1.3" /><line x1="551.20" y1="373.25" x2="546.00" y2="379.10" stroke="#8ee6e6" stroke-width="1.3" /><line x1="535.70" y1="385.68" x2="540.85" y2="383.13" stroke="#f2ef9a" stroke-width="1.3" /><line x1="540.85" y1="383.13" x2="546.00" y2="380.58" stroke="#8ee6e6" stroke-width="1.3" /><line x1="535.70" y1="385.68" x2="540.85" y2="391.53" stroke="#f2ef9a" stroke-width="1.3" /><line x1="540.85" y1="391.53" x2="546.00" y2="397.38" stroke="#8ee6e6" stroke-width="1.3" /><line x1="556.40" y1="385.68" x2="551.20" y2="383.13" stroke="#f2ef9a" stroke-width="1.3" /><line x1="551.20" y1="383.13" x2="546.00" y2="380.58" stroke="#8ee6e6" stroke-width="1.3" /><line x1="556.40" y1="385.68" x2="551.20" y2="391.53" stroke="#f2ef9a" stroke-width="1.3" /><line x1="551.20" y1="391.53" x2="546.00" y2="397.38" stroke="#8ee6e6" stroke-width="1.3" /><line x1="535.70" y1="403.96" x2="540.85" y2="401.41" stroke="#f2ef9a" stroke-width="1.3" /><line x1="540.85" y1="401.41" x2="546.00" y2="398.86" stroke="#8ee6e6" stroke-width="1.3" /><line x1="535.70" y1="403.96" x2="540.85" y2="409.81" stroke="#f2ef9a" stroke-width="1.3" /><line x1="540.85" y1="409.81" x2="546.00" y2="415.66" stroke="#8ee6e6" stroke-width="1.3" /><line x1="556.40" y1="403.96" x2="551.20" y2="401.41" stroke="#f2ef9a" stroke-width="1.3" /><line x1="551.20" y1="401.41" x2="546.00" y2="398.86" stroke="#8ee6e6" stroke-width="1.3" /><line x1="556.40" y1="403.96" x2="551.20" y2="409.81" stroke="#f2ef9a" stroke-width="1.3" /><line x1="551.20" y1="409.81" x2="546.00" y2="415.66" stroke="#8ee6e6" stroke-width="1.3" /><line x1="535.70" y1="422.24" x2="540.85" y2="419.69" stroke="#f2ef9a" stroke-width="1.3" /><line x1="540.85" y1="419.69" x2="546.00" y2="417.14" stroke="#8ee6e6" stroke-width="1.3" /><line x1="535.70" y1="422.24" x2="540.85" y2="428.09" stroke="#f2ef9a" stroke-width="1.3" /><line x1="540.85" y1="428.09" x2="546.00" y2="433.94" stroke="#8ee6e6" stroke-width="1.3" /><line x1="556.40" y1="422.24" x2="551.20" y2="419.69" stroke="#f2ef9a" stroke-width="1.3" /><line x1="551.20" y1="419.69" x2="546.00" y2="417.14" stroke="#8ee6e6" stroke-width="1.3" /><line x1="556.40" y1="422.24" x2="551.20" y2="428.09" stroke="#f2ef9a" stroke-width="1.3" /><line x1="551.20" y1="428.09" x2="546.00" y2="433.94" stroke="#8ee6e6" stroke-width="1.3" /><line x1="535.70" y1="440.52" x2="540.85" y2="437.97" stroke="#f2ef9a" stroke-width="1.3" /><line x1="540.85" y1="437.97" x2="546.00" y2="435.42" stroke="#8ee6e6" stroke-width="1.3" /><line x1="535.70" y1="440.52" x2="540.85" y2="446.37" stroke="#f2ef9a" stroke-width="1.3" /><line x1="540.85" y1="446.37" x2="546.00" y2="452.22" stroke="#8ee6e6" stroke-width="1.3" /><line x1="556.40" y1="440.52" x2="551.20" y2="437.97" stroke="#f2ef9a" stroke-width="1.3" /><line x1="551.20" y1="437.97" x2="546.00" y2="435.42" stroke="#8ee6e6" stroke-width="1.3" /><line x1="556.40" y1="440.52" x2="551.20" y2="446.37" stroke="#f2ef9a" stroke-width="1.3" /><line x1="551.20" y1="446.37" x2="546.00" y2="452.22" stroke="#8ee6e6" stroke-width="1.3" /><line x1="535.70" y1="458.80" x2="540.85" y2="456.25" stroke="#f2ef9a" stroke-width="1.3" /><line x1="540.85" y1="456.25" x2="546.00" y2="453.70" stroke="#8ee6e6" stroke-width="1.3" /><line x1="535.70" y1="458.80" x2="540.85" y2="464.65" stroke="#f2ef9a" stroke-width="1.3" /><line x1="540.85" y1="464.65" x2="546.00" y2="470.50" stroke="#8ee6e6" stroke-width="1.3" /><line x1="556.40" y1="458.80" x2="551.20" y2="456.25" stroke="#f2ef9a" stroke-width="1.3" /><line x1="551.20" y1="456.25" x2="546.00" y2="453.70" stroke="#8ee6e6" stroke-width="1.3" /><line x1="556.40" y1="458.80" x2="551.20" y2="464.65" stroke="#f2ef9a" stroke-width="1.3" /><line x1="551.20" y1="464.65" x2="546.00" y2="470.50" stroke="#8ee6e6" stroke-width="1.3" /><line x1="535.70" y1="477.08" x2="540.85" y2="474.53" stroke="#f2ef9a" stroke-width="1.3" /><line x1="540.85" y1="474.53" x2="546.00" y2="471.98" stroke="#8ee6e6" stroke-width="1.3" /><line x1="535.70" y1="477.08" x2="540.85" y2="482.93" stroke="#f2ef9a" stroke-width="1.3" /><line x1="540.85" y1="482.93" x2="546.00" y2="488.78" stroke="#8ee6e6" stroke-width="1.3" /><line x1="556.40" y1="477.08" x2="551.20" y2="474.53" stroke="#f2ef9a" stroke-width="1.3" /><line x1="551.20" y1="474.53" x2="546.00" y2="471.98" stroke="#8ee6e6" stroke-width="1.3" /><line x1="556.40" y1="477.08" x2="551.20" y2="482.93" stroke="#f2ef9a" stroke-width="1.3" /><line x1="551.20" y1="482.93" x2="546.00" y2="488.78" stroke="#8ee6e6" stroke-width="1.3" /><ellipse cx="546" cy="361.4" rx="7.2" ry="3.8" fill="#7fe2e6"/><circle cx="546.00" cy="360.80" r="3.10" fill="#a8f0f0" /><circle cx="540.40" cy="361.40" r="2.20" fill="#7fe2e6" /><circle cx="551.60" cy="361.40" r="2.20" fill="#7fe2e6" /><circle cx="546.00" cy="357.40" r="2.00" fill="#7fe2e6" /><circle cx="546.00" cy="364.40" r="1.80" fill="#e8e880" /><circle cx="535.70" cy="367.40" r="2.80" fill="#eeea6a" /><circle cx="535.20" cy="366.80" r="1.30" fill="#f8f8b0" /><circle cx="556.40" cy="367.40" r="2.80" fill="#eeea6a" /><circle cx="555.90" cy="366.80" r="1.30" fill="#f8f8b0" /><ellipse cx="563.2" cy="366.6" rx="3.6" ry="5.0" fill="#7fe2e6"/><ellipse cx="546" cy="379.7" rx="7.2" ry="3.8" fill="#7fe2e6"/><circle cx="546.00" cy="379.08" r="3.10" fill="#a8f0f0" /><circle cx="540.40" cy="379.68" r="2.20" fill="#7fe2e6" /><circle cx="551.60" cy="379.68" r="2.20" fill="#7fe2e6" /><circle cx="546.00" cy="375.68" r="2.00" fill="#7fe2e6" /><circle cx="546.00" cy="382.68" r="1.80" fill="#e8e880" /><circle cx="535.70" cy="385.68" r="2.80" fill="#eeea6a" /><circle cx="535.20" cy="385.08" r="1.30" fill="#f8f8b0" /><circle cx="556.40" cy="385.68" r="2.80" fill="#eeea6a" /><circle cx="555.90" cy="385.08" r="1.30" fill="#f8f8b0" /><ellipse cx="563.2" cy="384.9" rx="3.6" ry="5.0" fill="#7fe2e6"/><ellipse cx="546" cy="398.0" rx="7.2" ry="3.8" fill="#7fe2e6"/><circle cx="546.00" cy="397.36" r="3.10" fill="#a8f0f0" /><circle cx="540.40" cy="397.96" r="2.20" fill="#7fe2e6" /><circle cx="551.60" cy="397.96" r="2.20" fill="#7fe2e6" /><circle cx="546.00" cy="393.96" r="2.00" fill="#7fe2e6" /><circle cx="546.00" cy="400.96" r="1.80" fill="#e8e880" /><circle cx="535.70" cy="403.96" r="2.80" fill="#eeea6a" /><circle cx="535.20" cy="403.36" r="1.30" fill="#f8f8b0" /><circle cx="556.40" cy="403.96" r="2.80" fill="#eeea6a" /><circle cx="555.90" cy="403.36" r="1.30" fill="#f8f8b0" /><ellipse cx="563.2" cy="403.2" rx="3.6" ry="5.0" fill="#7fe2e6"/><ellipse cx="546" cy="416.2" rx="7.2" ry="3.8" fill="#7fe2e6"/><circle cx="546.00" cy="415.64" r="3.10" fill="#a8f0f0" /><circle cx="540.40" cy="416.24" r="2.20" fill="#7fe2e6" /><circle cx="551.60" cy="416.24" r="2.20" fill="#7fe2e6" /><circle cx="546.00" cy="412.24" r="2.00" fill="#7fe2e6" /><circle cx="546.00" cy="419.24" r="1.80" fill="#e8e880" /><circle cx="535.70" cy="422.24" r="2.80" fill="#eeea6a" /><circle cx="535.20" cy="421.64" r="1.30" fill="#f8f8b0" /><circle cx="556.40" cy="422.24" r="2.80" fill="#eeea6a" /><circle cx="555.90" cy="421.64" r="1.30" fill="#f8f8b0" /><ellipse cx="563.2" cy="421.4" rx="3.6" ry="5.0" fill="#7fe2e6"/><ellipse cx="546" cy="434.5" rx="7.2" ry="3.8" fill="#7fe2e6"/><circle cx="546.00" cy="433.92" r="3.10" fill="#a8f0f0" /><circle cx="540.40" cy="434.52" r="2.20" fill="#7fe2e6" /><circle cx="551.60" cy="434.52" r="2.20" fill="#7fe2e6" /><circle cx="546.00" cy="430.52" r="2.00" fill="#7fe2e6" /><circle cx="546.00" cy="437.52" r="1.80" fill="#e8e880" /><circle cx="535.70" cy="440.52" r="2.80" fill="#eeea6a" /><circle cx="535.20" cy="439.92" r="1.30" fill="#f8f8b0" /><circle cx="556.40" cy="440.52" r="2.80" fill="#eeea6a" /><circle cx="555.90" cy="439.92" r="1.30" fill="#f8f8b0" /><ellipse cx="563.2" cy="439.7" rx="3.6" ry="5.0" fill="#7fe2e6"/><ellipse cx="546" cy="452.8" rx="7.2" ry="3.8" fill="#7fe2e6"/><circle cx="546.00" cy="452.20" r="3.10" fill="#a8f0f0" /><circle cx="540.40" cy="452.80" r="2.20" fill="#7fe2e6" /><circle cx="551.60" cy="452.80" r="2.20" fill="#7fe2e6" /><circle cx="546.00" cy="448.80" r="2.00" fill="#7fe2e6" /><circle cx="546.00" cy="455.80" r="1.80" fill="#e8e880" /><circle cx="535.70" cy="458.80" r="2.80" fill="#eeea6a" /><circle cx="535.20" cy="458.20" r="1.30" fill="#f8f8b0" /><circle cx="556.40" cy="458.80" r="2.80" fill="#eeea6a" /><circle cx="555.90" cy="458.20" r="1.30" fill="#f8f8b0" /><ellipse cx="563.2" cy="458.0" rx="3.6" ry="5.0" fill="#7fe2e6"/><ellipse cx="546" cy="471.1" rx="7.2" ry="3.8" fill="#7fe2e6"/><circle cx="546.00" cy="470.48" r="3.10" fill="#a8f0f0" /><circle cx="540.40" cy="471.08" r="2.20" fill="#7fe2e6" /><circle cx="551.60" cy="471.08" r="2.20" fill="#7fe2e6" /><circle cx="546.00" cy="467.08" r="2.00" fill="#7fe2e6" /><circle cx="546.00" cy="474.08" r="1.80" fill="#e8e880" /><circle cx="535.70" cy="477.08" r="2.80" fill="#eeea6a" /><circle cx="535.20" cy="476.48" r="1.30" fill="#f8f8b0" /><circle cx="556.40" cy="477.08" r="2.80" fill="#eeea6a" /><circle cx="555.90" cy="476.48" r="1.30" fill="#f8f8b0" /><ellipse cx="563.2" cy="476.3" rx="3.6" ry="5.0" fill="#7fe2e6"/><line x1="624.20" y1="363.80" x2="631.20" y2="370.30" stroke="#f0a8a8" stroke-width="1.1" /><line x1="624.20" y1="376.80" x2="631.20" y2="370.30" stroke="#f0a8a8" stroke-width="1.1" /><line x1="640.20" y1="360.60" x2="631.20" y2="370.30" stroke="#f0a8a8" stroke-width="1.1" /><line x1="640.20" y1="380.00" x2="631.20" y2="370.30" stroke="#f0a8a8" stroke-width="1.1" /><line x1="640.20" y1="360.60" x2="644.40" y2="370.30" stroke="#f0a8a8" stroke-width="1.1" /><line x1="640.20" y1="380.00" x2="644.40" y2="370.30" stroke="#f0a8a8" stroke-width="1.1" /><line x1="624.20" y1="363.80" x2="624.20" y2="357.40" stroke="#f0a8a8" stroke-width="1.0" /><line x1="617.90" y1="370.30" x2="631.20" y2="370.30" stroke="#9fd8ee" stroke-width="1.0" /><line x1="624.20" y1="383.15" x2="631.20" y2="389.65" stroke="#f0a8a8" stroke-width="1.1" /><line x1="624.20" y1="396.15" x2="631.20" y2="389.65" stroke="#f0a8a8" stroke-width="1.1" /><line x1="640.20" y1="379.95" x2="631.20" y2="389.65" stroke="#f0a8a8" stroke-width="1.1" /><line x1="640.20" y1="399.35" x2="631.20" y2="389.65" stroke="#f0a8a8" stroke-width="1.1" /><line x1="640.20" y1="379.95" x2="644.40" y2="389.65" stroke="#f0a8a8" stroke-width="1.1" /><line x1="640.20" y1="399.35" x2="644.40" y2="389.65" stroke="#f0a8a8" stroke-width="1.1" /><line x1="624.20" y1="383.15" x2="624.20" y2="376.75" stroke="#f0a8a8" stroke-width="1.0" /><line x1="617.90" y1="389.65" x2="631.20" y2="389.65" stroke="#9fd8ee" stroke-width="1.0" /><line x1="624.20" y1="402.50" x2="631.20" y2="409.00" stroke="#f0a8a8" stroke-width="1.1" /><line x1="624.20" y1="415.50" x2="631.20" y2="409.00" stroke="#f0a8a8" stroke-width="1.1" /><line x1="640.20" y1="399.30" x2="631.20" y2="409.00" stroke="#f0a8a8" stroke-width="1.1" /><line x1="640.20" y1="418.70" x2="631.20" y2="409.00" stroke="#f0a8a8" stroke-width="1.1" /><line x1="640.20" y1="399.30" x2="644.40" y2="409.00" stroke="#f0a8a8" stroke-width="1.1" /><line x1="640.20" y1="418.70" x2="644.40" y2="409.00" stroke="#f0a8a8" stroke-width="1.1" /><line x1="624.20" y1="402.50" x2="624.20" y2="396.10" stroke="#f0a8a8" stroke-width="1.0" /><line x1="617.90" y1="409.00" x2="631.20" y2="409.00" stroke="#9fd8ee" stroke-width="1.0" /><line x1="624.20" y1="421.85" x2="631.20" y2="428.35" stroke="#f0a8a8" stroke-width="1.1" /><line x1="624.20" y1="434.85" x2="631.20" y2="428.35" stroke="#f0a8a8" stroke-width="1.1" /><line x1="640.20" y1="418.65" x2="631.20" y2="428.35" stroke="#f0a8a8" stroke-width="1.1" /><line x1="640.20" y1="438.05" x2="631.20" y2="428.35" stroke="#f0a8a8" stroke-width="1.1" /><line x1="640.20" y1="418.65" x2="644.40" y2="428.35" stroke="#f0a8a8" stroke-width="1.1" /><line x1="640.20" y1="438.05" x2="644.40" y2="428.35" stroke="#f0a8a8" stroke-width="1.1" /><line x1="624.20" y1="421.85" x2="624.20" y2="415.45" stroke="#f0a8a8" stroke-width="1.0" /><line x1="617.90" y1="428.35" x2="631.20" y2="428.35" stroke="#9fd8ee" stroke-width="1.0" /><line x1="624.20" y1="441.20" x2="631.20" y2="447.70" stroke="#f0a8a8" stroke-width="1.1" /><line x1="624.20" y1="454.20" x2="631.20" y2="447.70" stroke="#f0a8a8" stroke-width="1.1" /><line x1="640.20" y1="438.00" x2="631.20" y2="447.70" stroke="#f0a8a8" stroke-width="1.1" /><line x1="640.20" y1="457.40" x2="631.20" y2="447.70" stroke="#f0a8a8" stroke-width="1.1" /><line x1="640.20" y1="438.00" x2="644.40" y2="447.70" stroke="#f0a8a8" stroke-width="1.1" /><line x1="640.20" y1="457.40" x2="644.40" y2="447.70" stroke="#f0a8a8" stroke-width="1.1" /><line x1="624.20" y1="441.20" x2="624.20" y2="434.80" stroke="#f0a8a8" stroke-width="1.0" /><line x1="617.90" y1="447.70" x2="631.20" y2="447.70" stroke="#9fd8ee" stroke-width="1.0" /><line x1="624.20" y1="460.55" x2="631.20" y2="467.05" stroke="#f0a8a8" stroke-width="1.1" /><line x1="624.20" y1="473.55" x2="631.20" y2="467.05" stroke="#f0a8a8" stroke-width="1.1" /><line x1="640.20" y1="457.35" x2="631.20" y2="467.05" stroke="#f0a8a8" stroke-width="1.1" /><line x1="640.20" y1="476.75" x2="631.20" y2="467.05" stroke="#f0a8a8" stroke-width="1.1" /><line x1="640.20" y1="457.35" x2="644.40" y2="467.05" stroke="#f0a8a8" stroke-width="1.1" /><line x1="640.20" y1="476.75" x2="644.40" y2="467.05" stroke="#f0a8a8" stroke-width="1.1" /><line x1="624.20" y1="460.55" x2="624.20" y2="454.15" stroke="#f0a8a8" stroke-width="1.0" /><line x1="617.90" y1="467.05" x2="631.20" y2="467.05" stroke="#9fd8ee" stroke-width="1.0" /><circle cx="611.20" cy="370.30" r="4.00" fill="#f4f0b0" /><circle cx="611.20" cy="370.30" r="2.60" fill="#fbf8d8" /><circle cx="612.20" cy="370.30" r="1.80" fill="#f0a8a8" /><circle cx="617.90" cy="370.30" r="1.90" fill="#ecea6a" /><circle cx="631.20" cy="370.30" r="3.50" fill="#86ccee" /><circle cx="630.60" cy="369.50" r="1.80" fill="#b0e0f6" /><circle cx="644.40" cy="370.30" r="3.50" fill="#86ccee" /><circle cx="643.80" cy="369.50" r="1.80" fill="#b0e0f6" /><circle cx="624.20" cy="363.80" r="1.90" fill="#f0a8a8" /><circle cx="624.20" cy="363.80" r="0.90" fill="#fbe0e0" /><circle cx="624.20" cy="376.80" r="1.90" fill="#f0a8a8" /><circle cx="624.20" cy="376.80" r="0.90" fill="#fbe0e0" /><circle cx="640.20" cy="360.60" r="1.90" fill="#f0a8a8" /><circle cx="640.20" cy="360.60" r="0.90" fill="#fbe0e0" /><circle cx="611.20" cy="389.65" r="4.00" fill="#f4f0b0" /><circle cx="611.20" cy="389.65" r="2.60" fill="#fbf8d8" /><circle cx="612.20" cy="389.65" r="1.80" fill="#f0a8a8" /><circle cx="617.90" cy="389.65" r="1.90" fill="#ecea6a" /><circle cx="631.20" cy="389.65" r="3.50" fill="#86ccee" /><circle cx="630.60" cy="388.85" r="1.80" fill="#b0e0f6" /><circle cx="644.40" cy="389.65" r="3.50" fill="#86ccee" /><circle cx="643.80" cy="388.85" r="1.80" fill="#b0e0f6" /><circle cx="624.20" cy="383.15" r="1.90" fill="#f0a8a8" /><circle cx="624.20" cy="383.15" r="0.90" fill="#fbe0e0" /><circle cx="624.20" cy="396.15" r="1.90" fill="#f0a8a8" /><circle cx="624.20" cy="396.15" r="0.90" fill="#fbe0e0" /><circle cx="640.20" cy="379.95" r="1.90" fill="#f0a8a8" /><circle cx="640.20" cy="379.95" r="0.90" fill="#fbe0e0" /><circle cx="611.20" cy="409.00" r="4.00" fill="#f4f0b0" /><circle cx="611.20" cy="409.00" r="2.60" fill="#fbf8d8" /><circle cx="612.20" cy="409.00" r="1.80" fill="#f0a8a8" /><circle cx="617.90" cy="409.00" r="1.90" fill="#ecea6a" /><circle cx="631.20" cy="409.00" r="3.50" fill="#86ccee" /><circle cx="630.60" cy="408.20" r="1.80" fill="#b0e0f6" /><circle cx="644.40" cy="409.00" r="3.50" fill="#86ccee" /><circle cx="643.80" cy="408.20" r="1.80" fill="#b0e0f6" /><circle cx="624.20" cy="402.50" r="1.90" fill="#f0a8a8" /><circle cx="624.20" cy="402.50" r="0.90" fill="#fbe0e0" /><circle cx="624.20" cy="415.50" r="1.90" fill="#f0a8a8" /><circle cx="624.20" cy="415.50" r="0.90" fill="#fbe0e0" /><circle cx="640.20" cy="399.30" r="1.90" fill="#f0a8a8" /><circle cx="640.20" cy="399.30" r="0.90" fill="#fbe0e0" /><circle cx="611.20" cy="428.35" r="4.00" fill="#f4f0b0" /><circle cx="611.20" cy="428.35" r="2.60" fill="#fbf8d8" /><circle cx="612.20" cy="428.35" r="1.80" fill="#f0a8a8" /><circle cx="617.90" cy="428.35" r="1.90" fill="#ecea6a" /><circle cx="631.20" cy="428.35" r="3.50" fill="#86ccee" /><circle cx="630.60" cy="427.55" r="1.80" fill="#b0e0f6" /><circle cx="644.40" cy="428.35" r="3.50" fill="#86ccee" /><circle cx="643.80" cy="427.55" r="1.80" fill="#b0e0f6" /><circle cx="624.20" cy="421.85" r="1.90" fill="#f0a8a8" /><circle cx="624.20" cy="421.85" r="0.90" fill="#fbe0e0" /><circle cx="624.20" cy="434.85" r="1.90" fill="#f0a8a8" /><circle cx="624.20" cy="434.85" r="0.90" fill="#fbe0e0" /><circle cx="640.20" cy="418.65" r="1.90" fill="#f0a8a8" /><circle cx="640.20" cy="418.65" r="0.90" fill="#fbe0e0" /><circle cx="611.20" cy="447.70" r="4.00" fill="#f4f0b0" /><circle cx="611.20" cy="447.70" r="2.60" fill="#fbf8d8" /><circle cx="612.20" cy="447.70" r="1.80" fill="#f0a8a8" /><circle cx="617.90" cy="447.70" r="1.90" fill="#ecea6a" /><circle cx="631.20" cy="447.70" r="3.50" fill="#86ccee" /><circle cx="630.60" cy="446.90" r="1.80" fill="#b0e0f6" /><circle cx="644.40" cy="447.70" r="3.50" fill="#86ccee" /><circle cx="643.80" cy="446.90" r="1.80" fill="#b0e0f6" /><circle cx="624.20" cy="441.20" r="1.90" fill="#f0a8a8" /><circle cx="624.20" cy="441.20" r="0.90" fill="#fbe0e0" /><circle cx="624.20" cy="454.20" r="1.90" fill="#f0a8a8" /><circle cx="624.20" cy="454.20" r="0.90" fill="#fbe0e0" /><circle cx="640.20" cy="438.00" r="1.90" fill="#f0a8a8" /><circle cx="640.20" cy="438.00" r="0.90" fill="#fbe0e0" /><circle cx="611.20" cy="467.05" r="4.00" fill="#f4f0b0" /><circle cx="611.20" cy="467.05" r="2.60" fill="#fbf8d8" /><circle cx="612.20" cy="467.05" r="1.80" fill="#f0a8a8" /><circle cx="617.90" cy="467.05" r="1.90" fill="#ecea6a" /><circle cx="631.20" cy="467.05" r="3.50" fill="#86ccee" /><circle cx="630.60" cy="466.25" r="1.80" fill="#b0e0f6" /><circle cx="644.40" cy="467.05" r="3.50" fill="#86ccee" /><circle cx="643.80" cy="466.25" r="1.80" fill="#b0e0f6" /><circle cx="624.20" cy="460.55" r="1.90" fill="#f0a8a8" /><circle cx="624.20" cy="460.55" r="0.90" fill="#fbe0e0" /><circle cx="624.20" cy="473.55" r="1.90" fill="#f0a8a8" /><circle cx="624.20" cy="473.55" r="0.90" fill="#fbe0e0" /><circle cx="640.20" cy="457.35" r="1.90" fill="#f0a8a8" /><circle cx="640.20" cy="457.35" r="0.90" fill="#fbe0e0" /><circle cx="640.20" cy="476.75" r="1.90" fill="#f0a8a8" /></g>
<line x1="570.70" y1="353.50" x2="570.70" y2="483.20" stroke="#222" stroke-width="1.1" stroke-dasharray="2.2,1.4"/>
<line x1="604.70" y1="353.50" x2="604.70" y2="483.20" stroke="#222" stroke-width="1.1" stroke-dasharray="2.2,1.4"/>
<polyline points="525.30,409.00 525.82,409.01 526.54,409.03 527.40,409.05 528.31,409.06 529.20,409.05 530.00,409.00 530.71,408.95 531.40,408.90 532.08,408.83 532.73,408.71 533.37,408.51 534.00,408.20 534.61,407.75 535.18,407.17 535.74,406.51 536.31,405.81 536.89,405.13 537.50,404.50 538.16,403.87 538.85,403.20 539.56,402.54 540.26,401.94 540.95,401.48 541.60,401.20 542.21,401.10 542.80,401.14 543.37,401.30 543.92,401.59 544.46,401.99 545.00,402.50 545.53,403.17 546.06,404.00 546.58,404.94 547.07,405.96 547.55,406.99 548.00,408.00 548.41,409.15 548.78,410.51 549.12,411.89 549.47,413.10 549.82,413.93 550.20,414.20 550.61,413.76 551.04,412.74 551.49,411.35 551.93,409.79 552.37,408.27 552.80,407.00 553.22,405.66 553.64,404.03 554.06,402.44 554.46,401.21 554.84,400.69 555.20,401.20 555.52,403.44 555.82,407.28 556.09,411.83 556.36,416.16 556.62,419.39 556.90,420.60 557.18,419.35 557.46,416.26 557.74,412.07 558.03,407.48 558.31,403.22 558.60,400.00 558.89,397.54 559.19,395.21 559.49,393.21 559.80,391.72 560.10,390.95 560.40,391.10 560.70,392.46 561.01,394.95 561.31,398.16 561.61,401.67 561.91,405.09 562.20,408.00 562.47,410.69 562.73,413.53 562.99,416.28 563.24,418.68 563.51,420.47 563.80,421.40 564.11,421.23 564.44,420.13 564.79,418.41 565.13,416.43 565.47,414.51 565.80,413.00 566.11,411.66 566.41,410.19 566.71,408.79 567.00,407.65 567.30,406.99 567.60,407.00 567.91,407.75 568.22,409.07 568.54,410.88 568.86,413.04 569.18,415.45 569.50,418.00 569.83,420.85 570.17,424.11 570.51,427.62 570.84,431.22 571.18,434.74 571.50,438.00 571.82,441.14 572.13,444.32 572.43,447.41 572.73,450.30 573.02,452.87 573.30,455.00 573.56,456.67 573.81,457.99 574.05,458.98 574.29,459.68 574.54,460.14 574.80,460.40 575.08,460.44 575.36,460.24 575.64,459.79 575.94,459.10 576.26,458.17 576.60,457.00 576.96,455.59 577.33,453.93 577.73,452.04 578.13,449.91 578.56,447.56 579.00,445.00 579.46,442.13 579.94,438.93 580.43,435.50 580.94,431.96 581.46,428.43 582.00,425.00 582.55,421.61 583.13,418.15 583.72,414.69 584.31,411.30 584.91,408.04 585.50,405.00 586.09,402.10 586.70,399.28 587.31,396.59 587.91,394.11 588.47,391.89 589.00,390.00 589.48,388.49 589.93,387.31 590.34,386.40 590.74,385.68 591.12,385.07 591.50,384.50 591.86,383.99 592.20,383.59 592.53,383.31 592.85,383.13 593.17,383.07 593.50,383.10 593.83,383.21 594.15,383.39 594.47,383.68 594.80,384.11 595.14,384.70 595.50,385.50 595.89,386.57 596.30,387.90 596.72,389.40 597.15,390.98 597.58,392.54 598.00,394.00 598.41,395.41 598.81,396.87 599.21,398.31 599.61,399.68 600.04,400.93 600.50,402.00 601.00,402.90 601.55,403.68 602.11,404.34 602.67,404.87 603.21,405.29 603.70,405.60 604.14,405.75 604.54,405.73 604.93,405.59 605.29,405.39 605.64,405.17 606.00,405.00 606.35,404.81 606.69,404.55 607.02,404.27 607.34,404.05 607.67,403.94 608.00,404.00 608.33,404.37 608.66,405.03 608.98,405.80 609.31,406.50 609.65,406.96 610.00,407.00 610.36,406.32 610.72,405.02 611.09,403.48 611.48,402.07 611.88,401.18 612.30,401.20 612.73,402.48 613.17,404.78 613.62,407.60 614.11,410.44 614.63,412.81 615.20,414.20 615.84,414.54 616.53,414.21 617.26,413.41 618.01,412.31 618.77,411.11 619.50,410.00 620.22,408.71 620.93,407.06 621.64,405.29 622.36,403.70 623.08,402.55 623.80,402.10 624.55,402.63 625.32,403.97 626.09,405.74 626.85,407.59 627.56,409.13 628.20,410.00 628.76,410.03 629.26,409.47 629.71,408.62 630.14,407.74 630.56,407.11 631.00,407.00 631.44,407.47 631.86,408.32 632.27,409.41 632.70,410.64 633.13,411.87 633.60,413.00 634.09,414.24 634.60,415.73 635.13,417.23 635.67,418.50 636.23,419.30 636.80,419.40 637.39,418.61 638.00,417.08 638.63,415.09 639.26,412.90 639.89,410.78 640.50,409.00 641.09,407.44 641.66,405.85 642.23,404.34 642.80,402.99 643.39,401.91 644.00,401.20 644.63,400.92 645.27,401.01 645.93,401.36 646.60,401.88 647.29,402.46 648.00,403.00 648.75,403.57 649.53,404.26 650.33,405.01 651.14,405.76 651.93,406.45 652.70,407.00 653.44,407.42 654.16,407.76 654.88,408.02 655.58,408.24 656.29,408.43 657.00,408.60 657.52,408.74 657.81,408.84 658.10,408.90 658.62,408.94 659.61,408.97 661.30,409.00 664.09,409.02 667.87,409.03 672.12,409.02 676.31,409.01 679.91,409.00 682.40,409.00" fill="none" stroke="#1a1af0" stroke-width="1.2" stroke-linejoin="round" />
<line x1="525.30" y1="353.00" x2="682.40" y2="353.00" stroke="#8a8484" stroke-width="1.1" /><line x1="682.40" y1="353.00" x2="682.40" y2="483.60" stroke="#8a8484" stroke-width="1.1" /><line x1="525.30" y1="353.00" x2="525.30" y2="483.60" stroke="#a49c9c" stroke-width="1.1" /><line x1="525.30" y1="483.60" x2="682.40" y2="483.60" stroke="#4b4040" stroke-width="1.1" />
<line x1="540.70" y1="483.60" x2="540.70" y2="482.20" stroke="#4b4040" stroke-width="0.8" />
<line x1="556.10" y1="483.60" x2="556.10" y2="481.20" stroke="#4b4040" stroke-width="0.8" />
<line x1="571.50" y1="483.60" x2="571.50" y2="482.20" stroke="#4b4040" stroke-width="0.8" />
<line x1="586.90" y1="483.60" x2="586.90" y2="481.20" stroke="#4b4040" stroke-width="0.8" />
<line x1="602.30" y1="483.60" x2="602.30" y2="482.20" stroke="#4b4040" stroke-width="0.8" />
<line x1="617.70" y1="483.60" x2="617.70" y2="481.20" stroke="#4b4040" stroke-width="0.8" />
<line x1="633.10" y1="483.60" x2="633.10" y2="482.20" stroke="#4b4040" stroke-width="0.8" />
<line x1="648.50" y1="483.60" x2="648.50" y2="481.20" stroke="#4b4040" stroke-width="0.8" />
<line x1="663.90" y1="483.60" x2="663.90" y2="482.20" stroke="#4b4040" stroke-width="0.8" />
<line x1="679.30" y1="483.60" x2="679.30" y2="481.20" stroke="#4b4040" stroke-width="0.8" />
<line x1="525.30" y1="464.95" x2="526.70" y2="464.95" stroke="#4b4040" stroke-width="0.8" />
<line x1="525.30" y1="446.30" x2="527.70" y2="446.30" stroke="#4b4040" stroke-width="0.8" />
<line x1="525.30" y1="427.65" x2="526.70" y2="427.65" stroke="#4b4040" stroke-width="0.8" />
<line x1="525.30" y1="409.00" x2="527.70" y2="409.00" stroke="#4b4040" stroke-width="0.8" />
<line x1="525.30" y1="390.35" x2="526.70" y2="390.35" stroke="#4b4040" stroke-width="0.8" />
<line x1="525.30" y1="371.70" x2="527.70" y2="371.70" stroke="#4b4040" stroke-width="0.8" />
<text x="525.30" y="492.40" font-size="8.8" text-anchor="middle" fill="#2a2a2a" >0</text>
<text x="556.10" y="492.40" font-size="8.8" text-anchor="middle" fill="#2a2a2a" >5</text>
<text x="586.90" y="492.40" font-size="8.8" text-anchor="middle" fill="#2a2a2a" >10</text>
<text x="617.70" y="492.40" font-size="8.8" text-anchor="middle" fill="#2a2a2a" >15</text>
<text x="648.50" y="492.40" font-size="8.8" text-anchor="middle" fill="#2a2a2a" >20</text>
<text x="679.30" y="492.40" font-size="8.8" text-anchor="middle" fill="#2a2a2a" >25</text>
<text x="522.00" y="374.90" font-size="8.8" text-anchor="end" fill="#2a2a2a" >0.004</text>
<text x="522.00" y="412.20" font-size="8.8" text-anchor="end" fill="#2a2a2a" >0.000</text>
<text x="522.00" y="449.50" font-size="8.8" text-anchor="end" fill="#2a2a2a" >-0.004</text>
<text x="522.00" y="486.80" font-size="8.8" text-anchor="end" fill="#2a2a2a" >-0.008</text>
<text x="590.80" y="502.40" font-size="10.0" text-anchor="start" fill="#000" >Z (Å)</text>
<g transform="translate(494.4,424.4) rotate(-90)"><text x="0" y="0" font-size="10.2" text-anchor="middle">△ρ (e Å<tspan font-size="5.6" dy="-3.4">-1</tspan><tspan dy="3.4">)</tspan></text></g>
<text x="538.80" y="375.00" font-size="10.2" text-anchor="start" fill="#000" >MoS<tspan font-size="6.2" dy="2.4">2</tspan></text>
<text x="609.20" y="376.00" font-size="9.8" text-anchor="start" fill="#000" >Sm<tspan font-size="6.0" dy="2.4">2</tspan><tspan font-size="9.8" dy="-2.4">O</tspan><tspan font-size="6.0" dy="2.4">2</tspan><tspan font-size="9.8" dy="-2.4">SO</tspan><tspan font-size="6.0" dy="2.4">4</tspan></text>
<text x="575.60" y="471.40" font-size="9.6" text-anchor="start" fill="#000" >5.2 Å</text>
</svg></body></html>
